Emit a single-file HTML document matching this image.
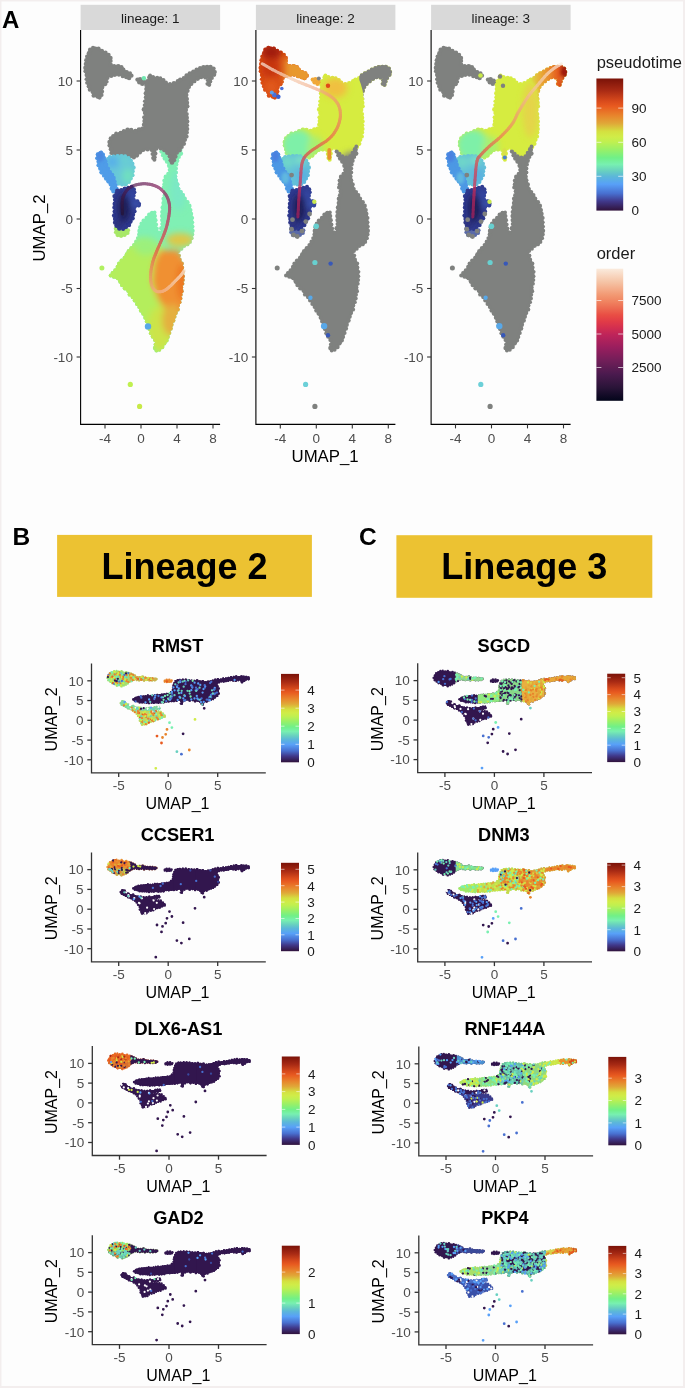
<!DOCTYPE html><html><head><meta charset="utf-8"><style>html,body{margin:0;padding:0;background:#fdfdfd}svg{display:block;will-change:transform;filter:blur(0.35px)}</style></head><body><svg width="685" height="1388" viewBox="0 0 685 1388"><defs><filter id="bl" x="-20%" y="-20%" width="140%" height="140%"><feGaussianBlur stdDeviation="3"/></filter><filter id="bl2" x="-20%" y="-20%" width="140%" height="140%"><feGaussianBlur stdDeviation="1.5"/></filter><path id="pTL" d="M95.3,46.6 C96.6,46.9 98.7,47.8 100.4,48.7 C102.1,49.6 104.0,50.7 105.5,51.8 C107.0,52.9 108.6,54.1 109.6,55.3 C110.6,56.5 111.5,57.8 111.7,58.9 C111.9,60.0 110.9,61.1 110.7,62.0 C110.5,62.9 110.2,63.9 110.5,64.3 C110.8,64.7 111.8,64.4 112.7,64.5 C113.6,64.6 114.6,64.8 115.8,65.0 C117.0,65.2 118.7,65.2 119.9,65.5 C121.1,65.8 122.1,66.4 122.9,67.1 C123.7,67.8 123.5,68.8 124.5,69.6 C125.5,70.4 127.8,71.0 129.0,71.8 C130.2,72.6 131.4,73.4 131.8,74.2 C132.2,75.0 131.8,76.0 131.3,76.8 C130.8,77.6 129.9,78.6 129.0,78.8 C128.1,79.0 127.0,78.2 126.0,77.9 C125.0,77.6 124.1,77.3 122.9,76.9 C121.7,76.5 120.2,75.7 118.8,75.5 C117.4,75.3 115.9,75.7 114.7,75.9 C113.5,76.1 112.7,76.6 111.7,76.9 C110.7,77.2 109.3,76.8 108.6,77.5 C107.9,78.2 107.8,79.8 107.6,80.9 C107.3,82.0 107.4,83.1 107.1,83.9 C106.8,84.7 106.1,84.8 105.5,85.5 C104.9,86.2 103.7,86.9 103.3,88.0 C102.9,89.1 103.2,90.9 103.0,92.1 C102.8,93.3 102.4,94.2 102.0,95.2 C101.6,96.2 101.0,97.8 100.4,98.4 C99.8,99.0 99.1,98.8 98.2,98.6 C97.3,98.3 96.2,97.5 95.3,96.9 C94.4,96.3 93.1,95.8 92.6,95.2 C92.0,94.6 92.4,93.8 92.0,93.1 C91.6,92.4 90.8,91.9 90.2,91.1 C89.6,90.2 88.8,89.4 88.2,88.0 C87.6,86.6 87.1,84.9 86.6,82.9 C86.1,80.9 85.7,77.8 85.4,75.8 C85.1,73.8 84.6,72.6 84.6,70.7 C84.6,68.8 85.2,66.5 85.4,64.5 C85.6,62.5 85.7,60.3 86.0,58.4 C86.3,56.5 86.8,54.8 87.5,53.3 C88.2,51.8 89.1,50.2 90.0,49.2 C90.9,48.2 91.9,47.6 92.8,47.2 C93.7,46.8 94.0,46.4 95.3,46.6Z"/><g id="gTL"><use href="#pTL"/><circle cx="98.5" cy="48.6" r="2.1"/><circle cx="101.9" cy="50.9" r="2.1"/><circle cx="105.5" cy="52.8" r="2.2"/><circle cx="108.6" cy="54.9" r="2.1"/><circle cx="110.4" cy="58.0" r="2.3"/><circle cx="110.7" cy="61.0" r="2.0"/><circle cx="110.6" cy="64.8" r="2.3"/><circle cx="114.3" cy="65.8" r="1.8"/><circle cx="118.2" cy="66.5" r="2.4"/><circle cx="121.4" cy="67.2" r="2.2"/><circle cx="123.6" cy="69.4" r="1.8"/><circle cx="126.9" cy="71.7" r="1.8"/><circle cx="130.1" cy="73.1" r="1.9"/><circle cx="131.5" cy="75.7" r="2.1"/><circle cx="129.1" cy="78.0" r="2.3"/><circle cx="126.3" cy="77.1" r="2.2"/><circle cx="122.8" cy="76.0" r="2.2"/><circle cx="118.9" cy="74.8" r="2.0"/><circle cx="114.8" cy="74.6" r="2.4"/><circle cx="111.2" cy="75.8" r="2.2"/><circle cx="107.6" cy="78.1" r="1.9"/><circle cx="106.9" cy="81.8" r="1.8"/><circle cx="105.2" cy="84.3" r="2.0"/><circle cx="102.3" cy="87.5" r="2.0"/><circle cx="101.8" cy="91.6" r="2.3"/><circle cx="101.7" cy="95.1" r="1.9"/><circle cx="99.5" cy="97.6" r="2.1"/><circle cx="97.5" cy="96.8" r="2.0"/><circle cx="93.7" cy="95.6" r="2.2"/><circle cx="92.8" cy="92.3" r="2.0"/><circle cx="89.7" cy="89.8" r="2.0"/><circle cx="88.9" cy="86.2" r="2.3"/><circle cx="87.0" cy="82.8" r="1.9"/><circle cx="86.3" cy="79.3" r="1.8"/><circle cx="86.4" cy="75.0" r="1.9"/><circle cx="85.5" cy="71.2" r="2.1"/><circle cx="85.4" cy="67.7" r="2.2"/><circle cx="85.9" cy="63.9" r="2.2"/><circle cx="86.2" cy="60.2" r="2.1"/><circle cx="87.0" cy="56.4" r="2.0"/><circle cx="88.9" cy="53.4" r="2.3"/><circle cx="90.2" cy="49.9" r="2.3"/><circle cx="93.0" cy="47.7" r="2.0"/></g><clipPath id="cTL"><use href="#pTL"/><circle cx="98.5" cy="48.6" r="2.1"/><circle cx="101.9" cy="50.9" r="2.1"/><circle cx="105.5" cy="52.8" r="2.2"/><circle cx="108.6" cy="54.9" r="2.1"/><circle cx="110.4" cy="58.0" r="2.3"/><circle cx="110.7" cy="61.0" r="2.0"/><circle cx="110.6" cy="64.8" r="2.3"/><circle cx="114.3" cy="65.8" r="1.8"/><circle cx="118.2" cy="66.5" r="2.4"/><circle cx="121.4" cy="67.2" r="2.2"/><circle cx="123.6" cy="69.4" r="1.8"/><circle cx="126.9" cy="71.7" r="1.8"/><circle cx="130.1" cy="73.1" r="1.9"/><circle cx="131.5" cy="75.7" r="2.1"/><circle cx="129.1" cy="78.0" r="2.3"/><circle cx="126.3" cy="77.1" r="2.2"/><circle cx="122.8" cy="76.0" r="2.2"/><circle cx="118.9" cy="74.8" r="2.0"/><circle cx="114.8" cy="74.6" r="2.4"/><circle cx="111.2" cy="75.8" r="2.2"/><circle cx="107.6" cy="78.1" r="1.9"/><circle cx="106.9" cy="81.8" r="1.8"/><circle cx="105.2" cy="84.3" r="2.0"/><circle cx="102.3" cy="87.5" r="2.0"/><circle cx="101.8" cy="91.6" r="2.3"/><circle cx="101.7" cy="95.1" r="1.9"/><circle cx="99.5" cy="97.6" r="2.1"/><circle cx="97.5" cy="96.8" r="2.0"/><circle cx="93.7" cy="95.6" r="2.2"/><circle cx="92.8" cy="92.3" r="2.0"/><circle cx="89.7" cy="89.8" r="2.0"/><circle cx="88.9" cy="86.2" r="2.3"/><circle cx="87.0" cy="82.8" r="1.9"/><circle cx="86.3" cy="79.3" r="1.8"/><circle cx="86.4" cy="75.0" r="1.9"/><circle cx="85.5" cy="71.2" r="2.1"/><circle cx="85.4" cy="67.7" r="2.2"/><circle cx="85.9" cy="63.9" r="2.2"/><circle cx="86.2" cy="60.2" r="2.1"/><circle cx="87.0" cy="56.4" r="2.0"/><circle cx="88.9" cy="53.4" r="2.3"/><circle cx="90.2" cy="49.9" r="2.3"/><circle cx="93.0" cy="47.7" r="2.0"/></clipPath><path id="pSMALL" d="M136.7,79.3 C136.9,78.6 138.4,78.4 139.3,78.3 C140.2,78.2 141.3,78.4 142.3,78.8 C143.3,79.2 145.1,80.1 145.4,80.9 C145.8,81.8 145.1,83.4 144.4,83.9 C143.7,84.4 142.3,84.3 141.3,84.1 C140.3,83.9 139.0,83.4 138.2,82.6 C137.4,81.8 136.5,80.0 136.7,79.3Z"/><g id="gSMALL"><use href="#pSMALL"/><circle cx="140.1" cy="79.1" r="2.2"/><circle cx="143.3" cy="80.3" r="1.9"/><circle cx="145.0" cy="82.4" r="2.0"/><circle cx="142.3" cy="83.7" r="2.3"/><circle cx="139.3" cy="82.2" r="2.2"/><circle cx="137.5" cy="79.6" r="2.2"/></g><clipPath id="cSMALL"><use href="#pSMALL"/><circle cx="140.1" cy="79.1" r="2.2"/><circle cx="143.3" cy="80.3" r="1.9"/><circle cx="145.0" cy="82.4" r="2.0"/><circle cx="142.3" cy="83.7" r="2.3"/><circle cx="139.3" cy="82.2" r="2.2"/><circle cx="137.5" cy="79.6" r="2.2"/></clipPath><path id="pMAIN" d="M145.6,84.8 C145.9,82.9 146.4,82.1 146.8,81.1 C147.2,80.1 148.0,79.5 148.3,78.6 C148.6,77.7 148.0,76.1 148.5,75.5 C149.0,74.9 150.3,74.7 151.2,74.9 C152.0,75.1 152.4,76.2 153.6,76.5 C154.8,76.8 157.2,76.5 158.6,76.7 C159.9,77.0 160.7,77.4 161.7,78.0 C162.7,78.6 163.7,79.5 164.8,80.4 C165.9,81.3 167.2,82.8 168.5,83.3 C169.8,83.8 171.1,83.6 172.3,83.3 C173.6,83.0 175.0,82.4 176.0,81.7 C177.0,81.0 177.5,79.8 178.5,79.2 C179.5,78.6 181.0,78.6 182.2,78.0 C183.4,77.4 184.4,76.5 185.9,75.5 C187.4,74.5 189.2,72.8 190.9,71.8 C192.6,70.8 194.2,70.1 195.8,69.3 C197.5,68.5 198.9,67.4 200.8,66.8 C202.7,66.2 205.1,65.7 207.0,65.7 C208.9,65.7 210.7,65.8 212.0,66.6 C213.3,67.4 214.5,69.1 215.1,70.3 C215.7,71.5 216.0,72.5 215.7,73.6 C215.4,74.7 213.9,75.7 213.2,76.7 C212.5,77.7 211.9,78.8 211.5,79.8 C211.1,80.8 211.3,81.9 210.9,82.9 C210.5,83.9 209.6,85.4 208.9,85.6 C208.2,85.8 207.1,85.2 206.8,84.2 C206.6,83.2 207.5,80.9 207.4,79.8 C207.3,78.7 207.4,78.0 206.5,77.8 C205.6,77.5 203.6,77.9 202.0,78.3 C200.4,78.7 198.5,79.2 197.1,80.0 C195.7,80.8 194.4,81.9 193.4,82.9 C192.4,83.9 191.6,85.0 190.9,86.0 C190.2,87.0 189.5,88.1 189.0,89.1 C188.5,90.1 188.1,90.7 187.8,92.2 C187.5,93.8 187.2,96.3 187.2,98.4 C187.2,100.5 187.9,102.5 187.8,104.6 C187.7,106.7 186.8,108.3 186.8,110.8 C186.8,113.3 187.7,116.5 187.8,119.5 C187.9,122.5 187.8,126.2 187.6,128.9 C187.4,131.6 187.4,133.5 186.9,135.8 C186.4,138.1 185.7,140.6 184.8,142.7 C184.0,144.8 183.0,146.7 181.8,148.3 C180.6,149.9 178.8,150.6 177.7,152.4 C176.5,154.2 175.7,157.7 174.9,159.4 C174.1,161.2 173.5,162.4 172.8,162.9 C172.1,163.4 171.3,163.2 170.7,162.2 C170.1,161.1 170.2,158.2 169.3,156.6 C168.4,155.0 166.8,153.8 165.2,152.4 C163.6,151.0 161.1,148.5 159.6,148.3 C158.1,148.1 156.8,149.2 156.2,151.1 C155.5,152.9 156.1,157.8 155.7,159.4 C155.3,161.0 154.2,160.9 153.6,160.4 C153.0,159.9 152.6,158.3 152.2,156.6 C151.8,154.9 152.4,151.3 151.3,150.2 C150.2,149.1 147.7,149.4 145.8,150.0 C144.0,150.6 142.0,152.5 140.2,153.8 C138.3,155.1 136.8,157.4 134.7,158.0 C132.6,158.6 130.0,157.3 127.7,157.3 C125.4,157.3 122.9,158.1 120.8,158.0 C118.7,157.9 116.9,157.3 115.3,156.6 C113.7,155.9 112.0,155.2 111.1,153.8 C110.2,152.4 110.0,149.9 109.7,148.3 C109.4,146.7 109.0,145.5 109.0,144.1 C109.0,142.7 109.2,141.4 109.7,140.0 C110.2,138.6 110.7,137.0 111.8,135.8 C112.9,134.6 114.6,133.9 116.6,133.0 C118.6,132.1 121.5,131.0 123.6,130.3 C125.7,129.6 127.2,129.0 129.1,129.0 C130.9,129.0 132.8,130.4 134.7,130.3 C136.5,130.2 138.7,128.7 140.2,128.2 C141.7,127.7 143.0,127.8 143.5,127.2 C144.0,126.6 143.3,125.8 143.2,124.7 C143.1,123.6 142.8,122.1 143.0,120.5 C143.2,118.9 144.1,116.6 144.2,115.0 C144.2,113.4 143.3,112.9 143.3,110.8 C143.3,108.7 144.0,105.3 144.3,102.2 C144.6,99.1 144.8,95.1 145.0,92.2 C145.2,89.3 145.3,86.7 145.6,84.8Z"/><g id="gMAIN"><use href="#pMAIN"/><circle cx="147.3" cy="81.3" r="2.2"/><circle cx="149.4" cy="77.6" r="2.3"/><circle cx="150.1" cy="75.3" r="1.9"/><circle cx="153.1" cy="76.8" r="1.9"/><circle cx="157.2" cy="77.6" r="1.9"/><circle cx="160.4" cy="78.2" r="1.9"/><circle cx="163.4" cy="80.1" r="2.1"/><circle cx="165.8" cy="82.8" r="2.2"/><circle cx="170.0" cy="83.9" r="2.0"/><circle cx="174.0" cy="83.2" r="2.3"/><circle cx="177.9" cy="81.4" r="2.3"/><circle cx="180.2" cy="79.8" r="2.2"/><circle cx="183.9" cy="78.4" r="2.3"/><circle cx="186.7" cy="75.6" r="2.3"/><circle cx="189.8" cy="73.5" r="2.3"/><circle cx="193.3" cy="71.5" r="2.1"/><circle cx="196.6" cy="69.6" r="2.1"/><circle cx="200.0" cy="67.8" r="1.9"/><circle cx="203.5" cy="67.3" r="2.3"/><circle cx="207.1" cy="67.0" r="2.2"/><circle cx="210.5" cy="66.9" r="2.2"/><circle cx="213.5" cy="68.6" r="2.2"/><circle cx="215.0" cy="71.9" r="1.9"/><circle cx="214.2" cy="74.8" r="2.1"/><circle cx="211.8" cy="78.0" r="2.1"/><circle cx="210.3" cy="81.6" r="2.0"/><circle cx="209.2" cy="84.8" r="2.1"/><circle cx="207.3" cy="83.8" r="1.9"/><circle cx="207.9" cy="80.2" r="2.0"/><circle cx="205.4" cy="77.4" r="2.2"/><circle cx="201.2" cy="77.2" r="2.0"/><circle cx="197.6" cy="78.6" r="2.4"/><circle cx="194.5" cy="81.4" r="1.9"/><circle cx="191.2" cy="83.8" r="2.3"/><circle cx="189.1" cy="87.1" r="1.9"/><circle cx="187.4" cy="90.8" r="2.3"/><circle cx="186.2" cy="95.0" r="2.3"/><circle cx="186.7" cy="99.0" r="2.3"/><circle cx="187.0" cy="102.8" r="2.2"/><circle cx="187.1" cy="106.3" r="2.4"/><circle cx="185.9" cy="110.0" r="2.2"/><circle cx="186.6" cy="114.1" r="2.2"/><circle cx="186.8" cy="117.8" r="2.2"/><circle cx="187.2" cy="121.4" r="2.2"/><circle cx="187.1" cy="125.3" r="2.0"/><circle cx="187.1" cy="128.9" r="2.2"/><circle cx="187.0" cy="132.5" r="1.9"/><circle cx="186.4" cy="136.4" r="2.2"/><circle cx="185.0" cy="139.8" r="2.1"/><circle cx="184.0" cy="143.8" r="2.1"/><circle cx="181.9" cy="147.0" r="1.9"/><circle cx="179.5" cy="150.0" r="2.4"/><circle cx="177.0" cy="152.8" r="2.0"/><circle cx="175.4" cy="156.5" r="2.2"/><circle cx="174.1" cy="160.2" r="2.1"/><circle cx="172.0" cy="162.5" r="2.3"/><circle cx="170.5" cy="160.2" r="2.0"/><circle cx="170.0" cy="156.3" r="2.4"/><circle cx="167.2" cy="153.0" r="2.1"/><circle cx="164.2" cy="150.2" r="2.0"/><circle cx="160.8" cy="148.4" r="2.1"/><circle cx="156.4" cy="148.4" r="2.2"/><circle cx="155.3" cy="153.4" r="2.2"/><circle cx="154.7" cy="157.3" r="2.0"/><circle cx="154.4" cy="159.8" r="2.0"/><circle cx="153.1" cy="157.9" r="2.0"/><circle cx="152.5" cy="153.9" r="2.0"/><circle cx="151.6" cy="150.0" r="2.0"/><circle cx="147.6" cy="149.2" r="2.3"/><circle cx="143.7" cy="150.1" r="1.8"/><circle cx="140.1" cy="152.5" r="1.9"/><circle cx="137.0" cy="155.6" r="2.1"/><circle cx="133.9" cy="157.5" r="2.0"/><circle cx="130.0" cy="156.8" r="1.9"/><circle cx="125.4" cy="156.3" r="1.9"/><circle cx="121.4" cy="156.9" r="1.9"/><circle cx="117.5" cy="156.8" r="2.0"/><circle cx="114.0" cy="155.6" r="1.9"/><circle cx="111.4" cy="153.0" r="2.1"/><circle cx="111.1" cy="149.2" r="2.4"/><circle cx="109.5" cy="145.6" r="2.1"/><circle cx="109.6" cy="142.1" r="2.3"/><circle cx="110.9" cy="138.5" r="2.3"/><circle cx="113.1" cy="135.8" r="1.9"/><circle cx="116.1" cy="133.5" r="1.9"/><circle cx="120.5" cy="132.6" r="1.9"/><circle cx="123.8" cy="131.0" r="2.0"/><circle cx="127.6" cy="129.8" r="2.3"/><circle cx="131.2" cy="130.0" r="2.2"/><circle cx="135.4" cy="131.2" r="2.4"/><circle cx="139.1" cy="129.6" r="2.4"/><circle cx="142.3" cy="128.5" r="2.1"/><circle cx="144.1" cy="124.8" r="2.3"/><circle cx="144.2" cy="121.0" r="1.9"/><circle cx="144.2" cy="117.3" r="2.1"/><circle cx="144.9" cy="113.1" r="2.1"/><circle cx="144.0" cy="109.4" r="2.4"/><circle cx="144.6" cy="105.1" r="1.9"/><circle cx="144.7" cy="101.3" r="1.8"/><circle cx="145.7" cy="97.2" r="1.9"/><circle cx="145.9" cy="93.2" r="2.3"/><circle cx="146.5" cy="89.0" r="2.3"/><circle cx="146.3" cy="84.9" r="2.2"/></g><clipPath id="cMAIN"><use href="#pMAIN"/><circle cx="147.3" cy="81.3" r="2.2"/><circle cx="149.4" cy="77.6" r="2.3"/><circle cx="150.1" cy="75.3" r="1.9"/><circle cx="153.1" cy="76.8" r="1.9"/><circle cx="157.2" cy="77.6" r="1.9"/><circle cx="160.4" cy="78.2" r="1.9"/><circle cx="163.4" cy="80.1" r="2.1"/><circle cx="165.8" cy="82.8" r="2.2"/><circle cx="170.0" cy="83.9" r="2.0"/><circle cx="174.0" cy="83.2" r="2.3"/><circle cx="177.9" cy="81.4" r="2.3"/><circle cx="180.2" cy="79.8" r="2.2"/><circle cx="183.9" cy="78.4" r="2.3"/><circle cx="186.7" cy="75.6" r="2.3"/><circle cx="189.8" cy="73.5" r="2.3"/><circle cx="193.3" cy="71.5" r="2.1"/><circle cx="196.6" cy="69.6" r="2.1"/><circle cx="200.0" cy="67.8" r="1.9"/><circle cx="203.5" cy="67.3" r="2.3"/><circle cx="207.1" cy="67.0" r="2.2"/><circle cx="210.5" cy="66.9" r="2.2"/><circle cx="213.5" cy="68.6" r="2.2"/><circle cx="215.0" cy="71.9" r="1.9"/><circle cx="214.2" cy="74.8" r="2.1"/><circle cx="211.8" cy="78.0" r="2.1"/><circle cx="210.3" cy="81.6" r="2.0"/><circle cx="209.2" cy="84.8" r="2.1"/><circle cx="207.3" cy="83.8" r="1.9"/><circle cx="207.9" cy="80.2" r="2.0"/><circle cx="205.4" cy="77.4" r="2.2"/><circle cx="201.2" cy="77.2" r="2.0"/><circle cx="197.6" cy="78.6" r="2.4"/><circle cx="194.5" cy="81.4" r="1.9"/><circle cx="191.2" cy="83.8" r="2.3"/><circle cx="189.1" cy="87.1" r="1.9"/><circle cx="187.4" cy="90.8" r="2.3"/><circle cx="186.2" cy="95.0" r="2.3"/><circle cx="186.7" cy="99.0" r="2.3"/><circle cx="187.0" cy="102.8" r="2.2"/><circle cx="187.1" cy="106.3" r="2.4"/><circle cx="185.9" cy="110.0" r="2.2"/><circle cx="186.6" cy="114.1" r="2.2"/><circle cx="186.8" cy="117.8" r="2.2"/><circle cx="187.2" cy="121.4" r="2.2"/><circle cx="187.1" cy="125.3" r="2.0"/><circle cx="187.1" cy="128.9" r="2.2"/><circle cx="187.0" cy="132.5" r="1.9"/><circle cx="186.4" cy="136.4" r="2.2"/><circle cx="185.0" cy="139.8" r="2.1"/><circle cx="184.0" cy="143.8" r="2.1"/><circle cx="181.9" cy="147.0" r="1.9"/><circle cx="179.5" cy="150.0" r="2.4"/><circle cx="177.0" cy="152.8" r="2.0"/><circle cx="175.4" cy="156.5" r="2.2"/><circle cx="174.1" cy="160.2" r="2.1"/><circle cx="172.0" cy="162.5" r="2.3"/><circle cx="170.5" cy="160.2" r="2.0"/><circle cx="170.0" cy="156.3" r="2.4"/><circle cx="167.2" cy="153.0" r="2.1"/><circle cx="164.2" cy="150.2" r="2.0"/><circle cx="160.8" cy="148.4" r="2.1"/><circle cx="156.4" cy="148.4" r="2.2"/><circle cx="155.3" cy="153.4" r="2.2"/><circle cx="154.7" cy="157.3" r="2.0"/><circle cx="154.4" cy="159.8" r="2.0"/><circle cx="153.1" cy="157.9" r="2.0"/><circle cx="152.5" cy="153.9" r="2.0"/><circle cx="151.6" cy="150.0" r="2.0"/><circle cx="147.6" cy="149.2" r="2.3"/><circle cx="143.7" cy="150.1" r="1.8"/><circle cx="140.1" cy="152.5" r="1.9"/><circle cx="137.0" cy="155.6" r="2.1"/><circle cx="133.9" cy="157.5" r="2.0"/><circle cx="130.0" cy="156.8" r="1.9"/><circle cx="125.4" cy="156.3" r="1.9"/><circle cx="121.4" cy="156.9" r="1.9"/><circle cx="117.5" cy="156.8" r="2.0"/><circle cx="114.0" cy="155.6" r="1.9"/><circle cx="111.4" cy="153.0" r="2.1"/><circle cx="111.1" cy="149.2" r="2.4"/><circle cx="109.5" cy="145.6" r="2.1"/><circle cx="109.6" cy="142.1" r="2.3"/><circle cx="110.9" cy="138.5" r="2.3"/><circle cx="113.1" cy="135.8" r="1.9"/><circle cx="116.1" cy="133.5" r="1.9"/><circle cx="120.5" cy="132.6" r="1.9"/><circle cx="123.8" cy="131.0" r="2.0"/><circle cx="127.6" cy="129.8" r="2.3"/><circle cx="131.2" cy="130.0" r="2.2"/><circle cx="135.4" cy="131.2" r="2.4"/><circle cx="139.1" cy="129.6" r="2.4"/><circle cx="142.3" cy="128.5" r="2.1"/><circle cx="144.1" cy="124.8" r="2.3"/><circle cx="144.2" cy="121.0" r="1.9"/><circle cx="144.2" cy="117.3" r="2.1"/><circle cx="144.9" cy="113.1" r="2.1"/><circle cx="144.0" cy="109.4" r="2.4"/><circle cx="144.6" cy="105.1" r="1.9"/><circle cx="144.7" cy="101.3" r="1.8"/><circle cx="145.7" cy="97.2" r="1.9"/><circle cx="145.9" cy="93.2" r="2.3"/><circle cx="146.5" cy="89.0" r="2.3"/><circle cx="146.3" cy="84.9" r="2.2"/></clipPath><path id="pKITE" d="M161.0,151.0 C161.3,150.5 164.5,154.0 166.0,155.0 C167.5,156.0 168.7,156.8 170.0,157.0 C171.3,157.2 172.7,157.0 174.0,156.0 C175.3,155.0 176.8,152.7 178.0,151.0 C179.2,149.3 180.4,145.7 181.0,146.0 C181.6,146.3 181.9,150.7 181.5,153.0 C181.1,155.3 179.3,158.0 178.5,160.0 C177.7,162.0 176.8,163.3 176.5,165.0 C176.2,166.7 176.3,168.1 176.4,170.3 C176.5,172.5 176.3,175.1 176.8,178.1 C177.3,181.1 178.1,185.4 179.4,188.4 C180.7,191.4 182.9,193.3 184.6,196.2 C186.3,199.1 188.5,202.8 189.8,205.7 C191.1,208.6 191.8,210.8 192.4,213.5 C193.0,216.2 193.2,219.3 193.3,222.2 C193.5,225.1 193.5,228.2 193.3,230.8 C193.2,233.4 193.0,235.6 192.4,237.8 C191.8,240.0 191.1,242.3 189.8,243.8 C188.5,245.3 186.2,245.4 184.6,246.6 C183.0,247.8 181.3,249.5 180.3,250.7 C179.3,251.9 178.2,251.9 178.5,254.0 C178.8,256.1 181.5,260.0 182.4,263.3 C183.3,266.6 183.9,270.2 183.9,274.0 C183.9,277.8 182.9,282.2 182.4,286.3 C181.9,290.4 181.6,294.5 180.8,298.6 C180.0,302.7 179.1,306.7 177.8,310.8 C176.5,314.9 174.5,319.5 173.2,323.1 C171.9,326.7 171.1,329.3 170.2,332.2 C169.3,335.1 169.1,338.1 167.9,340.4 C166.7,342.7 164.6,344.5 163.2,346.2 C161.8,347.9 160.7,349.7 159.5,350.5 C158.3,351.3 156.8,351.2 156.0,351.0 C155.2,350.8 154.7,350.5 154.5,349.0 C154.3,347.5 155.7,344.6 155.0,342.0 C154.3,339.4 151.7,336.2 150.4,333.4 C149.1,330.6 148.4,328.2 147.1,325.0 C145.8,321.8 143.8,316.8 142.5,314.0 C141.2,311.2 140.3,310.1 139.0,308.0 C137.7,305.9 136.6,303.9 134.9,301.6 C133.2,299.3 130.5,296.0 129.0,294.0 C127.5,292.0 127.0,291.0 125.7,289.4 C124.4,287.8 122.3,286.0 121.0,284.5 C119.7,283.0 119.3,281.4 118.0,280.2 C116.7,279.0 114.3,278.3 113.0,277.5 C111.7,276.7 110.5,276.5 110.3,275.6 C110.1,274.7 111.2,272.9 112.0,272.0 C112.8,271.1 113.8,271.3 114.9,270.0 C116.0,268.7 117.2,265.9 118.5,264.0 C119.8,262.1 121.3,260.5 122.6,258.7 C123.8,256.9 124.7,254.8 126.0,253.0 C127.3,251.2 128.8,249.7 130.3,248.0 C131.8,246.3 133.8,244.7 135.0,243.0 C136.2,241.3 136.9,239.8 137.5,238.0 C138.1,236.2 138.1,234.0 138.5,232.0 C138.9,230.0 139.3,227.8 140.0,226.0 C140.7,224.2 141.3,222.8 142.5,221.2 C143.7,219.6 145.8,218.0 147.0,216.6 C148.2,215.2 148.9,213.4 150.0,212.5 C151.1,211.6 152.5,211.1 153.5,211.3 C154.5,211.5 155.3,211.9 155.8,213.5 C156.3,215.1 156.0,218.4 156.3,221.0 C156.6,223.6 156.8,227.3 157.5,229.0 C158.2,230.7 159.9,232.2 160.5,231.0 C161.1,229.8 161.1,225.2 161.2,222.0 C161.3,218.8 161.1,215.6 161.3,212.0 C161.5,208.4 161.9,203.9 162.5,200.6 C163.1,197.2 164.7,194.2 164.8,191.9 C164.9,189.6 163.2,188.4 163.0,186.7 C162.8,185.0 163.4,183.2 163.8,181.5 C164.2,179.8 164.8,177.7 165.6,176.3 C166.3,174.9 167.9,174.6 168.3,172.9 C168.8,171.2 169.0,168.5 168.3,166.0 C167.6,163.5 165.2,160.5 164.0,158.0 C162.8,155.5 160.7,151.5 161.0,151.0Z"/><g id="gKITE"><use href="#pKITE"/><circle cx="164.0" cy="153.9" r="2.2"/><circle cx="166.8" cy="156.6" r="2.4"/><circle cx="170.8" cy="157.6" r="2.0"/><circle cx="175.1" cy="156.5" r="2.2"/><circle cx="177.4" cy="153.0" r="2.2"/><circle cx="179.7" cy="149.4" r="2.3"/><circle cx="181.0" cy="146.4" r="1.9"/><circle cx="180.5" cy="149.7" r="2.0"/><circle cx="180.8" cy="153.6" r="2.3"/><circle cx="179.0" cy="156.9" r="1.9"/><circle cx="177.2" cy="160.8" r="2.2"/><circle cx="176.2" cy="164.4" r="2.2"/><circle cx="175.9" cy="168.5" r="2.0"/><circle cx="176.0" cy="172.4" r="1.9"/><circle cx="175.3" cy="176.4" r="2.0"/><circle cx="175.9" cy="180.3" r="2.1"/><circle cx="177.2" cy="184.6" r="2.3"/><circle cx="178.5" cy="188.8" r="1.9"/><circle cx="180.6" cy="192.1" r="2.2"/><circle cx="183.1" cy="194.9" r="1.9"/><circle cx="184.7" cy="198.6" r="2.1"/><circle cx="187.5" cy="202.2" r="2.1"/><circle cx="189.3" cy="205.9" r="2.3"/><circle cx="190.6" cy="209.9" r="1.9"/><circle cx="191.3" cy="213.7" r="1.9"/><circle cx="192.4" cy="217.9" r="1.8"/><circle cx="192.3" cy="222.3" r="1.9"/><circle cx="192.6" cy="226.6" r="1.9"/><circle cx="192.5" cy="230.8" r="2.2"/><circle cx="192.2" cy="234.4" r="2.1"/><circle cx="191.5" cy="238.2" r="2.1"/><circle cx="190.0" cy="241.9" r="1.9"/><circle cx="187.5" cy="244.4" r="1.9"/><circle cx="184.0" cy="245.6" r="2.4"/><circle cx="181.5" cy="248.8" r="1.9"/><circle cx="178.5" cy="251.0" r="2.1"/><circle cx="178.7" cy="255.6" r="2.2"/><circle cx="179.6" cy="259.7" r="2.1"/><circle cx="181.8" cy="263.5" r="2.1"/><circle cx="182.1" cy="267.6" r="2.0"/><circle cx="183.2" cy="271.8" r="1.9"/><circle cx="182.9" cy="276.3" r="2.1"/><circle cx="182.8" cy="280.0" r="2.0"/><circle cx="182.4" cy="283.8" r="2.0"/><circle cx="181.0" cy="287.4" r="2.2"/><circle cx="181.3" cy="291.2" r="2.4"/><circle cx="180.7" cy="294.8" r="2.0"/><circle cx="180.5" cy="298.5" r="1.9"/><circle cx="179.6" cy="302.2" r="1.9"/><circle cx="178.0" cy="305.6" r="2.0"/><circle cx="177.6" cy="309.4" r="2.2"/><circle cx="175.8" cy="312.9" r="2.0"/><circle cx="174.5" cy="316.8" r="2.0"/><circle cx="173.2" cy="320.5" r="2.2"/><circle cx="171.3" cy="324.7" r="2.3"/><circle cx="170.5" cy="328.5" r="2.3"/><circle cx="169.3" cy="332.9" r="2.0"/><circle cx="167.7" cy="337.0" r="2.1"/><circle cx="166.6" cy="340.6" r="2.0"/><circle cx="164.2" cy="343.3" r="2.2"/><circle cx="162.0" cy="346.9" r="2.4"/><circle cx="159.3" cy="349.7" r="2.0"/><circle cx="156.4" cy="350.5" r="1.9"/><circle cx="155.1" cy="348.0" r="2.2"/><circle cx="155.6" cy="344.4" r="2.0"/><circle cx="155.1" cy="340.1" r="2.1"/><circle cx="153.0" cy="336.5" r="2.3"/><circle cx="150.9" cy="333.2" r="2.0"/><circle cx="149.4" cy="329.1" r="1.9"/><circle cx="148.0" cy="325.8" r="1.9"/><circle cx="146.7" cy="321.4" r="1.9"/><circle cx="145.2" cy="317.8" r="1.9"/><circle cx="143.4" cy="313.6" r="2.2"/><circle cx="141.3" cy="310.4" r="2.4"/><circle cx="139.4" cy="306.9" r="2.1"/><circle cx="137.0" cy="304.1" r="2.0"/><circle cx="134.8" cy="300.5" r="2.1"/><circle cx="132.9" cy="296.9" r="2.3"/><circle cx="129.8" cy="294.4" r="2.2"/><circle cx="128.3" cy="290.8" r="2.1"/><circle cx="125.1" cy="288.2" r="2.3"/><circle cx="122.4" cy="284.9" r="2.4"/><circle cx="120.5" cy="281.6" r="2.3"/><circle cx="117.8" cy="278.5" r="1.8"/><circle cx="113.9" cy="276.8" r="2.0"/><circle cx="110.7" cy="275.6" r="2.0"/><circle cx="112.5" cy="272.8" r="1.8"/><circle cx="115.5" cy="270.5" r="2.3"/><circle cx="117.7" cy="266.9" r="2.1"/><circle cx="119.4" cy="263.8" r="2.4"/><circle cx="121.8" cy="260.6" r="2.2"/><circle cx="124.5" cy="257.5" r="1.8"/><circle cx="126.7" cy="254.2" r="1.9"/><circle cx="129.0" cy="251.3" r="2.4"/><circle cx="131.6" cy="248.3" r="2.3"/><circle cx="134.2" cy="245.0" r="2.1"/><circle cx="136.5" cy="241.9" r="2.4"/><circle cx="137.8" cy="238.1" r="1.9"/><circle cx="139.4" cy="234.6" r="2.3"/><circle cx="139.7" cy="231.0" r="2.4"/><circle cx="140.4" cy="227.3" r="2.3"/><circle cx="141.7" cy="223.8" r="2.3"/><circle cx="143.6" cy="220.5" r="2.1"/><circle cx="146.8" cy="218.1" r="2.3"/><circle cx="149.2" cy="214.7" r="2.2"/><circle cx="152.0" cy="212.8" r="2.1"/><circle cx="154.7" cy="212.4" r="1.8"/><circle cx="154.9" cy="216.1" r="2.1"/><circle cx="155.5" cy="220.2" r="2.1"/><circle cx="156.2" cy="224.5" r="1.9"/><circle cx="156.8" cy="228.6" r="2.0"/><circle cx="159.3" cy="232.5" r="1.9"/><circle cx="161.4" cy="228.3" r="2.3"/><circle cx="162.0" cy="224.1" r="1.8"/><circle cx="162.2" cy="220.1" r="2.2"/><circle cx="162.2" cy="216.1" r="2.3"/><circle cx="162.0" cy="212.0" r="1.9"/><circle cx="162.7" cy="207.5" r="2.2"/><circle cx="163.2" cy="202.9" r="1.9"/><circle cx="163.6" cy="198.8" r="2.2"/><circle cx="164.8" cy="195.2" r="2.2"/><circle cx="165.5" cy="191.2" r="2.3"/><circle cx="163.8" cy="187.4" r="2.1"/><circle cx="164.3" cy="184.3" r="2.0"/><circle cx="164.5" cy="180.6" r="2.2"/><circle cx="165.8" cy="176.9" r="2.3"/><circle cx="168.4" cy="174.1" r="2.3"/><circle cx="169.6" cy="169.8" r="1.9"/><circle cx="169.1" cy="165.8" r="2.2"/><circle cx="167.0" cy="161.6" r="2.2"/><circle cx="165.0" cy="158.4" r="2.4"/><circle cx="163.2" cy="155.3" r="2.3"/><circle cx="161.4" cy="151.6" r="2.1"/></g><clipPath id="cKITE"><use href="#pKITE"/><circle cx="164.0" cy="153.9" r="2.2"/><circle cx="166.8" cy="156.6" r="2.4"/><circle cx="170.8" cy="157.6" r="2.0"/><circle cx="175.1" cy="156.5" r="2.2"/><circle cx="177.4" cy="153.0" r="2.2"/><circle cx="179.7" cy="149.4" r="2.3"/><circle cx="181.0" cy="146.4" r="1.9"/><circle cx="180.5" cy="149.7" r="2.0"/><circle cx="180.8" cy="153.6" r="2.3"/><circle cx="179.0" cy="156.9" r="1.9"/><circle cx="177.2" cy="160.8" r="2.2"/><circle cx="176.2" cy="164.4" r="2.2"/><circle cx="175.9" cy="168.5" r="2.0"/><circle cx="176.0" cy="172.4" r="1.9"/><circle cx="175.3" cy="176.4" r="2.0"/><circle cx="175.9" cy="180.3" r="2.1"/><circle cx="177.2" cy="184.6" r="2.3"/><circle cx="178.5" cy="188.8" r="1.9"/><circle cx="180.6" cy="192.1" r="2.2"/><circle cx="183.1" cy="194.9" r="1.9"/><circle cx="184.7" cy="198.6" r="2.1"/><circle cx="187.5" cy="202.2" r="2.1"/><circle cx="189.3" cy="205.9" r="2.3"/><circle cx="190.6" cy="209.9" r="1.9"/><circle cx="191.3" cy="213.7" r="1.9"/><circle cx="192.4" cy="217.9" r="1.8"/><circle cx="192.3" cy="222.3" r="1.9"/><circle cx="192.6" cy="226.6" r="1.9"/><circle cx="192.5" cy="230.8" r="2.2"/><circle cx="192.2" cy="234.4" r="2.1"/><circle cx="191.5" cy="238.2" r="2.1"/><circle cx="190.0" cy="241.9" r="1.9"/><circle cx="187.5" cy="244.4" r="1.9"/><circle cx="184.0" cy="245.6" r="2.4"/><circle cx="181.5" cy="248.8" r="1.9"/><circle cx="178.5" cy="251.0" r="2.1"/><circle cx="178.7" cy="255.6" r="2.2"/><circle cx="179.6" cy="259.7" r="2.1"/><circle cx="181.8" cy="263.5" r="2.1"/><circle cx="182.1" cy="267.6" r="2.0"/><circle cx="183.2" cy="271.8" r="1.9"/><circle cx="182.9" cy="276.3" r="2.1"/><circle cx="182.8" cy="280.0" r="2.0"/><circle cx="182.4" cy="283.8" r="2.0"/><circle cx="181.0" cy="287.4" r="2.2"/><circle cx="181.3" cy="291.2" r="2.4"/><circle cx="180.7" cy="294.8" r="2.0"/><circle cx="180.5" cy="298.5" r="1.9"/><circle cx="179.6" cy="302.2" r="1.9"/><circle cx="178.0" cy="305.6" r="2.0"/><circle cx="177.6" cy="309.4" r="2.2"/><circle cx="175.8" cy="312.9" r="2.0"/><circle cx="174.5" cy="316.8" r="2.0"/><circle cx="173.2" cy="320.5" r="2.2"/><circle cx="171.3" cy="324.7" r="2.3"/><circle cx="170.5" cy="328.5" r="2.3"/><circle cx="169.3" cy="332.9" r="2.0"/><circle cx="167.7" cy="337.0" r="2.1"/><circle cx="166.6" cy="340.6" r="2.0"/><circle cx="164.2" cy="343.3" r="2.2"/><circle cx="162.0" cy="346.9" r="2.4"/><circle cx="159.3" cy="349.7" r="2.0"/><circle cx="156.4" cy="350.5" r="1.9"/><circle cx="155.1" cy="348.0" r="2.2"/><circle cx="155.6" cy="344.4" r="2.0"/><circle cx="155.1" cy="340.1" r="2.1"/><circle cx="153.0" cy="336.5" r="2.3"/><circle cx="150.9" cy="333.2" r="2.0"/><circle cx="149.4" cy="329.1" r="1.9"/><circle cx="148.0" cy="325.8" r="1.9"/><circle cx="146.7" cy="321.4" r="1.9"/><circle cx="145.2" cy="317.8" r="1.9"/><circle cx="143.4" cy="313.6" r="2.2"/><circle cx="141.3" cy="310.4" r="2.4"/><circle cx="139.4" cy="306.9" r="2.1"/><circle cx="137.0" cy="304.1" r="2.0"/><circle cx="134.8" cy="300.5" r="2.1"/><circle cx="132.9" cy="296.9" r="2.3"/><circle cx="129.8" cy="294.4" r="2.2"/><circle cx="128.3" cy="290.8" r="2.1"/><circle cx="125.1" cy="288.2" r="2.3"/><circle cx="122.4" cy="284.9" r="2.4"/><circle cx="120.5" cy="281.6" r="2.3"/><circle cx="117.8" cy="278.5" r="1.8"/><circle cx="113.9" cy="276.8" r="2.0"/><circle cx="110.7" cy="275.6" r="2.0"/><circle cx="112.5" cy="272.8" r="1.8"/><circle cx="115.5" cy="270.5" r="2.3"/><circle cx="117.7" cy="266.9" r="2.1"/><circle cx="119.4" cy="263.8" r="2.4"/><circle cx="121.8" cy="260.6" r="2.2"/><circle cx="124.5" cy="257.5" r="1.8"/><circle cx="126.7" cy="254.2" r="1.9"/><circle cx="129.0" cy="251.3" r="2.4"/><circle cx="131.6" cy="248.3" r="2.3"/><circle cx="134.2" cy="245.0" r="2.1"/><circle cx="136.5" cy="241.9" r="2.4"/><circle cx="137.8" cy="238.1" r="1.9"/><circle cx="139.4" cy="234.6" r="2.3"/><circle cx="139.7" cy="231.0" r="2.4"/><circle cx="140.4" cy="227.3" r="2.3"/><circle cx="141.7" cy="223.8" r="2.3"/><circle cx="143.6" cy="220.5" r="2.1"/><circle cx="146.8" cy="218.1" r="2.3"/><circle cx="149.2" cy="214.7" r="2.2"/><circle cx="152.0" cy="212.8" r="2.1"/><circle cx="154.7" cy="212.4" r="1.8"/><circle cx="154.9" cy="216.1" r="2.1"/><circle cx="155.5" cy="220.2" r="2.1"/><circle cx="156.2" cy="224.5" r="1.9"/><circle cx="156.8" cy="228.6" r="2.0"/><circle cx="159.3" cy="232.5" r="1.9"/><circle cx="161.4" cy="228.3" r="2.3"/><circle cx="162.0" cy="224.1" r="1.8"/><circle cx="162.2" cy="220.1" r="2.2"/><circle cx="162.2" cy="216.1" r="2.3"/><circle cx="162.0" cy="212.0" r="1.9"/><circle cx="162.7" cy="207.5" r="2.2"/><circle cx="163.2" cy="202.9" r="1.9"/><circle cx="163.6" cy="198.8" r="2.2"/><circle cx="164.8" cy="195.2" r="2.2"/><circle cx="165.5" cy="191.2" r="2.3"/><circle cx="163.8" cy="187.4" r="2.1"/><circle cx="164.3" cy="184.3" r="2.0"/><circle cx="164.5" cy="180.6" r="2.2"/><circle cx="165.8" cy="176.9" r="2.3"/><circle cx="168.4" cy="174.1" r="2.3"/><circle cx="169.6" cy="169.8" r="1.9"/><circle cx="169.1" cy="165.8" r="2.2"/><circle cx="167.0" cy="161.6" r="2.2"/><circle cx="165.0" cy="158.4" r="2.4"/><circle cx="163.2" cy="155.3" r="2.3"/><circle cx="161.4" cy="151.6" r="2.1"/></clipPath><path id="pBLUE" d="M98.5,152.0 C99.3,151.0 100.6,150.7 101.5,151.0 C102.4,151.3 103.2,152.7 104.0,154.0 C104.8,155.3 105.4,157.0 106.0,159.0 C106.6,161.0 106.8,164.0 107.5,166.0 C108.2,168.0 109.5,169.4 110.5,171.0 C111.5,172.6 112.6,173.8 113.4,175.3 C114.2,176.8 115.0,178.5 115.5,180.0 C116.0,181.5 116.2,183.0 116.5,184.5 C116.8,186.0 117.3,187.6 117.0,189.0 C116.7,190.4 115.3,192.7 114.5,193.0 C113.7,193.3 112.7,192.2 112.0,191.0 C111.3,189.8 111.1,187.7 110.3,186.0 C109.5,184.3 108.0,182.5 107.0,181.0 C106.0,179.5 105.2,178.3 104.2,176.8 C103.2,175.3 102.0,173.8 101.0,172.0 C100.0,170.2 98.8,167.8 98.1,166.0 C97.4,164.2 97.3,162.5 97.0,161.0 C96.7,159.5 96.2,158.5 96.5,157.0 C96.8,155.5 97.7,153.0 98.5,152.0Z"/><g id="gBLUE"><use href="#pBLUE"/><circle cx="101.2" cy="152.3" r="1.8"/><circle cx="103.1" cy="154.5" r="1.9"/><circle cx="104.2" cy="157.7" r="1.8"/><circle cx="105.3" cy="161.2" r="2.2"/><circle cx="106.0" cy="164.9" r="2.4"/><circle cx="108.1" cy="168.5" r="2.0"/><circle cx="110.0" cy="172.0" r="2.0"/><circle cx="112.4" cy="174.7" r="1.9"/><circle cx="113.5" cy="178.1" r="2.3"/><circle cx="114.8" cy="181.6" r="1.9"/><circle cx="115.4" cy="185.2" r="2.1"/><circle cx="116.5" cy="188.5" r="2.1"/><circle cx="115.0" cy="191.5" r="1.8"/><circle cx="113.3" cy="191.4" r="2.0"/><circle cx="112.0" cy="188.5" r="2.4"/><circle cx="110.6" cy="184.5" r="2.0"/><circle cx="108.6" cy="181.3" r="2.4"/><circle cx="106.3" cy="178.4" r="2.4"/><circle cx="103.8" cy="175.7" r="1.9"/><circle cx="101.7" cy="172.3" r="2.4"/><circle cx="100.3" cy="168.6" r="2.2"/><circle cx="98.5" cy="165.3" r="2.1"/><circle cx="98.3" cy="161.7" r="1.9"/><circle cx="96.9" cy="158.2" r="1.8"/><circle cx="98.0" cy="154.6" r="2.3"/></g><clipPath id="cBLUE"><use href="#pBLUE"/><circle cx="101.2" cy="152.3" r="1.8"/><circle cx="103.1" cy="154.5" r="1.9"/><circle cx="104.2" cy="157.7" r="1.8"/><circle cx="105.3" cy="161.2" r="2.2"/><circle cx="106.0" cy="164.9" r="2.4"/><circle cx="108.1" cy="168.5" r="2.0"/><circle cx="110.0" cy="172.0" r="2.0"/><circle cx="112.4" cy="174.7" r="1.9"/><circle cx="113.5" cy="178.1" r="2.3"/><circle cx="114.8" cy="181.6" r="1.9"/><circle cx="115.4" cy="185.2" r="2.1"/><circle cx="116.5" cy="188.5" r="2.1"/><circle cx="115.0" cy="191.5" r="1.8"/><circle cx="113.3" cy="191.4" r="2.0"/><circle cx="112.0" cy="188.5" r="2.4"/><circle cx="110.6" cy="184.5" r="2.0"/><circle cx="108.6" cy="181.3" r="2.4"/><circle cx="106.3" cy="178.4" r="2.4"/><circle cx="103.8" cy="175.7" r="1.9"/><circle cx="101.7" cy="172.3" r="2.4"/><circle cx="100.3" cy="168.6" r="2.2"/><circle cx="98.5" cy="165.3" r="2.1"/><circle cx="98.3" cy="161.7" r="1.9"/><circle cx="96.9" cy="158.2" r="1.8"/><circle cx="98.0" cy="154.6" r="2.3"/></clipPath><path id="pLIGHT" d="M106.0,158.0 C106.8,156.7 109.7,156.4 112.0,156.0 C114.3,155.6 117.5,155.4 120.0,155.5 C122.5,155.6 125.2,155.9 127.0,156.5 C128.8,157.1 130.0,157.9 131.0,159.0 C132.0,160.1 132.5,161.5 133.0,163.0 C133.5,164.5 134.0,166.2 134.0,168.0 C134.0,169.8 133.5,172.0 133.0,174.0 C132.5,176.0 132.0,178.3 131.0,180.0 C130.0,181.7 128.7,183.2 127.0,184.0 C125.3,184.8 122.8,185.2 121.0,185.0 C119.2,184.8 117.5,183.8 116.0,182.5 C114.5,181.2 113.2,179.1 112.0,177.0 C110.8,174.9 109.8,172.2 109.0,170.0 C108.2,167.8 107.5,166.0 107.0,164.0 C106.5,162.0 105.2,159.3 106.0,158.0Z"/><g id="gLIGHT"><use href="#pLIGHT"/><circle cx="110.0" cy="157.0" r="2.1"/><circle cx="113.6" cy="156.5" r="2.1"/><circle cx="117.6" cy="156.2" r="2.2"/><circle cx="121.5" cy="156.1" r="2.2"/><circle cx="125.1" cy="156.3" r="2.0"/><circle cx="128.6" cy="157.9" r="1.9"/><circle cx="130.9" cy="160.6" r="2.0"/><circle cx="132.1" cy="163.8" r="2.4"/><circle cx="133.4" cy="167.5" r="2.3"/><circle cx="132.5" cy="171.3" r="2.2"/><circle cx="132.4" cy="175.2" r="2.1"/><circle cx="130.7" cy="178.6" r="2.0"/><circle cx="128.9" cy="182.0" r="2.0"/><circle cx="125.7" cy="183.9" r="2.3"/><circle cx="122.1" cy="184.4" r="2.1"/><circle cx="118.8" cy="183.3" r="2.4"/><circle cx="115.6" cy="181.2" r="1.8"/><circle cx="113.8" cy="177.6" r="2.3"/><circle cx="112.0" cy="174.5" r="2.1"/><circle cx="110.0" cy="171.2" r="1.9"/><circle cx="108.6" cy="167.3" r="2.1"/><circle cx="107.4" cy="163.9" r="2.2"/><circle cx="106.8" cy="159.9" r="1.8"/></g><clipPath id="cLIGHT"><use href="#pLIGHT"/><circle cx="110.0" cy="157.0" r="2.1"/><circle cx="113.6" cy="156.5" r="2.1"/><circle cx="117.6" cy="156.2" r="2.2"/><circle cx="121.5" cy="156.1" r="2.2"/><circle cx="125.1" cy="156.3" r="2.0"/><circle cx="128.6" cy="157.9" r="1.9"/><circle cx="130.9" cy="160.6" r="2.0"/><circle cx="132.1" cy="163.8" r="2.4"/><circle cx="133.4" cy="167.5" r="2.3"/><circle cx="132.5" cy="171.3" r="2.2"/><circle cx="132.4" cy="175.2" r="2.1"/><circle cx="130.7" cy="178.6" r="2.0"/><circle cx="128.9" cy="182.0" r="2.0"/><circle cx="125.7" cy="183.9" r="2.3"/><circle cx="122.1" cy="184.4" r="2.1"/><circle cx="118.8" cy="183.3" r="2.4"/><circle cx="115.6" cy="181.2" r="1.8"/><circle cx="113.8" cy="177.6" r="2.3"/><circle cx="112.0" cy="174.5" r="2.1"/><circle cx="110.0" cy="171.2" r="1.9"/><circle cx="108.6" cy="167.3" r="2.1"/><circle cx="107.4" cy="163.9" r="2.2"/><circle cx="106.8" cy="159.9" r="1.8"/></clipPath><path id="pNAVY" d="M114.5,193.0 C115.0,191.8 115.7,190.8 117.0,190.0 C118.3,189.2 120.9,189.0 122.6,188.5 C124.3,188.0 125.5,187.3 127.0,187.0 C128.5,186.7 130.5,186.2 131.8,186.5 C133.1,186.8 134.5,187.8 135.0,189.0 C135.5,190.2 135.2,192.3 135.0,194.0 C134.8,195.7 133.2,197.8 133.5,199.0 C133.8,200.2 135.9,200.4 137.0,201.0 C138.1,201.6 139.5,202.0 140.0,202.8 C140.5,203.6 140.7,205.2 140.0,206.0 C139.3,206.8 136.8,206.5 136.0,207.5 C135.2,208.5 135.5,210.2 135.0,212.0 C134.5,213.8 133.7,216.3 133.0,218.0 C132.3,219.7 131.7,220.7 131.0,222.0 C130.3,223.3 129.9,224.8 128.7,226.0 C127.5,227.2 125.5,228.5 124.0,229.0 C122.5,229.5 121.2,229.4 120.0,229.0 C118.8,228.6 117.5,227.8 116.5,226.5 C115.5,225.2 114.5,222.9 114.0,221.0 C113.5,219.1 113.4,217.2 113.4,215.0 C113.4,212.8 113.9,210.2 114.0,208.0 C114.1,205.8 114.2,203.8 114.2,202.0 C114.2,200.2 114.0,198.5 114.0,197.0 C114.0,195.5 114.0,194.2 114.5,193.0Z"/><g id="gNAVY"><use href="#pNAVY"/><circle cx="117.4" cy="190.7" r="2.3"/><circle cx="121.2" cy="190.1" r="2.0"/><circle cx="124.8" cy="188.8" r="2.2"/><circle cx="128.2" cy="187.7" r="1.9"/><circle cx="131.7" cy="186.8" r="2.0"/><circle cx="133.9" cy="189.2" r="2.0"/><circle cx="134.4" cy="192.3" r="2.0"/><circle cx="133.2" cy="195.7" r="2.4"/><circle cx="133.4" cy="200.1" r="2.4"/><circle cx="137.2" cy="201.5" r="2.3"/><circle cx="139.2" cy="203.8" r="1.9"/><circle cx="138.7" cy="205.5" r="2.1"/><circle cx="134.7" cy="207.1" r="1.9"/><circle cx="134.3" cy="211.3" r="2.3"/><circle cx="133.2" cy="214.7" r="2.0"/><circle cx="132.4" cy="218.3" r="2.4"/><circle cx="130.3" cy="221.6" r="2.4"/><circle cx="128.9" cy="225.0" r="2.3"/><circle cx="125.8" cy="226.8" r="2.4"/><circle cx="123.1" cy="228.9" r="2.0"/><circle cx="119.4" cy="228.4" r="2.3"/><circle cx="116.7" cy="225.7" r="2.4"/><circle cx="115.2" cy="222.5" r="2.3"/><circle cx="114.8" cy="219.1" r="1.9"/><circle cx="114.3" cy="215.6" r="2.4"/><circle cx="114.5" cy="211.6" r="2.0"/><circle cx="114.6" cy="207.4" r="2.3"/><circle cx="114.7" cy="203.7" r="2.2"/><circle cx="115.0" cy="199.8" r="2.1"/><circle cx="114.5" cy="196.1" r="2.2"/></g><clipPath id="cNAVY"><use href="#pNAVY"/><circle cx="117.4" cy="190.7" r="2.3"/><circle cx="121.2" cy="190.1" r="2.0"/><circle cx="124.8" cy="188.8" r="2.2"/><circle cx="128.2" cy="187.7" r="1.9"/><circle cx="131.7" cy="186.8" r="2.0"/><circle cx="133.9" cy="189.2" r="2.0"/><circle cx="134.4" cy="192.3" r="2.0"/><circle cx="133.2" cy="195.7" r="2.4"/><circle cx="133.4" cy="200.1" r="2.4"/><circle cx="137.2" cy="201.5" r="2.3"/><circle cx="139.2" cy="203.8" r="1.9"/><circle cx="138.7" cy="205.5" r="2.1"/><circle cx="134.7" cy="207.1" r="1.9"/><circle cx="134.3" cy="211.3" r="2.3"/><circle cx="133.2" cy="214.7" r="2.0"/><circle cx="132.4" cy="218.3" r="2.4"/><circle cx="130.3" cy="221.6" r="2.4"/><circle cx="128.9" cy="225.0" r="2.3"/><circle cx="125.8" cy="226.8" r="2.4"/><circle cx="123.1" cy="228.9" r="2.0"/><circle cx="119.4" cy="228.4" r="2.3"/><circle cx="116.7" cy="225.7" r="2.4"/><circle cx="115.2" cy="222.5" r="2.3"/><circle cx="114.8" cy="219.1" r="1.9"/><circle cx="114.3" cy="215.6" r="2.4"/><circle cx="114.5" cy="211.6" r="2.0"/><circle cx="114.6" cy="207.4" r="2.3"/><circle cx="114.7" cy="203.7" r="2.2"/><circle cx="115.0" cy="199.8" r="2.1"/><circle cx="114.5" cy="196.1" r="2.2"/></clipPath><path id="pYBOT" d="M115.0,227.0 C115.7,226.1 118.2,228.8 120.0,229.0 C121.8,229.2 124.5,227.7 126.0,228.0 C127.5,228.3 129.0,229.8 129.0,231.0 C129.0,232.2 127.5,234.6 126.0,235.5 C124.5,236.4 121.7,236.7 120.0,236.5 C118.3,236.3 116.8,236.1 116.0,234.5 C115.2,232.9 114.3,227.9 115.0,227.0Z"/><g id="gYBOT"><use href="#pYBOT"/><circle cx="118.0" cy="228.7" r="2.2"/><circle cx="122.0" cy="229.4" r="1.9"/><circle cx="125.6" cy="228.7" r="2.1"/><circle cx="128.0" cy="230.3" r="2.1"/><circle cx="127.6" cy="233.1" r="2.0"/><circle cx="124.6" cy="235.0" r="2.0"/><circle cx="121.1" cy="235.6" r="2.3"/><circle cx="117.8" cy="234.8" r="2.4"/><circle cx="115.8" cy="232.2" r="1.9"/><circle cx="115.8" cy="228.7" r="2.1"/></g><clipPath id="cYBOT"><use href="#pYBOT"/><circle cx="118.0" cy="228.7" r="2.2"/><circle cx="122.0" cy="229.4" r="1.9"/><circle cx="125.6" cy="228.7" r="2.1"/><circle cx="128.0" cy="230.3" r="2.1"/><circle cx="127.6" cy="233.1" r="2.0"/><circle cx="124.6" cy="235.0" r="2.0"/><circle cx="121.1" cy="235.6" r="2.3"/><circle cx="117.8" cy="234.8" r="2.4"/><circle cx="115.8" cy="232.2" r="1.9"/><circle cx="115.8" cy="228.7" r="2.1"/></clipPath><linearGradient id="tg" x1="0" y1="1" x2="0" y2="0"><stop offset="0.00" stop-color="#30123b"/><stop offset="0.07" stop-color="#40388a"/><stop offset="0.13" stop-color="#4870d0"/><stop offset="0.20" stop-color="#58a0f8"/><stop offset="0.26" stop-color="#5cb8d8"/><stop offset="0.30" stop-color="#68d0c0"/><stop offset="0.35" stop-color="#78f0b0"/><stop offset="0.40" stop-color="#70f088"/><stop offset="0.46" stop-color="#98f068"/><stop offset="0.52" stop-color="#c0f050"/><stop offset="0.56" stop-color="#d0ec48"/><stop offset="0.60" stop-color="#d4e040"/><stop offset="0.66" stop-color="#e0a838"/><stop offset="0.72" stop-color="#e8842c"/><stop offset="0.79" stop-color="#e85a20"/><stop offset="0.83" stop-color="#d84a1c"/><stop offset="0.91" stop-color="#a82a14"/><stop offset="1.00" stop-color="#7a1208"/></linearGradient><linearGradient id="rg" x1="0" y1="1" x2="0" y2="0"><stop offset="0.00" stop-color="#03051a"/><stop offset="0.05" stop-color="#160c29"/><stop offset="0.10" stop-color="#2a1438"/><stop offset="0.15" stop-color="#3a1743"/><stop offset="0.20" stop-color="#4a1a4e"/><stop offset="0.25" stop-color="#5d1c53"/><stop offset="0.30" stop-color="#701e58"/><stop offset="0.35" stop-color="#841e5b"/><stop offset="0.40" stop-color="#981e5e"/><stop offset="0.45" stop-color="#ab215c"/><stop offset="0.50" stop-color="#be245a"/><stop offset="0.55" stop-color="#d22e50"/><stop offset="0.60" stop-color="#e13b47"/><stop offset="0.65" stop-color="#e94e44"/><stop offset="0.70" stop-color="#ec6a51"/><stop offset="0.75" stop-color="#f08360"/><stop offset="0.80" stop-color="#f29872"/><stop offset="0.85" stop-color="#f4ae8c"/><stop offset="0.90" stop-color="#f5c4a6"/><stop offset="0.95" stop-color="#f8d7c1"/><stop offset="1.00" stop-color="#faebdd"/></linearGradient><linearGradient id="armg" gradientUnits="userSpaceOnUse" x1="182" y1="0" x2="216" y2="0"><stop offset="0" stop-color="#dcd040"/><stop offset="0.2" stop-color="#e8b038"/><stop offset="0.5" stop-color="#e8882c"/><stop offset="0.75" stop-color="#e45a1e"/><stop offset="0.9" stop-color="#c03410"/><stop offset="1" stop-color="#a01c08"/></linearGradient><path id="psTL" d="M16.7,-98.1 C17.2,-99.2 17.8,-99.9 19.0,-100.5 C20.2,-101.1 22.1,-101.7 23.7,-101.9 C25.3,-102.1 26.6,-102.1 28.4,-101.9 C30.1,-101.7 32.3,-101.1 34.2,-100.7 C36.1,-100.3 38.5,-99.8 40.0,-99.3 C41.5,-98.8 42.7,-98.0 43.5,-97.5 C44.3,-97.0 43.1,-96.7 44.7,-96.4 C46.3,-96.2 50.4,-96.2 52.9,-96.0 C55.4,-95.8 58.0,-95.4 59.9,-95.2 C61.8,-95.0 63.7,-94.9 64.6,-94.6 C65.5,-94.3 65.3,-93.8 65.1,-93.4 C64.9,-93.0 65.0,-92.5 63.4,-92.3 C61.8,-92.1 57.9,-92.5 55.2,-92.5 C52.5,-92.5 49.0,-92.4 47.0,-92.5 C45.0,-92.6 45.0,-93.2 43.5,-92.9 C42.0,-92.6 39.5,-91.5 37.7,-90.5 C36.0,-89.5 34.8,-87.8 33.0,-87.2 C31.2,-86.6 28.8,-86.6 27.2,-86.8 C25.6,-87.0 25.1,-87.6 23.7,-88.2 C22.3,-88.8 20.3,-89.5 19.0,-90.5 C17.7,-91.5 16.5,-92.7 16.1,-94.0 C15.7,-95.3 16.2,-97.0 16.7,-98.1Z"/><g id="sTL"><use href="#psTL"/><circle cx="18.3" cy="-99.7" r="1.0"/><circle cx="20.4" cy="-100.6" r="1.0"/><circle cx="22.8" cy="-101.5" r="1.4"/><circle cx="25.1" cy="-102.2" r="1.0"/><circle cx="27.4" cy="-101.5" r="0.9"/><circle cx="30.1" cy="-101.7" r="1.3"/><circle cx="32.2" cy="-100.4" r="1.0"/><circle cx="34.8" cy="-100.6" r="1.4"/><circle cx="37.2" cy="-99.9" r="1.2"/><circle cx="39.4" cy="-99.1" r="1.2"/><circle cx="41.4" cy="-97.9" r="1.4"/><circle cx="43.4" cy="-97.0" r="1.3"/><circle cx="45.9" cy="-95.7" r="1.2"/><circle cx="48.4" cy="-96.0" r="1.0"/><circle cx="51.2" cy="-96.0" r="1.4"/><circle cx="53.6" cy="-95.4" r="0.9"/><circle cx="55.8" cy="-95.0" r="1.0"/><circle cx="58.6" cy="-94.9" r="1.1"/><circle cx="61.0" cy="-95.0" r="1.0"/><circle cx="63.5" cy="-94.4" r="1.1"/><circle cx="64.8" cy="-93.8" r="1.3"/><circle cx="63.3" cy="-92.9" r="1.4"/><circle cx="60.6" cy="-92.7" r="1.4"/><circle cx="57.9" cy="-92.7" r="1.4"/><circle cx="55.2" cy="-93.1" r="1.3"/><circle cx="52.6" cy="-92.4" r="1.2"/><circle cx="49.9" cy="-92.8" r="0.9"/><circle cx="47.6" cy="-92.7" r="1.2"/><circle cx="45.3" cy="-92.6" r="0.9"/><circle cx="42.9" cy="-93.2" r="1.1"/><circle cx="40.4" cy="-92.7" r="1.4"/><circle cx="38.0" cy="-91.4" r="1.3"/><circle cx="36.2" cy="-89.5" r="1.3"/><circle cx="34.5" cy="-87.9" r="0.9"/><circle cx="32.4" cy="-87.2" r="1.0"/><circle cx="30.0" cy="-86.5" r="1.2"/><circle cx="27.7" cy="-87.5" r="0.9"/><circle cx="25.4" cy="-87.4" r="1.4"/><circle cx="23.4" cy="-88.7" r="1.1"/><circle cx="20.9" cy="-89.6" r="1.3"/><circle cx="18.8" cy="-91.0" r="1.1"/><circle cx="17.0" cy="-92.6" r="1.3"/><circle cx="15.8" cy="-94.8" r="1.1"/><circle cx="16.8" cy="-97.2" r="0.9"/></g><clipPath id="csTL"><use href="#psTL"/><circle cx="18.3" cy="-99.7" r="1.0"/><circle cx="20.4" cy="-100.6" r="1.0"/><circle cx="22.8" cy="-101.5" r="1.4"/><circle cx="25.1" cy="-102.2" r="1.0"/><circle cx="27.4" cy="-101.5" r="0.9"/><circle cx="30.1" cy="-101.7" r="1.3"/><circle cx="32.2" cy="-100.4" r="1.0"/><circle cx="34.8" cy="-100.6" r="1.4"/><circle cx="37.2" cy="-99.9" r="1.2"/><circle cx="39.4" cy="-99.1" r="1.2"/><circle cx="41.4" cy="-97.9" r="1.4"/><circle cx="43.4" cy="-97.0" r="1.3"/><circle cx="45.9" cy="-95.7" r="1.2"/><circle cx="48.4" cy="-96.0" r="1.0"/><circle cx="51.2" cy="-96.0" r="1.4"/><circle cx="53.6" cy="-95.4" r="0.9"/><circle cx="55.8" cy="-95.0" r="1.0"/><circle cx="58.6" cy="-94.9" r="1.1"/><circle cx="61.0" cy="-95.0" r="1.0"/><circle cx="63.5" cy="-94.4" r="1.1"/><circle cx="64.8" cy="-93.8" r="1.3"/><circle cx="63.3" cy="-92.9" r="1.4"/><circle cx="60.6" cy="-92.7" r="1.4"/><circle cx="57.9" cy="-92.7" r="1.4"/><circle cx="55.2" cy="-93.1" r="1.3"/><circle cx="52.6" cy="-92.4" r="1.2"/><circle cx="49.9" cy="-92.8" r="0.9"/><circle cx="47.6" cy="-92.7" r="1.2"/><circle cx="45.3" cy="-92.6" r="0.9"/><circle cx="42.9" cy="-93.2" r="1.1"/><circle cx="40.4" cy="-92.7" r="1.4"/><circle cx="38.0" cy="-91.4" r="1.3"/><circle cx="36.2" cy="-89.5" r="1.3"/><circle cx="34.5" cy="-87.9" r="0.9"/><circle cx="32.4" cy="-87.2" r="1.0"/><circle cx="30.0" cy="-86.5" r="1.2"/><circle cx="27.7" cy="-87.5" r="0.9"/><circle cx="25.4" cy="-87.4" r="1.4"/><circle cx="23.4" cy="-88.7" r="1.1"/><circle cx="20.9" cy="-89.6" r="1.3"/><circle cx="18.8" cy="-91.0" r="1.1"/><circle cx="17.0" cy="-92.6" r="1.3"/><circle cx="15.8" cy="-94.8" r="1.1"/><circle cx="16.8" cy="-97.2" r="0.9"/></clipPath><path id="psSM" d="M72.7,-92.8 C73.3,-93.2 75.2,-93.3 76.5,-93.2 C77.8,-93.1 79.7,-92.7 80.3,-92.3 C80.9,-91.9 80.6,-90.9 80.0,-90.6 C79.4,-90.3 77.7,-90.4 76.5,-90.4 C75.3,-90.4 73.5,-90.4 72.9,-90.8 C72.3,-91.2 72.1,-92.4 72.7,-92.8Z"/><g id="sSM"><use href="#psSM"/><circle cx="75.2" cy="-93.2" r="1.2"/><circle cx="77.8" cy="-93.1" r="1.3"/><circle cx="80.1" cy="-92.4" r="1.2"/><circle cx="79.6" cy="-91.2" r="1.1"/><circle cx="77.7" cy="-91.1" r="1.3"/><circle cx="75.3" cy="-90.8" r="1.2"/><circle cx="73.2" cy="-91.1" r="1.1"/><circle cx="73.2" cy="-92.2" r="1.1"/></g><clipPath id="csSM"><use href="#psSM"/><circle cx="75.2" cy="-93.2" r="1.2"/><circle cx="77.8" cy="-93.1" r="1.3"/><circle cx="80.1" cy="-92.4" r="1.2"/><circle cx="79.6" cy="-91.2" r="1.1"/><circle cx="77.7" cy="-91.1" r="1.3"/><circle cx="75.3" cy="-90.8" r="1.2"/><circle cx="73.2" cy="-91.1" r="1.1"/><circle cx="73.2" cy="-92.2" r="1.1"/></clipPath><path id="psMAIN" d="M42.4,-74.8 C42.6,-75.3 42.3,-75.5 43.5,-75.9 C44.7,-76.3 47.4,-76.8 49.4,-77.1 C51.4,-77.4 53.2,-77.6 55.2,-77.7 C57.2,-77.8 59.1,-77.6 61.1,-77.7 C63.1,-77.8 65.0,-78.1 66.9,-78.3 C68.8,-78.5 70.8,-78.6 72.7,-78.9 C74.7,-79.2 77.2,-79.2 78.6,-80.0 C80.0,-80.8 80.5,-81.8 81.1,-83.5 C81.7,-85.2 81.7,-88.6 82.4,-90.1 C83.1,-91.6 84.0,-92.2 85.1,-92.7 C86.2,-93.2 86.8,-93.4 89.0,-93.4 C91.2,-93.4 95.1,-92.9 98.2,-92.7 C101.3,-92.5 104.3,-92.3 107.4,-92.1 C110.5,-91.9 114.2,-91.3 116.6,-91.4 C119.0,-91.5 119.9,-92.3 121.9,-92.7 C123.9,-93.1 126.2,-93.6 128.4,-94.0 C130.6,-94.4 132.8,-94.8 135.0,-95.1 C137.2,-95.4 139.2,-95.7 141.6,-96.0 C144.0,-96.3 147.2,-96.7 149.4,-96.7 C151.6,-96.7 153.3,-96.4 154.7,-96.0 C156.1,-95.6 158.0,-94.8 158.0,-94.3 C158.0,-93.8 155.8,-93.5 154.7,-93.0 C153.6,-92.5 152.2,-91.8 151.4,-91.4 C150.6,-91.0 150.4,-90.6 150.1,-90.7 C149.8,-90.8 150.8,-92.0 149.4,-92.2 C148.0,-92.4 144.2,-92.2 141.6,-92.1 C139.0,-92.0 136.1,-91.7 133.7,-91.4 C131.3,-91.1 128.4,-90.8 127.1,-90.1 C125.8,-89.4 125.8,-88.6 125.8,-87.5 C125.8,-86.4 127.0,-85.0 127.1,-83.5 C127.2,-82.0 127.2,-79.8 126.5,-78.3 C125.8,-76.8 124.6,-75.3 123.2,-74.3 C121.8,-73.3 119.7,-73.1 117.9,-72.4 C116.2,-71.8 113.9,-71.2 112.7,-70.4 C111.5,-69.6 111.4,-67.8 110.7,-67.8 C110.0,-67.8 109.7,-69.8 108.7,-70.4 C107.7,-71.1 106.5,-71.4 104.8,-71.7 C103.0,-72.0 100.3,-72.3 98.2,-72.4 C96.1,-72.5 93.1,-72.8 91.9,-72.2 C90.7,-71.6 91.6,-69.4 91.2,-68.8 C90.8,-68.2 89.9,-68.2 89.5,-68.8 C89.1,-69.4 90.2,-71.7 89.0,-72.2 C87.8,-72.7 84.2,-71.9 82.4,-71.7 C80.7,-71.5 80.2,-71.2 78.5,-71.0 C76.8,-70.8 73.9,-70.7 72.0,-70.5 C70.1,-70.3 68.7,-70.2 66.9,-70.1 C65.1,-70.0 63.1,-70.2 61.1,-70.1 C59.1,-70.0 57.2,-69.5 55.2,-69.5 C53.2,-69.5 51.4,-69.8 49.4,-70.1 C47.4,-70.4 44.7,-70.8 43.5,-71.3 C42.3,-71.8 42.2,-72.4 42.0,-73.0 C41.8,-73.6 42.1,-74.3 42.4,-74.8Z"/><g id="sMAIN"><use href="#psMAIN"/><circle cx="44.6" cy="-75.4" r="0.9"/><circle cx="46.9" cy="-76.1" r="1.1"/><circle cx="49.5" cy="-76.4" r="1.1"/><circle cx="51.8" cy="-76.7" r="0.9"/><circle cx="54.1" cy="-76.8" r="1.1"/><circle cx="56.4" cy="-77.7" r="1.1"/><circle cx="58.7" cy="-77.3" r="0.9"/><circle cx="61.1" cy="-77.5" r="0.9"/><circle cx="63.4" cy="-78.0" r="1.0"/><circle cx="65.7" cy="-78.1" r="1.0"/><circle cx="68.1" cy="-77.8" r="1.1"/><circle cx="70.4" cy="-78.0" r="1.4"/><circle cx="72.8" cy="-78.2" r="1.4"/><circle cx="75.3" cy="-78.8" r="1.3"/><circle cx="77.8" cy="-79.0" r="1.2"/><circle cx="79.6" cy="-80.8" r="1.2"/><circle cx="81.2" cy="-82.9" r="1.0"/><circle cx="81.4" cy="-85.4" r="1.0"/><circle cx="82.3" cy="-87.5" r="1.3"/><circle cx="82.8" cy="-89.9" r="1.1"/><circle cx="83.8" cy="-92.1" r="0.9"/><circle cx="86.2" cy="-92.7" r="1.2"/><circle cx="88.4" cy="-93.1" r="1.0"/><circle cx="91.4" cy="-93.4" r="1.0"/><circle cx="94.3" cy="-93.1" r="1.2"/><circle cx="97.2" cy="-92.7" r="1.2"/><circle cx="100.0" cy="-92.3" r="1.2"/><circle cx="102.8" cy="-91.9" r="1.3"/><circle cx="105.6" cy="-92.3" r="1.4"/><circle cx="108.3" cy="-91.4" r="1.3"/><circle cx="111.2" cy="-91.5" r="1.4"/><circle cx="114.1" cy="-90.9" r="1.0"/><circle cx="116.6" cy="-90.9" r="1.4"/><circle cx="119.1" cy="-91.2" r="1.4"/><circle cx="121.4" cy="-92.2" r="1.3"/><circle cx="123.7" cy="-93.2" r="1.2"/><circle cx="126.4" cy="-93.7" r="1.3"/><circle cx="129.2" cy="-93.4" r="1.1"/><circle cx="131.7" cy="-94.7" r="0.9"/><circle cx="134.4" cy="-94.7" r="0.9"/><circle cx="137.0" cy="-94.9" r="1.2"/><circle cx="139.6" cy="-95.5" r="1.3"/><circle cx="142.3" cy="-96.1" r="1.1"/><circle cx="144.7" cy="-96.5" r="1.2"/><circle cx="147.3" cy="-96.0" r="0.9"/><circle cx="150.0" cy="-96.2" r="1.4"/><circle cx="152.3" cy="-96.4" r="1.0"/><circle cx="154.7" cy="-95.9" r="1.3"/><circle cx="156.9" cy="-95.3" r="1.3"/><circle cx="157.1" cy="-93.8" r="1.3"/><circle cx="154.5" cy="-93.6" r="1.4"/><circle cx="152.6" cy="-92.0" r="1.2"/><circle cx="150.5" cy="-90.9" r="1.4"/><circle cx="149.4" cy="-92.3" r="1.0"/><circle cx="146.8" cy="-92.5" r="0.9"/><circle cx="144.2" cy="-92.2" r="1.3"/><circle cx="141.6" cy="-92.2" r="1.0"/><circle cx="139.1" cy="-92.7" r="1.0"/><circle cx="136.7" cy="-92.3" r="1.3"/><circle cx="134.4" cy="-91.9" r="1.2"/><circle cx="132.2" cy="-91.6" r="1.4"/><circle cx="129.9" cy="-91.4" r="1.0"/><circle cx="127.4" cy="-90.7" r="1.2"/><circle cx="125.2" cy="-88.9" r="0.9"/><circle cx="125.8" cy="-86.4" r="1.4"/><circle cx="127.0" cy="-84.4" r="1.3"/><circle cx="126.4" cy="-82.0" r="1.2"/><circle cx="127.0" cy="-79.3" r="1.3"/><circle cx="125.7" cy="-77.0" r="1.2"/><circle cx="123.6" cy="-75.4" r="1.0"/><circle cx="121.7" cy="-73.6" r="0.9"/><circle cx="119.5" cy="-73.0" r="0.9"/><circle cx="117.2" cy="-72.7" r="1.3"/><circle cx="115.1" cy="-71.3" r="1.2"/><circle cx="112.4" cy="-70.9" r="1.3"/><circle cx="111.3" cy="-68.5" r="1.2"/><circle cx="110.2" cy="-69.1" r="1.2"/><circle cx="108.8" cy="-71.3" r="1.4"/><circle cx="106.4" cy="-72.1" r="0.9"/><circle cx="103.6" cy="-71.7" r="1.2"/><circle cx="101.0" cy="-72.6" r="1.0"/><circle cx="98.2" cy="-72.4" r="1.3"/><circle cx="95.4" cy="-73.1" r="0.9"/><circle cx="92.8" cy="-72.4" r="1.3"/><circle cx="91.0" cy="-70.9" r="0.9"/><circle cx="90.5" cy="-69.1" r="1.0"/><circle cx="89.3" cy="-69.3" r="1.1"/><circle cx="89.7" cy="-71.8" r="1.2"/><circle cx="87.4" cy="-72.9" r="0.9"/><circle cx="85.1" cy="-72.4" r="1.4"/><circle cx="82.4" cy="-72.0" r="1.4"/><circle cx="80.0" cy="-72.0" r="1.3"/><circle cx="77.3" cy="-71.3" r="0.9"/><circle cx="74.6" cy="-71.5" r="1.0"/><circle cx="72.0" cy="-70.6" r="1.2"/><circle cx="69.4" cy="-70.6" r="1.3"/><circle cx="66.9" cy="-70.4" r="1.4"/><circle cx="64.6" cy="-70.7" r="1.2"/><circle cx="62.3" cy="-70.2" r="1.2"/><circle cx="59.9" cy="-70.3" r="1.3"/><circle cx="57.5" cy="-69.8" r="1.3"/><circle cx="55.2" cy="-70.0" r="1.0"/><circle cx="52.9" cy="-70.4" r="1.1"/><circle cx="50.6" cy="-70.2" r="1.1"/><circle cx="48.2" cy="-70.5" r="1.3"/><circle cx="45.7" cy="-71.5" r="1.1"/><circle cx="43.3" cy="-71.8" r="1.1"/><circle cx="41.9" cy="-73.4" r="1.4"/></g><clipPath id="csMAIN"><use href="#psMAIN"/><circle cx="44.6" cy="-75.4" r="0.9"/><circle cx="46.9" cy="-76.1" r="1.1"/><circle cx="49.5" cy="-76.4" r="1.1"/><circle cx="51.8" cy="-76.7" r="0.9"/><circle cx="54.1" cy="-76.8" r="1.1"/><circle cx="56.4" cy="-77.7" r="1.1"/><circle cx="58.7" cy="-77.3" r="0.9"/><circle cx="61.1" cy="-77.5" r="0.9"/><circle cx="63.4" cy="-78.0" r="1.0"/><circle cx="65.7" cy="-78.1" r="1.0"/><circle cx="68.1" cy="-77.8" r="1.1"/><circle cx="70.4" cy="-78.0" r="1.4"/><circle cx="72.8" cy="-78.2" r="1.4"/><circle cx="75.3" cy="-78.8" r="1.3"/><circle cx="77.8" cy="-79.0" r="1.2"/><circle cx="79.6" cy="-80.8" r="1.2"/><circle cx="81.2" cy="-82.9" r="1.0"/><circle cx="81.4" cy="-85.4" r="1.0"/><circle cx="82.3" cy="-87.5" r="1.3"/><circle cx="82.8" cy="-89.9" r="1.1"/><circle cx="83.8" cy="-92.1" r="0.9"/><circle cx="86.2" cy="-92.7" r="1.2"/><circle cx="88.4" cy="-93.1" r="1.0"/><circle cx="91.4" cy="-93.4" r="1.0"/><circle cx="94.3" cy="-93.1" r="1.2"/><circle cx="97.2" cy="-92.7" r="1.2"/><circle cx="100.0" cy="-92.3" r="1.2"/><circle cx="102.8" cy="-91.9" r="1.3"/><circle cx="105.6" cy="-92.3" r="1.4"/><circle cx="108.3" cy="-91.4" r="1.3"/><circle cx="111.2" cy="-91.5" r="1.4"/><circle cx="114.1" cy="-90.9" r="1.0"/><circle cx="116.6" cy="-90.9" r="1.4"/><circle cx="119.1" cy="-91.2" r="1.4"/><circle cx="121.4" cy="-92.2" r="1.3"/><circle cx="123.7" cy="-93.2" r="1.2"/><circle cx="126.4" cy="-93.7" r="1.3"/><circle cx="129.2" cy="-93.4" r="1.1"/><circle cx="131.7" cy="-94.7" r="0.9"/><circle cx="134.4" cy="-94.7" r="0.9"/><circle cx="137.0" cy="-94.9" r="1.2"/><circle cx="139.6" cy="-95.5" r="1.3"/><circle cx="142.3" cy="-96.1" r="1.1"/><circle cx="144.7" cy="-96.5" r="1.2"/><circle cx="147.3" cy="-96.0" r="0.9"/><circle cx="150.0" cy="-96.2" r="1.4"/><circle cx="152.3" cy="-96.4" r="1.0"/><circle cx="154.7" cy="-95.9" r="1.3"/><circle cx="156.9" cy="-95.3" r="1.3"/><circle cx="157.1" cy="-93.8" r="1.3"/><circle cx="154.5" cy="-93.6" r="1.4"/><circle cx="152.6" cy="-92.0" r="1.2"/><circle cx="150.5" cy="-90.9" r="1.4"/><circle cx="149.4" cy="-92.3" r="1.0"/><circle cx="146.8" cy="-92.5" r="0.9"/><circle cx="144.2" cy="-92.2" r="1.3"/><circle cx="141.6" cy="-92.2" r="1.0"/><circle cx="139.1" cy="-92.7" r="1.0"/><circle cx="136.7" cy="-92.3" r="1.3"/><circle cx="134.4" cy="-91.9" r="1.2"/><circle cx="132.2" cy="-91.6" r="1.4"/><circle cx="129.9" cy="-91.4" r="1.0"/><circle cx="127.4" cy="-90.7" r="1.2"/><circle cx="125.2" cy="-88.9" r="0.9"/><circle cx="125.8" cy="-86.4" r="1.4"/><circle cx="127.0" cy="-84.4" r="1.3"/><circle cx="126.4" cy="-82.0" r="1.2"/><circle cx="127.0" cy="-79.3" r="1.3"/><circle cx="125.7" cy="-77.0" r="1.2"/><circle cx="123.6" cy="-75.4" r="1.0"/><circle cx="121.7" cy="-73.6" r="0.9"/><circle cx="119.5" cy="-73.0" r="0.9"/><circle cx="117.2" cy="-72.7" r="1.3"/><circle cx="115.1" cy="-71.3" r="1.2"/><circle cx="112.4" cy="-70.9" r="1.3"/><circle cx="111.3" cy="-68.5" r="1.2"/><circle cx="110.2" cy="-69.1" r="1.2"/><circle cx="108.8" cy="-71.3" r="1.4"/><circle cx="106.4" cy="-72.1" r="0.9"/><circle cx="103.6" cy="-71.7" r="1.2"/><circle cx="101.0" cy="-72.6" r="1.0"/><circle cx="98.2" cy="-72.4" r="1.3"/><circle cx="95.4" cy="-73.1" r="0.9"/><circle cx="92.8" cy="-72.4" r="1.3"/><circle cx="91.0" cy="-70.9" r="0.9"/><circle cx="90.5" cy="-69.1" r="1.0"/><circle cx="89.3" cy="-69.3" r="1.1"/><circle cx="89.7" cy="-71.8" r="1.2"/><circle cx="87.4" cy="-72.9" r="0.9"/><circle cx="85.1" cy="-72.4" r="1.4"/><circle cx="82.4" cy="-72.0" r="1.4"/><circle cx="80.0" cy="-72.0" r="1.3"/><circle cx="77.3" cy="-71.3" r="0.9"/><circle cx="74.6" cy="-71.5" r="1.0"/><circle cx="72.0" cy="-70.6" r="1.2"/><circle cx="69.4" cy="-70.6" r="1.3"/><circle cx="66.9" cy="-70.4" r="1.4"/><circle cx="64.6" cy="-70.7" r="1.2"/><circle cx="62.3" cy="-70.2" r="1.2"/><circle cx="59.9" cy="-70.3" r="1.3"/><circle cx="57.5" cy="-69.8" r="1.3"/><circle cx="55.2" cy="-70.0" r="1.0"/><circle cx="52.9" cy="-70.4" r="1.1"/><circle cx="50.6" cy="-70.2" r="1.1"/><circle cx="48.2" cy="-70.5" r="1.3"/><circle cx="45.7" cy="-71.5" r="1.1"/><circle cx="43.3" cy="-71.8" r="1.1"/><circle cx="41.9" cy="-73.4" r="1.4"/></clipPath><path id="psSTR" d="M28.9,-70.7 C29.3,-71.3 30.8,-72.0 31.9,-71.8 C33.0,-71.6 34.0,-70.3 35.4,-69.5 C36.8,-68.7 38.2,-67.8 40.0,-67.2 C41.8,-66.6 43.8,-66.4 45.9,-66.0 C48.0,-65.6 50.6,-64.9 52.9,-64.8 C55.2,-64.7 57.6,-65.1 59.9,-65.4 C62.2,-65.7 65.5,-66.8 66.9,-66.6 C68.3,-66.4 68.9,-64.9 68.1,-64.3 C67.3,-63.7 64.0,-63.5 62.2,-63.1 C60.4,-62.7 57.1,-62.1 57.5,-61.9 C57.9,-61.7 62.6,-62.1 64.6,-61.9 C66.5,-61.7 67.7,-61.5 69.2,-60.7 C70.8,-59.9 73.5,-58.2 73.9,-57.2 C74.3,-56.2 73.1,-55.7 71.6,-54.9 C70.0,-54.1 66.9,-53.4 64.6,-52.6 C62.2,-51.8 59.5,-51.0 57.5,-50.2 C55.5,-49.4 54.2,-48.1 52.9,-47.9 C51.5,-47.7 50.2,-48.1 49.4,-49.1 C48.6,-50.1 48.8,-52.2 48.2,-53.7 C47.6,-55.2 47.1,-57.0 45.9,-58.4 C44.7,-59.8 42.8,-60.9 41.2,-61.9 C39.6,-62.9 38.0,-63.5 36.5,-64.3 C35.0,-65.1 33.1,-65.9 31.9,-66.6 C30.7,-67.3 30.0,-67.6 29.5,-68.3 C29.0,-69.0 28.5,-70.1 28.9,-70.7Z"/><g id="sSTR"><use href="#psSTR"/><circle cx="31.0" cy="-71.4" r="1.4"/><circle cx="33.1" cy="-70.9" r="1.3"/><circle cx="34.6" cy="-69.1" r="1.2"/><circle cx="36.8" cy="-68.1" r="1.3"/><circle cx="39.2" cy="-66.8" r="0.9"/><circle cx="41.6" cy="-66.8" r="1.4"/><circle cx="43.9" cy="-65.8" r="1.0"/><circle cx="46.5" cy="-65.3" r="1.0"/><circle cx="49.3" cy="-65.1" r="1.1"/><circle cx="52.2" cy="-64.8" r="0.9"/><circle cx="55.0" cy="-64.5" r="1.2"/><circle cx="57.8" cy="-65.0" r="1.2"/><circle cx="60.7" cy="-64.7" r="0.9"/><circle cx="63.0" cy="-65.9" r="0.9"/><circle cx="65.3" cy="-66.0" r="1.1"/><circle cx="67.5" cy="-66.1" r="1.0"/><circle cx="67.7" cy="-64.7" r="1.3"/><circle cx="65.5" cy="-63.9" r="1.3"/><circle cx="62.8" cy="-63.2" r="1.1"/><circle cx="60.2" cy="-63.4" r="1.0"/><circle cx="58.0" cy="-62.1" r="0.9"/><circle cx="59.6" cy="-61.4" r="1.3"/><circle cx="62.3" cy="-62.1" r="1.1"/><circle cx="64.6" cy="-61.7" r="1.0"/><circle cx="67.0" cy="-61.5" r="1.1"/><circle cx="69.2" cy="-60.8" r="1.4"/><circle cx="71.4" cy="-59.4" r="1.2"/><circle cx="73.1" cy="-57.5" r="1.2"/><circle cx="73.3" cy="-56.2" r="1.2"/><circle cx="70.8" cy="-55.3" r="1.0"/><circle cx="68.4" cy="-53.8" r="1.0"/><circle cx="65.9" cy="-53.6" r="1.1"/><circle cx="63.8" cy="-52.5" r="0.9"/><circle cx="61.7" cy="-51.6" r="1.2"/><circle cx="59.4" cy="-50.9" r="1.1"/><circle cx="56.9" cy="-50.0" r="1.0"/><circle cx="55.0" cy="-48.8" r="1.4"/><circle cx="52.8" cy="-48.3" r="1.1"/><circle cx="50.6" cy="-48.2" r="1.4"/><circle cx="49.4" cy="-49.9" r="0.9"/><circle cx="48.5" cy="-52.2" r="1.4"/><circle cx="48.0" cy="-54.7" r="1.1"/><circle cx="46.7" cy="-57.0" r="1.4"/><circle cx="45.1" cy="-59.2" r="1.2"/><circle cx="43.5" cy="-61.1" r="1.2"/><circle cx="41.3" cy="-62.0" r="1.0"/><circle cx="39.1" cy="-63.6" r="1.0"/><circle cx="36.7" cy="-64.7" r="1.4"/><circle cx="34.4" cy="-66.1" r="1.3"/><circle cx="32.1" cy="-66.9" r="0.9"/><circle cx="30.4" cy="-68.2" r="1.4"/><circle cx="28.9" cy="-69.8" r="0.9"/></g><clipPath id="csSTR"><use href="#psSTR"/><circle cx="31.0" cy="-71.4" r="1.4"/><circle cx="33.1" cy="-70.9" r="1.3"/><circle cx="34.6" cy="-69.1" r="1.2"/><circle cx="36.8" cy="-68.1" r="1.3"/><circle cx="39.2" cy="-66.8" r="0.9"/><circle cx="41.6" cy="-66.8" r="1.4"/><circle cx="43.9" cy="-65.8" r="1.0"/><circle cx="46.5" cy="-65.3" r="1.0"/><circle cx="49.3" cy="-65.1" r="1.1"/><circle cx="52.2" cy="-64.8" r="0.9"/><circle cx="55.0" cy="-64.5" r="1.2"/><circle cx="57.8" cy="-65.0" r="1.2"/><circle cx="60.7" cy="-64.7" r="0.9"/><circle cx="63.0" cy="-65.9" r="0.9"/><circle cx="65.3" cy="-66.0" r="1.1"/><circle cx="67.5" cy="-66.1" r="1.0"/><circle cx="67.7" cy="-64.7" r="1.3"/><circle cx="65.5" cy="-63.9" r="1.3"/><circle cx="62.8" cy="-63.2" r="1.1"/><circle cx="60.2" cy="-63.4" r="1.0"/><circle cx="58.0" cy="-62.1" r="0.9"/><circle cx="59.6" cy="-61.4" r="1.3"/><circle cx="62.3" cy="-62.1" r="1.1"/><circle cx="64.6" cy="-61.7" r="1.0"/><circle cx="67.0" cy="-61.5" r="1.1"/><circle cx="69.2" cy="-60.8" r="1.4"/><circle cx="71.4" cy="-59.4" r="1.2"/><circle cx="73.1" cy="-57.5" r="1.2"/><circle cx="73.3" cy="-56.2" r="1.2"/><circle cx="70.8" cy="-55.3" r="1.0"/><circle cx="68.4" cy="-53.8" r="1.0"/><circle cx="65.9" cy="-53.6" r="1.1"/><circle cx="63.8" cy="-52.5" r="0.9"/><circle cx="61.7" cy="-51.6" r="1.2"/><circle cx="59.4" cy="-50.9" r="1.1"/><circle cx="56.9" cy="-50.0" r="1.0"/><circle cx="55.0" cy="-48.8" r="1.4"/><circle cx="52.8" cy="-48.3" r="1.1"/><circle cx="50.6" cy="-48.2" r="1.4"/><circle cx="49.4" cy="-49.9" r="0.9"/><circle cx="48.5" cy="-52.2" r="1.4"/><circle cx="48.0" cy="-54.7" r="1.1"/><circle cx="46.7" cy="-57.0" r="1.4"/><circle cx="45.1" cy="-59.2" r="1.2"/><circle cx="43.5" cy="-61.1" r="1.2"/><circle cx="41.3" cy="-62.0" r="1.0"/><circle cx="39.1" cy="-63.6" r="1.0"/><circle cx="36.7" cy="-64.7" r="1.4"/><circle cx="34.4" cy="-66.1" r="1.3"/><circle cx="32.1" cy="-66.9" r="0.9"/><circle cx="30.4" cy="-68.2" r="1.4"/><circle cx="28.9" cy="-69.8" r="0.9"/></clipPath></defs><rect width="685" height="1388" fill="#f3eeee"/><rect x="1.5" y="1.5" width="681.5" height="1384.5" fill="#fdfdfd"/><text x="2" y="27.6" font-family="Liberation Sans, sans-serif" font-size="24" font-weight="bold" fill="#000">A</text><rect x="80.6" y="4.8" width="139.5" height="25.2" fill="#d9d9d9"/><text x="150.3" y="23" font-family="Liberation Sans, sans-serif" font-size="13.5" fill="#1a1a1a" text-anchor="middle">lineage: 1</text><path d="M80.6,30V424.4H220.1" fill="none" stroke="#000" stroke-width="1.1"/><path d="M76.6,81.0H80.6" stroke="#333" stroke-width="1.1"/><text x="72.9" y="85.8" font-family="Liberation Sans, sans-serif" font-size="13.5" fill="#4d4d4d" text-anchor="end">10</text><path d="M76.6,150.0H80.6" stroke="#333" stroke-width="1.1"/><text x="72.9" y="154.8" font-family="Liberation Sans, sans-serif" font-size="13.5" fill="#4d4d4d" text-anchor="end">5</text><path d="M76.6,219.0H80.6" stroke="#333" stroke-width="1.1"/><text x="72.9" y="223.8" font-family="Liberation Sans, sans-serif" font-size="13.5" fill="#4d4d4d" text-anchor="end">0</text><path d="M76.6,288.5H80.6" stroke="#333" stroke-width="1.1"/><text x="72.9" y="293.3" font-family="Liberation Sans, sans-serif" font-size="13.5" fill="#4d4d4d" text-anchor="end">-5</text><path d="M76.6,357.0H80.6" stroke="#333" stroke-width="1.1"/><text x="72.9" y="361.8" font-family="Liberation Sans, sans-serif" font-size="13.5" fill="#4d4d4d" text-anchor="end">-10</text><path d="M105.0,424.4V428.4" stroke="#333" stroke-width="1.1"/><text x="105.0" y="442.5" font-family="Liberation Sans, sans-serif" font-size="13.5" fill="#4d4d4d" text-anchor="middle">-4</text><path d="M141.0,424.4V428.4" stroke="#333" stroke-width="1.1"/><text x="141.0" y="442.5" font-family="Liberation Sans, sans-serif" font-size="13.5" fill="#4d4d4d" text-anchor="middle">0</text><path d="M177.0,424.4V428.4" stroke="#333" stroke-width="1.1"/><text x="177.0" y="442.5" font-family="Liberation Sans, sans-serif" font-size="13.5" fill="#4d4d4d" text-anchor="middle">4</text><path d="M213.0,424.4V428.4" stroke="#333" stroke-width="1.1"/><text x="213.0" y="442.5" font-family="Liberation Sans, sans-serif" font-size="13.5" fill="#4d4d4d" text-anchor="middle">8</text><rect x="255.9" y="4.8" width="139.5" height="25.2" fill="#d9d9d9"/><text x="325.6" y="23" font-family="Liberation Sans, sans-serif" font-size="13.5" fill="#1a1a1a" text-anchor="middle">lineage: 2</text><path d="M255.9,30V424.4H395.4" fill="none" stroke="#000" stroke-width="1.1"/><path d="M251.9,81.0H255.9" stroke="#333" stroke-width="1.1"/><text x="248.2" y="85.8" font-family="Liberation Sans, sans-serif" font-size="13.5" fill="#4d4d4d" text-anchor="end">10</text><path d="M251.9,150.0H255.9" stroke="#333" stroke-width="1.1"/><text x="248.2" y="154.8" font-family="Liberation Sans, sans-serif" font-size="13.5" fill="#4d4d4d" text-anchor="end">5</text><path d="M251.9,219.0H255.9" stroke="#333" stroke-width="1.1"/><text x="248.2" y="223.8" font-family="Liberation Sans, sans-serif" font-size="13.5" fill="#4d4d4d" text-anchor="end">0</text><path d="M251.9,288.5H255.9" stroke="#333" stroke-width="1.1"/><text x="248.2" y="293.3" font-family="Liberation Sans, sans-serif" font-size="13.5" fill="#4d4d4d" text-anchor="end">-5</text><path d="M251.9,357.0H255.9" stroke="#333" stroke-width="1.1"/><text x="248.2" y="361.8" font-family="Liberation Sans, sans-serif" font-size="13.5" fill="#4d4d4d" text-anchor="end">-10</text><path d="M280.3,424.4V428.4" stroke="#333" stroke-width="1.1"/><text x="280.3" y="442.5" font-family="Liberation Sans, sans-serif" font-size="13.5" fill="#4d4d4d" text-anchor="middle">-4</text><path d="M316.3,424.4V428.4" stroke="#333" stroke-width="1.1"/><text x="316.3" y="442.5" font-family="Liberation Sans, sans-serif" font-size="13.5" fill="#4d4d4d" text-anchor="middle">0</text><path d="M352.3,424.4V428.4" stroke="#333" stroke-width="1.1"/><text x="352.3" y="442.5" font-family="Liberation Sans, sans-serif" font-size="13.5" fill="#4d4d4d" text-anchor="middle">4</text><path d="M388.3,424.4V428.4" stroke="#333" stroke-width="1.1"/><text x="388.3" y="442.5" font-family="Liberation Sans, sans-serif" font-size="13.5" fill="#4d4d4d" text-anchor="middle">8</text><rect x="431.1" y="4.8" width="139.5" height="25.2" fill="#d9d9d9"/><text x="500.8" y="23" font-family="Liberation Sans, sans-serif" font-size="13.5" fill="#1a1a1a" text-anchor="middle">lineage: 3</text><path d="M431.1,30V424.4H570.6" fill="none" stroke="#000" stroke-width="1.1"/><path d="M427.1,81.0H431.1" stroke="#333" stroke-width="1.1"/><text x="423.4" y="85.8" font-family="Liberation Sans, sans-serif" font-size="13.5" fill="#4d4d4d" text-anchor="end">10</text><path d="M427.1,150.0H431.1" stroke="#333" stroke-width="1.1"/><text x="423.4" y="154.8" font-family="Liberation Sans, sans-serif" font-size="13.5" fill="#4d4d4d" text-anchor="end">5</text><path d="M427.1,219.0H431.1" stroke="#333" stroke-width="1.1"/><text x="423.4" y="223.8" font-family="Liberation Sans, sans-serif" font-size="13.5" fill="#4d4d4d" text-anchor="end">0</text><path d="M427.1,288.5H431.1" stroke="#333" stroke-width="1.1"/><text x="423.4" y="293.3" font-family="Liberation Sans, sans-serif" font-size="13.5" fill="#4d4d4d" text-anchor="end">-5</text><path d="M427.1,357.0H431.1" stroke="#333" stroke-width="1.1"/><text x="423.4" y="361.8" font-family="Liberation Sans, sans-serif" font-size="13.5" fill="#4d4d4d" text-anchor="end">-10</text><path d="M455.5,424.4V428.4" stroke="#333" stroke-width="1.1"/><text x="455.5" y="442.5" font-family="Liberation Sans, sans-serif" font-size="13.5" fill="#4d4d4d" text-anchor="middle">-4</text><path d="M491.5,424.4V428.4" stroke="#333" stroke-width="1.1"/><text x="491.5" y="442.5" font-family="Liberation Sans, sans-serif" font-size="13.5" fill="#4d4d4d" text-anchor="middle">0</text><path d="M527.5,424.4V428.4" stroke="#333" stroke-width="1.1"/><text x="527.5" y="442.5" font-family="Liberation Sans, sans-serif" font-size="13.5" fill="#4d4d4d" text-anchor="middle">4</text><path d="M563.5,424.4V428.4" stroke="#333" stroke-width="1.1"/><text x="563.5" y="442.5" font-family="Liberation Sans, sans-serif" font-size="13.5" fill="#4d4d4d" text-anchor="middle">8</text><text x="325.1" y="461.7" font-family="Liberation Sans, sans-serif" font-size="16.8" fill="#000" text-anchor="middle">UMAP_1</text><text transform="translate(45.3,228) rotate(-90)" font-family="Liberation Sans, sans-serif" font-size="16.8" fill="#000" text-anchor="middle">UMAP_2</text><g transform="translate(0.0,0)"><g><use href="#gKITE" fill="#80f0b4"/><g clip-path="url(#cKITE)"><g filter="url(#bl)"><polygon points="95.0,280.0 122.0,250.0 140.0,237.0 160.0,244.0 172.0,258.0 192.0,300.0 182.0,340.0 158.0,362.0 136.0,318.0 108.0,290.0" fill="#b4ee5c"/><ellipse cx="146.0" cy="246.0" rx="12.0" ry="9.0" fill="#9cf07c"/><ellipse cx="160.0" cy="328.0" rx="12.0" ry="22.0" fill="#cce448"/><polygon points="160.0,250.0 178.0,250.0 189.0,265.0 189.0,300.0 184.0,320.0 170.0,314.0 158.0,300.0 152.0,282.0 154.0,262.0" fill="#f09030"/><ellipse cx="182.0" cy="282.0" rx="5.0" ry="18.0" fill="#ec7422"/><ellipse cx="172.0" cy="320.0" rx="10.0" ry="16.0" fill="#e4b040"/><ellipse cx="180.0" cy="240.0" rx="14.0" ry="7.0" fill="#dcc848"/><ellipse cx="178.0" cy="190.0" rx="8.0" ry="20.0" fill="#7ae8c4"/></g></g><use href="#gTL" fill="#7f817f"/><use href="#gSMALL" fill="#7f817f"/><use href="#gMAIN" fill="#7f817f"/><circle cx="143.9" cy="78.3" r="2.2" fill="#70e8b0"/><circle cx="148.0" cy="326.4" r="3.2" fill="#58a8e8"/><use href="#gLIGHT" fill="#68c8d8"/><g clip-path="url(#cLIGHT)"><g filter="url(#bl)"><ellipse cx="112.0" cy="162.0" rx="7.0" ry="6.0" fill="#58b0e8"/><ellipse cx="128.0" cy="176.0" rx="6.0" ry="8.0" fill="#70e0c0"/><ellipse cx="125.0" cy="160.0" rx="5.0" ry="4.0" fill="#68d0d0"/></g></g><use href="#gBLUE" fill="#4f9ce8"/><g clip-path="url(#cBLUE)"><g filter="url(#bl2)"><ellipse cx="100.0" cy="156.0" rx="4.0" ry="6.0" fill="#4a88e0"/></g></g><use href="#gYBOT" fill="#a8e868"/><use href="#gNAVY" fill="#2f3a8e"/><g clip-path="url(#cNAVY)"><g filter="url(#bl)"><ellipse cx="124.0" cy="208.0" rx="6.0" ry="14.0" fill="#1e1c55"/><ellipse cx="136.0" cy="204.0" rx="4.0" ry="3.0" fill="#4060c0"/><ellipse cx="118.0" cy="224.0" rx="4.0" ry="3.0" fill="#2a2a70"/><ellipse cx="132.0" cy="195.0" rx="3.0" ry="5.0" fill="#3850b0"/></g></g><circle cx="101.9" cy="267.9" r="2.5" fill="#b0f060"/><circle cx="130.3" cy="384.4" r="2.6" fill="#c0f050"/><circle cx="139.6" cy="406.4" r="2.6" fill="#c8ea48"/></g><g fill="none" stroke-width="3.0" stroke-linecap="round" opacity="0.70"><path d="M122.4 214.0L122.3 211.3" stroke="#251234"/><path d="M122.3 211.3L122.2 207.4" stroke="#2a1438"/><path d="M122.2 207.4L122.1 203.3" stroke="#30153c"/><path d="M122.1 203.3L122.4 199.8" stroke="#351640"/><path d="M122.4 199.8L123.0 197.1" stroke="#3a1743"/><path d="M123.0 197.1L123.9 194.9" stroke="#3d1845"/><path d="M123.9 194.9L124.9 192.9" stroke="#411847"/><path d="M124.9 192.9L126.1 191.1" stroke="#44194a"/><path d="M126.1 191.1L127.4 189.5" stroke="#47194c"/><path d="M127.4 189.5L128.9 188.2" stroke="#491a4e"/><path d="M128.9 188.2L130.5 187.2" stroke="#4d1a4f"/><path d="M130.5 187.2L132.3 186.2" stroke="#501b50"/><path d="M132.3 186.2L134.3 185.4" stroke="#531b50"/><path d="M134.3 185.4L136.5 184.7" stroke="#571b51"/><path d="M136.5 184.7L138.8 184.2" stroke="#5b1c52"/><path d="M138.8 184.2L141.0 183.9" stroke="#5f1c53"/><path d="M141.0 183.9L143.2 183.7" stroke="#631d54"/><path d="M143.2 183.7L145.3 183.8" stroke="#661d55"/><path d="M145.3 183.8L147.5 183.9" stroke="#6a1d56"/><path d="M147.5 183.9L149.7 184.3" stroke="#6e1e57"/><path d="M149.7 184.3L151.9 184.8" stroke="#711e58"/><path d="M151.9 184.8L154.2 185.5" stroke="#761e59"/><path d="M154.2 185.5L156.4 186.4" stroke="#7a1e59"/><path d="M156.4 186.4L158.4 187.4" stroke="#7e1e5a"/><path d="M158.4 187.4L160.2 188.6" stroke="#821e5b"/><path d="M160.2 188.6L161.8 190.0" stroke="#851e5b"/><path d="M161.8 190.0L163.3 191.5" stroke="#891e5c"/><path d="M163.3 191.5L164.6 193.0" stroke="#8d1e5c"/><path d="M164.6 193.0L165.8 194.6" stroke="#901e5d"/><path d="M165.8 194.6L166.8 196.3" stroke="#941e5d"/><path d="M166.8 196.3L167.6 198.0" stroke="#971e5e"/><path d="M167.6 198.0L168.3 199.8" stroke="#9a1e5e"/><path d="M168.3 199.8L168.8 201.6" stroke="#9e1f5d"/><path d="M168.8 201.6L169.2 203.4" stroke="#a11f5d"/><path d="M169.2 203.4L169.5 205.3" stroke="#a4205d"/><path d="M169.5 205.3L169.6 207.3" stroke="#a7205c"/><path d="M169.6 207.3L169.6 209.3" stroke="#ab215c"/><path d="M169.6 209.3L169.5 211.4" stroke="#ae215c"/><path d="M169.5 211.4L169.2 213.6" stroke="#b2225b"/><path d="M169.2 213.6L168.9 216.0" stroke="#b6235b"/><path d="M168.9 216.0L168.4 218.7" stroke="#ba235a"/><path d="M168.4 218.7L167.8 221.6" stroke="#bf245a"/><path d="M167.8 221.6L167.2 224.4" stroke="#c42757"/><path d="M167.2 224.4L166.5 227.1" stroke="#c92955"/><path d="M166.5 227.1L165.8 229.4" stroke="#cd2c52"/><path d="M165.8 229.4L165.0 231.6" stroke="#d22e50"/><path d="M165.0 231.6L164.2 233.7" stroke="#d6304e"/><path d="M164.2 233.7L163.4 235.8" stroke="#da324c"/><path d="M163.4 235.8L162.5 238.0" stroke="#de344a"/><path d="M162.5 238.0L161.5 240.2" stroke="#e03749"/><path d="M161.5 240.2L160.6 242.3" stroke="#e13b47"/><path d="M160.6 242.3L159.6 244.5" stroke="#e33e46"/><path d="M159.6 244.5L158.7 246.7" stroke="#e54245"/><path d="M158.7 246.7L157.7 248.8" stroke="#e74543"/><path d="M157.7 248.8L156.8 251.0" stroke="#e84943"/><path d="M156.8 251.0L155.9 253.2" stroke="#e94f45"/><path d="M155.9 253.2L155.1 255.3" stroke="#ea5548"/><path d="M155.1 255.3L154.2 257.5" stroke="#ea5b4a"/><path d="M154.2 257.5L153.5 259.6" stroke="#eb614d"/><path d="M153.5 259.6L152.8 261.9" stroke="#ec674f"/><path d="M152.8 261.9L152.2 264.3" stroke="#ed6d52"/><path d="M152.2 264.3L151.7 266.8" stroke="#ee7355"/><path d="M151.7 266.8L151.2 269.3" stroke="#ee7958"/><path d="M151.2 269.3L150.9 271.8" stroke="#ef7d5c"/><path d="M150.9 271.8L150.7 274.4" stroke="#ef8260"/><path d="M150.7 274.4L150.7 277.0" stroke="#f08764"/><path d="M150.7 277.0L150.7 279.5" stroke="#f18c68"/><path d="M150.7 279.5L150.9 281.7" stroke="#f1906c"/><path d="M150.9 281.7L151.2 283.6" stroke="#f2946f"/><path d="M151.2 283.6L151.6 285.2" stroke="#f29772"/><path d="M151.6 285.2L152.1 286.6" stroke="#f29a75"/><path d="M152.1 286.6L152.8 287.9" stroke="#f29d78"/><path d="M152.8 287.9L153.7 289.1" stroke="#f3a07c"/><path d="M153.7 289.1L154.7 290.2" stroke="#f3a37f"/><path d="M154.7 290.2L155.9 291.0" stroke="#f3a683"/><path d="M155.9 291.0L157.2 291.6" stroke="#f3a986"/><path d="M157.2 291.6L158.6 291.8" stroke="#f3ac89"/><path d="M158.6 291.8L160.2 291.8" stroke="#f4af8d"/><path d="M160.2 291.8L161.8 291.5" stroke="#f4b290"/><path d="M161.8 291.5L163.4 291.0" stroke="#f4b594"/><path d="M163.4 291.0L165.0 290.2" stroke="#f4b898"/><path d="M165.0 290.2L166.5 289.2" stroke="#f4bc9c"/><path d="M166.5 289.2L168.1 288.0" stroke="#f5bfa1"/><path d="M168.1 288.0L169.6 286.7" stroke="#f5c3a5"/><path d="M169.6 286.7L171.2 285.3" stroke="#f5c7aa"/><path d="M171.2 285.3L172.8 283.6" stroke="#f6cbaf"/><path d="M172.8 283.6L174.3 282.0" stroke="#f6cfb5"/><path d="M174.3 282.0L175.8 280.5" stroke="#f7d2ba"/><path d="M175.8 280.5L177.1 279.2" stroke="#f7d6bf"/><path d="M177.1 279.2L178.4 277.9" stroke="#f8d9c3"/><path d="M178.4 277.9L179.6 276.7" stroke="#f8dcc8"/><path d="M179.6 276.7L180.7 275.5" stroke="#f8dfcc"/><path d="M180.7 275.5L181.8 274.1" stroke="#f9e2d0"/><path d="M181.8 274.1L182.9 272.7" stroke="#f9e5d4"/><path d="M182.9 272.7L183.8 271.4" stroke="#fae8d8"/><path d="M183.8 271.4L184.5 270.5" stroke="#faeadc"/></g></g><g transform="translate(175.3,0)"><g><use href="#gTL" fill="#d84a14"/><g clip-path="url(#cTL)"><g filter="url(#bl)"><ellipse cx="96.0" cy="52.0" rx="10.0" ry="8.0" fill="#a01c0a"/><ellipse cx="95.0" cy="68.0" rx="9.0" ry="10.0" fill="#c63510"/><ellipse cx="96.0" cy="88.0" rx="7.0" ry="9.0" fill="#e05a1a"/><polygon points="109.0,58.0 138.0,62.0 138.0,84.0 109.0,84.0" fill="#e8982e"/></g></g><circle cx="99.0" cy="95.0" r="2.4" fill="#4a70d8"/><circle cx="103.0" cy="96.8" r="2.3" fill="#3a60d0"/><circle cx="96.5" cy="92.5" r="2.0" fill="#58a0f0"/><circle cx="106.5" cy="88.5" r="1.8" fill="#4a70d8"/><use href="#gSMALL" fill="#f0a838"/><circle cx="143.5" cy="78.5" r="2.0" fill="#7f817f"/><use href="#gMAIN" fill="#d6ec40"/><g clip-path="url(#cMAIN)"><g filter="url(#bl)"><ellipse cx="160.0" cy="88.0" rx="12.0" ry="10.0" fill="#f0c040"/><ellipse cx="122.0" cy="145.0" rx="16.0" ry="16.0" fill="#7ef0a8"/><ellipse cx="140.0" cy="148.0" rx="8.0" ry="12.0" fill="#a8f070"/><ellipse cx="178.0" cy="158.0" rx="11.0" ry="6.0" fill="#7f817f"/></g></g><g clip-path="url(#cMAIN)"><polygon points="183.5,60 230,60 230,100 189,100 187.2,90 185.5,84 184,80" fill="#7f817f"/></g><circle cx="152.7" cy="85.8" r="2.2" fill="#e04818"/><use href="#gKITE" fill="#7f817f"/><path d="M154,150V158" stroke="#e89030" stroke-width="3.8" stroke-linecap="round"/><circle cx="140.9" cy="226.3" r="2.8" fill="#68d0d0"/><circle cx="139.6" cy="262.5" r="2.6" fill="#68d0d0"/><circle cx="155.3" cy="263.6" r="2.2" fill="#3858b8"/><circle cx="135.1" cy="297.7" r="2.2" fill="#58a8e8"/><circle cx="148.8" cy="326.1" r="3.2" fill="#58a8e8"/><circle cx="152.7" cy="335.3" r="2.2" fill="#3858b8"/><use href="#gLIGHT" fill="#64c0d8"/><g clip-path="url(#cLIGHT)"><g filter="url(#bl)"><ellipse cx="112.0" cy="162.0" rx="7.0" ry="6.0" fill="#70d8c8"/><ellipse cx="128.0" cy="176.0" rx="6.0" ry="8.0" fill="#5ab0e0"/><ellipse cx="125.0" cy="160.0" rx="5.0" ry="4.0" fill="#80e8c0"/></g></g><use href="#gBLUE" fill="#4c98e4"/><g clip-path="url(#cBLUE)"><g filter="url(#bl2)"><ellipse cx="100.0" cy="156.0" rx="4.0" ry="6.0" fill="#4a80e0"/><ellipse cx="110.0" cy="178.0" rx="4.0" ry="6.0" fill="#60b8e0"/></g></g><use href="#gYBOT" fill="#5a6aa8"/><use href="#gNAVY" fill="#2f3a8e"/><g clip-path="url(#cNAVY)"><g filter="url(#bl)"><ellipse cx="124.0" cy="208.0" rx="6.0" ry="14.0" fill="#1e1c55"/><ellipse cx="136.0" cy="204.0" rx="4.0" ry="3.0" fill="#4060c0"/><ellipse cx="118.0" cy="224.0" rx="4.0" ry="3.0" fill="#2a2a70"/><ellipse cx="132.0" cy="195.0" rx="3.0" ry="5.0" fill="#3850b0"/></g></g><circle cx="116.3" cy="175.1" r="2.4" fill="#7f817f"/><circle cx="134.3" cy="214.0" r="2.4" fill="#7f817f"/><circle cx="117.2" cy="219.7" r="2.4" fill="#7f817f"/><circle cx="130.5" cy="221.6" r="2.4" fill="#7f817f"/><circle cx="118.2" cy="234.9" r="2.4" fill="#7f817f"/><circle cx="126.7" cy="231.1" r="2.4" fill="#7f817f"/><circle cx="116.3" cy="229.2" r="2.4" fill="#7f817f"/><circle cx="122.0" cy="236.5" r="2.4" fill="#7f817f"/><circle cx="139.0" cy="201.7" r="2.2" fill="#c8e850"/><circle cx="101.9" cy="267.9" r="2.5" fill="#7f817f"/><circle cx="130.3" cy="384.4" r="2.6" fill="#6cd0d8"/><circle cx="139.6" cy="406.4" r="2.6" fill="#7f817f"/></g><g fill="none" stroke-width="3.0" stroke-linecap="round" opacity="0.70"><path d="M122.6 217.0L122.7 214.0" stroke="#ac215c"/><path d="M122.7 214.0L123.0 209.6" stroke="#b0225b"/><path d="M123.0 209.6L123.2 204.7" stroke="#b5235b"/><path d="M123.2 204.7L123.5 200.0" stroke="#b9235b"/><path d="M123.5 200.0L123.8 195.5" stroke="#be245a"/><path d="M123.8 195.5L124.2 191.0" stroke="#c22658"/><path d="M124.2 191.0L124.6 186.4" stroke="#c72856"/><path d="M124.6 186.4L125.0 182.0" stroke="#cb2b53"/><path d="M125.0 182.0L125.3 177.5" stroke="#d02d51"/><path d="M125.3 177.5L125.6 172.9" stroke="#d52f4f"/><path d="M125.6 172.9L125.9 168.7" stroke="#d9324c"/><path d="M125.9 168.7L126.4 165.1" stroke="#dd344a"/><path d="M126.4 165.1L126.9 162.4" stroke="#df3649"/><path d="M126.9 162.4L127.6 160.5" stroke="#e03848"/><path d="M127.6 160.5L128.3 158.8" stroke="#e13a48"/><path d="M128.3 158.8L129.3 157.2" stroke="#e23b47"/><path d="M129.3 157.2L130.5 155.6" stroke="#e23d46"/><path d="M130.5 155.6L131.9 154.2" stroke="#e33f46"/><path d="M131.9 154.2L133.5 152.8" stroke="#e44045"/><path d="M133.5 152.8L135.2 151.4" stroke="#e54244"/><path d="M135.2 151.4L137.2 149.9" stroke="#e64444"/><path d="M137.2 149.9L139.4 148.5" stroke="#e74643"/><path d="M139.4 148.5L141.7 147.0" stroke="#e84942"/><path d="M141.7 147.0L143.9 145.5" stroke="#e94d44"/><path d="M143.9 145.5L146.1 144.1" stroke="#e95146"/><path d="M146.1 144.1L148.4 142.7" stroke="#ea5548"/><path d="M148.4 142.7L150.7 141.3" stroke="#ea5949"/><path d="M150.7 141.3L152.7 139.7" stroke="#eb5c4b"/><path d="M152.7 139.7L154.6 138.0" stroke="#eb604c"/><path d="M154.6 138.0L156.3 136.2" stroke="#ec644e"/><path d="M156.3 136.2L157.9 134.4" stroke="#ec6750"/><path d="M157.9 134.4L159.3 132.4" stroke="#ed6b51"/><path d="M159.3 132.4L160.6 130.3" stroke="#ed6e53"/><path d="M160.6 130.3L161.8 128.1" stroke="#ed7254"/><path d="M161.8 128.1L162.8 125.8" stroke="#ee7656"/><path d="M162.8 125.8L163.6 123.6" stroke="#ee7858"/><path d="M163.6 123.6L164.2 121.4" stroke="#ef7b5a"/><path d="M164.2 121.4L164.7 119.2" stroke="#ef7d5c"/><path d="M164.7 119.2L165.0 117.1" stroke="#ef805e"/><path d="M165.0 117.1L165.1 114.9" stroke="#ef8260"/><path d="M165.1 114.9L165.0 112.7" stroke="#f08562"/><path d="M165.0 112.7L164.8 110.4" stroke="#f08764"/><path d="M164.8 110.4L164.3 108.2" stroke="#f08966"/><path d="M164.3 108.2L163.6 106.1" stroke="#f18c68"/><path d="M163.6 106.1L162.7 104.1" stroke="#f18e6a"/><path d="M162.7 104.1L161.5 102.3" stroke="#f1916c"/><path d="M161.5 102.3L160.1 100.5" stroke="#f1936e"/><path d="M160.1 100.5L158.5 98.8" stroke="#f29570"/><path d="M158.5 98.8L156.6 97.2" stroke="#f29872"/><path d="M156.6 97.2L154.6 95.8" stroke="#f29b75"/><path d="M154.6 95.8L152.3 94.4" stroke="#f29e79"/><path d="M152.3 94.4L149.8 93.0" stroke="#f3a17c"/><path d="M149.8 93.0L147.2 91.7" stroke="#f3a480"/><path d="M147.2 91.7L144.3 90.4" stroke="#f3a784"/><path d="M144.3 90.4L141.3 89.1" stroke="#f3ab88"/><path d="M141.3 89.1L138.1 87.8" stroke="#f4af8d"/><path d="M138.1 87.8L134.7 86.4" stroke="#f4b392"/><path d="M134.7 86.4L131.0 85.0" stroke="#f4b797"/><path d="M131.0 85.0L127.2 83.5" stroke="#f4bc9c"/><path d="M127.2 83.5L123.5 82.0" stroke="#f5c0a1"/><path d="M123.5 82.0L119.8 80.4" stroke="#f5c5a7"/><path d="M119.8 80.4L116.0 78.7" stroke="#f6c9ac"/><path d="M116.0 78.7L112.3 77.0" stroke="#f6cdb2"/><path d="M112.3 77.0L108.9 75.4" stroke="#f7d1b8"/><path d="M108.9 75.4L105.7 73.9" stroke="#f7d4bd"/><path d="M105.7 73.9L102.8 72.5" stroke="#f8d8c2"/><path d="M102.8 72.5L100.0 71.0" stroke="#f8dbc6"/><path d="M100.0 71.0L97.2 69.6" stroke="#f8deca"/><path d="M97.2 69.6L94.3 68.0" stroke="#f9e1cf"/><path d="M94.3 68.0L91.4 66.3" stroke="#f9e4d4"/><path d="M91.4 66.3L88.8 64.8" stroke="#fae7d8"/><path d="M88.8 64.8L87.0 63.8" stroke="#faeadc"/></g></g><g transform="translate(350.5,0)"><g><use href="#gTL" fill="#7f817f"/><use href="#gSMALL" fill="#7f817f"/><circle cx="130.0" cy="75.5" r="2.3" fill="#c8e848"/><use href="#gMAIN" fill="#d6ec40"/><g clip-path="url(#cMAIN)"><g filter="url(#bl)"><ellipse cx="122.0" cy="145.0" rx="16.0" ry="16.0" fill="#7ef0a8"/><ellipse cx="140.0" cy="148.0" rx="8.0" ry="12.0" fill="#a8f070"/><ellipse cx="180.0" cy="110.0" rx="8.0" ry="28.0" fill="#e4d448"/></g></g><g clip-path="url(#cMAIN)"><g filter="url(#bl2)"><polygon points="181,60 230,60 230,100 189,100 187.2,90 185,84 181,80" fill="url(#armg)"/><ellipse cx="213.5" cy="72.0" rx="3.5" ry="5.0" fill="#a01c08"/><ellipse cx="211.0" cy="80.0" rx="2.5" ry="4.0" fill="#e06020"/></g></g><circle cx="152.5" cy="85.8" r="2.2" fill="#7f817f"/><circle cx="149.5" cy="76.5" r="2.2" fill="#7f817f"/><use href="#gKITE" fill="#7f817f"/><path d="M154,150V158" stroke="#d8e048" stroke-width="3.8" stroke-linecap="round"/><circle cx="154.3" cy="157.5" r="2.0" fill="#4a80d0"/><circle cx="140.9" cy="226.3" r="2.8" fill="#68d0d0"/><circle cx="139.6" cy="262.5" r="2.6" fill="#68d0d0"/><circle cx="155.3" cy="263.6" r="2.2" fill="#3858b8"/><circle cx="135.1" cy="297.7" r="2.2" fill="#58a8e8"/><circle cx="148.8" cy="326.1" r="3.2" fill="#58a8e8"/><circle cx="152.7" cy="335.3" r="2.2" fill="#3858b8"/><use href="#gLIGHT" fill="#64c0d8"/><g clip-path="url(#cLIGHT)"><g filter="url(#bl)"><ellipse cx="112.0" cy="162.0" rx="7.0" ry="6.0" fill="#70d8c8"/><ellipse cx="128.0" cy="176.0" rx="6.0" ry="8.0" fill="#5ab0e0"/><ellipse cx="125.0" cy="160.0" rx="5.0" ry="4.0" fill="#80e8c0"/></g></g><use href="#gBLUE" fill="#4c98e4"/><g clip-path="url(#cBLUE)"><g filter="url(#bl2)"><ellipse cx="100.0" cy="156.0" rx="4.0" ry="6.0" fill="#4a80e0"/><ellipse cx="110.0" cy="178.0" rx="4.0" ry="6.0" fill="#60b8e0"/></g></g><use href="#gYBOT" fill="#5a6aa8"/><use href="#gNAVY" fill="#2f3a8e"/><g clip-path="url(#cNAVY)"><g filter="url(#bl)"><ellipse cx="124.0" cy="208.0" rx="6.0" ry="14.0" fill="#1e1c55"/><ellipse cx="136.0" cy="204.0" rx="4.0" ry="3.0" fill="#4060c0"/><ellipse cx="118.0" cy="224.0" rx="4.0" ry="3.0" fill="#2a2a70"/><ellipse cx="132.0" cy="195.0" rx="3.0" ry="5.0" fill="#3850b0"/></g></g><circle cx="116.3" cy="175.1" r="2.4" fill="#7f817f"/><circle cx="134.3" cy="214.0" r="2.4" fill="#7f817f"/><circle cx="117.2" cy="219.7" r="2.4" fill="#7f817f"/><circle cx="130.5" cy="221.6" r="2.4" fill="#7f817f"/><circle cx="118.2" cy="234.9" r="2.4" fill="#7f817f"/><circle cx="126.7" cy="231.1" r="2.4" fill="#7f817f"/><circle cx="116.3" cy="229.2" r="2.4" fill="#7f817f"/><circle cx="122.0" cy="236.5" r="2.4" fill="#7f817f"/><circle cx="139.0" cy="201.7" r="2.2" fill="#c8e850"/><circle cx="101.9" cy="267.9" r="2.5" fill="#7f817f"/><circle cx="130.3" cy="384.4" r="2.6" fill="#6cd0d8"/><circle cx="139.6" cy="406.4" r="2.6" fill="#7f817f"/></g><g fill="none" stroke-width="3.0" stroke-linecap="round" opacity="0.70"><path d="M122.3 217.0L122.5 214.0" stroke="#ad215c"/><path d="M122.5 214.0L122.7 209.8" stroke="#b1225b"/><path d="M122.7 209.8L122.9 204.9" stroke="#b6235b"/><path d="M122.9 204.9L123.2 200.0" stroke="#bb245a"/><path d="M123.2 200.0L123.5 195.2" stroke="#c12559"/><path d="M123.5 195.2L123.8 190.1" stroke="#c72856"/><path d="M123.8 190.1L124.1 185.0" stroke="#cd2b53"/><path d="M124.1 185.0L124.5 180.0" stroke="#d32e50"/><path d="M124.5 180.0L124.9 174.9" stroke="#d9314d"/><path d="M124.9 174.9L125.3 169.7" stroke="#de354a"/><path d="M125.3 169.7L125.8 164.8" stroke="#e13a48"/><path d="M125.8 164.8L126.5 161.0" stroke="#e33e46"/><path d="M126.5 161.0L127.3 158.6" stroke="#e54145"/><path d="M127.3 158.6L128.2 157.1" stroke="#e64344"/><path d="M128.2 157.1L129.3 156.0" stroke="#e64543"/><path d="M129.3 156.0L130.6 154.6" stroke="#e74743"/><path d="M130.6 154.6L132.3 152.7" stroke="#e84943"/><path d="M132.3 152.7L134.3 150.6" stroke="#e94e45"/><path d="M134.3 150.6L136.4 148.6" stroke="#e95347"/><path d="M136.4 148.6L138.6 146.5" stroke="#ea5849"/><path d="M138.6 146.5L140.9 144.5" stroke="#eb5d4b"/><path d="M140.9 144.5L143.4 142.5" stroke="#eb624d"/><path d="M143.4 142.5L145.9 140.5" stroke="#ec6850"/><path d="M145.9 140.5L148.2 138.5" stroke="#ed6d52"/><path d="M148.2 138.5L150.4 136.5" stroke="#ed7254"/><path d="M150.4 136.5L152.4 134.5" stroke="#ee7757"/><path d="M152.4 134.5L154.4 132.5" stroke="#ef7a5a"/><path d="M154.4 132.5L156.3 130.5" stroke="#ef7e5c"/><path d="M156.3 130.5L158.1 128.5" stroke="#ef815f"/><path d="M158.1 128.5L159.7 126.5" stroke="#f08562"/><path d="M159.7 126.5L161.3 124.5" stroke="#f08865"/><path d="M161.3 124.5L162.7 122.4" stroke="#f08b67"/><path d="M162.7 122.4L164.0 120.1" stroke="#f18e6a"/><path d="M164.0 120.1L165.2 117.6" stroke="#f1926d"/><path d="M165.2 117.6L166.3 115.1" stroke="#f29570"/><path d="M166.3 115.1L167.5 112.8" stroke="#f29872"/><path d="M167.5 112.8L168.7 110.7" stroke="#f29c76"/><path d="M168.7 110.7L169.8 108.8" stroke="#f29f7a"/><path d="M169.8 108.8L171.0 106.9" stroke="#f3a27d"/><path d="M171.0 106.9L172.3 104.8" stroke="#f3a581"/><path d="M172.3 104.8L173.7 102.5" stroke="#f3a885"/><path d="M173.7 102.5L175.3 100.0" stroke="#f3ac89"/><path d="M175.3 100.0L176.9 97.6" stroke="#f4af8e"/><path d="M176.9 97.6L178.7 95.1" stroke="#f4b392"/><path d="M178.7 95.1L180.6 92.7" stroke="#f4b797"/><path d="M180.6 92.7L182.5 90.4" stroke="#f4bb9c"/><path d="M182.5 90.4L184.6 88.0" stroke="#f5bfa0"/><path d="M184.6 88.0L186.8 85.5" stroke="#f5c3a5"/><path d="M186.8 85.5L189.1 82.7" stroke="#f5c7ab"/><path d="M189.1 82.7L191.6 79.7" stroke="#f6ccb1"/><path d="M191.6 79.7L194.1 76.8" stroke="#f7d0b7"/><path d="M194.1 76.8L196.4 74.3" stroke="#f7d4bd"/><path d="M196.4 74.3L198.5 72.3" stroke="#f8d8c2"/><path d="M198.5 72.3L200.6 70.6" stroke="#f8dbc7"/><path d="M200.6 70.6L202.5 69.1" stroke="#f8decb"/><path d="M202.5 69.1L204.4 67.8" stroke="#f9e1cf"/><path d="M204.4 67.8L206.3 66.5" stroke="#f9e4d2"/><path d="M206.3 66.5L208.2 65.4" stroke="#f9e6d6"/><path d="M208.2 65.4L209.8 64.5" stroke="#fae8d9"/><path d="M209.8 64.5L210.9 63.8" stroke="#faeadc"/></g></g><text x="596.7" y="68.2" font-family="Liberation Sans, sans-serif" font-size="16.5" fill="#1a1a1a">pseudotime</text><rect x="596.4" y="78.5" width="26.8" height="132.1" fill="url(#tg)"/><path d="M596.4,108.1h5M618.2,108.1h5" stroke="#fff" stroke-width="0.8" opacity="0.8"/><text x="631.4" y="112.9" font-family="Liberation Sans, sans-serif" font-size="13.5" fill="#1a1a1a">90</text><path d="M596.4,142.3h5M618.2,142.3h5" stroke="#fff" stroke-width="0.8" opacity="0.8"/><text x="631.4" y="147.1" font-family="Liberation Sans, sans-serif" font-size="13.5" fill="#1a1a1a">60</text><path d="M596.4,176.3h5M618.2,176.3h5" stroke="#fff" stroke-width="0.8" opacity="0.8"/><text x="631.4" y="181.1" font-family="Liberation Sans, sans-serif" font-size="13.5" fill="#1a1a1a">30</text><text x="631.4" y="215.4" font-family="Liberation Sans, sans-serif" font-size="13.5" fill="#1a1a1a">0</text><text x="596.7" y="258.5" font-family="Liberation Sans, sans-serif" font-size="16.5" fill="#1a1a1a">order</text><rect x="596.4" y="268.7" width="26.8" height="132.1" fill="url(#rg)"/><path d="M596.4,300.5h5M618.2,300.5h5" stroke="#fff" stroke-width="0.8" opacity="0.8"/><text x="631.4" y="305.3" font-family="Liberation Sans, sans-serif" font-size="13.5" fill="#1a1a1a">7500</text><path d="M596.4,334.0h5M618.2,334.0h5" stroke="#fff" stroke-width="0.8" opacity="0.8"/><text x="631.4" y="338.8" font-family="Liberation Sans, sans-serif" font-size="13.5" fill="#1a1a1a">5000</text><path d="M596.4,367.5h5M618.2,367.5h5" stroke="#fff" stroke-width="0.8" opacity="0.8"/><text x="631.4" y="372.3" font-family="Liberation Sans, sans-serif" font-size="13.5" fill="#1a1a1a">2500</text><text x="12.6" y="545.4" font-family="Liberation Sans, sans-serif" font-size="24.5" font-weight="bold" fill="#000">B</text><text x="359" y="545.4" font-family="Liberation Sans, sans-serif" font-size="24.5" font-weight="bold" fill="#000">C</text><rect x="57.1" y="534.9" width="254.8" height="62" fill="#ecc232"/><rect x="396.4" y="535.2" width="255.9" height="62.6" fill="#ecc232"/><text x="184.5" y="579.1" font-family="Liberation Sans, sans-serif" font-size="36" font-weight="bold" fill="#000" text-anchor="middle">Lineage 2</text><text x="524.3" y="579.4" font-family="Liberation Sans, sans-serif" font-size="36" font-weight="bold" fill="#000" text-anchor="middle">Lineage 3</text><path d="M91.5,663.5V772.9H265.8" fill="none" stroke="#333" stroke-width="1.3"/><path d="M87.3,680.8H91.5" stroke="#333" stroke-width="1.3"/><text x="83.5" y="685.5" font-family="Liberation Sans, sans-serif" font-size="13.5" fill="#4d4d4d" text-anchor="end">10</text><path d="M87.3,700.5H91.5" stroke="#333" stroke-width="1.3"/><text x="83.5" y="705.3" font-family="Liberation Sans, sans-serif" font-size="13.5" fill="#4d4d4d" text-anchor="end">5</text><path d="M87.3,720.3H91.5" stroke="#333" stroke-width="1.3"/><text x="83.5" y="725.1" font-family="Liberation Sans, sans-serif" font-size="13.5" fill="#4d4d4d" text-anchor="end">0</text><path d="M87.3,740.1H91.5" stroke="#333" stroke-width="1.3"/><text x="83.5" y="744.9" font-family="Liberation Sans, sans-serif" font-size="13.5" fill="#4d4d4d" text-anchor="end">-5</text><path d="M87.3,759.8H91.5" stroke="#333" stroke-width="1.3"/><text x="83.5" y="764.6" font-family="Liberation Sans, sans-serif" font-size="13.5" fill="#4d4d4d" text-anchor="end">-10</text><path d="M118.7,772.9V777.1" stroke="#333" stroke-width="1.3"/><text x="118.7" y="790.1" font-family="Liberation Sans, sans-serif" font-size="13.5" fill="#4d4d4d" text-anchor="middle">-5</text><path d="M168.2,772.9V777.1" stroke="#333" stroke-width="1.3"/><text x="168.2" y="790.1" font-family="Liberation Sans, sans-serif" font-size="13.5" fill="#4d4d4d" text-anchor="middle">0</text><path d="M217.7,772.9V777.1" stroke="#333" stroke-width="1.3"/><text x="217.7" y="790.1" font-family="Liberation Sans, sans-serif" font-size="13.5" fill="#4d4d4d" text-anchor="middle">5</text><text x="177.5" y="808.9" font-family="Liberation Sans, sans-serif" font-size="16" fill="#000" text-anchor="middle">UMAP_1</text><text transform="translate(56.5,719.4) rotate(-90)" font-family="Liberation Sans, sans-serif" font-size="16" fill="#000" text-anchor="middle">UMAP_2</text><text x="177.6" y="652.0" font-family="Liberation Sans, sans-serif" font-size="18.2" font-weight="bold" fill="#000" text-anchor="middle">RMST</text><rect x="281.0" y="673.9" width="18" height="88.4" fill="url(#tg)"/><text x="307.2" y="767.1" font-family="Liberation Sans, sans-serif" font-size="13.5" fill="#1a1a1a">0</text><path d="M281.0,744.3h3.5M295.5,744.3h3.5" stroke="#fff" stroke-width="0.8" opacity="0.7"/><text x="307.2" y="749.1" font-family="Liberation Sans, sans-serif" font-size="13.5" fill="#1a1a1a">1</text><path d="M281.0,726.2h3.5M295.5,726.2h3.5" stroke="#fff" stroke-width="0.8" opacity="0.7"/><text x="307.2" y="731.0" font-family="Liberation Sans, sans-serif" font-size="13.5" fill="#1a1a1a">2</text><path d="M281.0,708.2h3.5M295.5,708.2h3.5" stroke="#fff" stroke-width="0.8" opacity="0.7"/><text x="307.2" y="713.0" font-family="Liberation Sans, sans-serif" font-size="13.5" fill="#1a1a1a">3</text><path d="M281.0,690.1h3.5M295.5,690.1h3.5" stroke="#fff" stroke-width="0.8" opacity="0.7"/><text x="307.2" y="694.9" font-family="Liberation Sans, sans-serif" font-size="13.5" fill="#1a1a1a">4</text><g transform="translate(91.5,772.9)"><use href="#sTL" fill="#a0e070"/><g clip-path="url(#csTL)"><rect x="38" y="-103" width="30" height="18" fill="#d0b050"/></g><use href="#sSM" fill="#e8842c"/><use href="#sMAIN" fill="#32164e"/><g clip-path="url(#csMAIN)"><rect x="60" y="-100" width="22" height="35" fill="#32164e"/><rect x="82" y="-100" width="22" height="35" fill="#32164e"/><rect x="104" y="-100" width="23" height="35" fill="#32164e"/><rect x="127" y="-100" width="33" height="35" fill="#32164e"/></g><use href="#sSTR" fill="#c0d860"/><g clip-path="url(#csSTR)"><rect x="20" y="-75" width="60" height="13" fill="#80d8a0"/></g><path stroke="#fdfdfd" stroke-width="2.2" stroke-linecap="round" d="M44.1 -65.0h0M38.5 -67.7h0M67.1 -65.7h0M39.4 -64.6h0M52.2 -64.7h0M64.4 -58.9h0M56.2 -64.1h0M55.0 -58.3h0M58.9 -53.8h0M45.8 -61.6h0M61.2 -60.9h0"/><path stroke="#78f0b0" stroke-width="2.3" stroke-linecap="round" d="M42.0 -95.2h0M76.1 -77.8h0M48.5 -53.7h0M50.0 -49.7h0M20.3 -100.5h0M67.5 -54.2h0M61.2 -57.3h0M58.5 -60.1h0M41.8 -97.1h0M17.9 -93.0h0M78.2 -79.7h0M70.7 -55.3h0M92.9 -77.4h0M30.6 -98.6h0M76.7 -74.2h0M29.4 -90.2h0M25.2 -95.7h0M77.5 -73.5h0M65.1 -53.9h0M57.6 -63.1h0M33.7 -95.8h0M47.4 -93.9h0M36.7 -65.7h0M54.3 -50.8h0M99.1 -76.4h0M36.4 -97.8h0M55.1 -56.2h0M54.9 -55.9h0M71.4 -70.5h0M79.0 -75.6h0M19.4 -100.2h0M22.6 -97.2h0M22.7 -91.3h0M69.9 -56.8h0M71.5 -58.6h0M69.3 -54.7h0M39.3 -65.5h0M51.5 -94.6h0M101.2 -92.1h0M98.0 -81.7h0M64.4 -58.9h0M72.1 -73.1h0M40.2 -91.6h0M20.4 -92.8h0M93.1 -92.0h0M73.5 -77.0h0M88.7 -75.2h0M26.8 -87.7h0M50.4 -53.5h0"/><path stroke="#e85a20" stroke-width="2.3" stroke-linecap="round" d="M51.2 -58.7h0M40.2 -98.3h0M50.0 -52.1h0M21.4 -89.8h0M46.6 -93.9h0M62.8 -59.8h0M31.4 -95.9h0M56.8 -51.8h0M75.4 -91.4h0M47.5 -60.0h0M57.4 -50.2h0M48.5 -55.8h0M49.9 -93.5h0M21.0 -96.2h0M59.4 -92.7h0M58.9 -53.8h0M64.3 -61.7h0"/><path stroke="#58a0f8" stroke-width="2.3" stroke-linecap="round" d="M105.3 -77.0h0M63.3 -75.3h0M70.0 -75.5h0M112.0 -83.8h0M99.8 -82.7h0M103.0 -74.4h0M59.5 -65.3h0M123.3 -85.1h0M106.8 -73.5h0M86.2 -72.9h0M63.8 -77.5h0M106.7 -89.4h0M33.1 -70.9h0M93.5 -76.8h0M78.5 -73.1h0M88.9 -90.9h0M108.8 -88.0h0M80.4 -80.9h0M88.0 -75.9h0M86.4 -82.2h0M87.3 -84.5h0M143.1 -93.0h0M113.7 -86.4h0M54.0 -70.6h0M118.5 -72.6h0M83.1 -82.6h0M85.5 -85.9h0M122.6 -83.2h0M92.8 -72.3h0M111.1 -80.3h0M105.8 -74.4h0M91.8 -74.6h0M112.2 -71.0h0M109.5 -70.8h0M117.5 -72.8h0M99.8 -73.4h0M57.6 -73.4h0M82.0 -85.6h0M105.3 -82.9h0M100.8 -85.3h0M99.7 -87.4h0M103.1 -90.2h0M89.8 -80.0h0"/><path stroke="#4870d0" stroke-width="2.3" stroke-linecap="round" d="M113.2 -87.7h0M119.8 -91.1h0M85.9 -87.5h0M113.3 -85.2h0M120.7 -78.7h0M118.6 -89.8h0M32.9 -97.9h0M74.7 -71.8h0M119.7 -75.6h0M100.7 -86.4h0M79.7 -74.4h0M123.0 -83.7h0M94.1 -91.2h0M62.8 -73.9h0M30.5 -91.9h0M94.0 -88.7h0M93.8 -72.7h0M80.5 -79.1h0M110.1 -74.6h0M109.3 -73.8h0M125.4 -80.3h0M80.7 -76.5h0M104.1 -82.6h0M123.6 -79.5h0M106.2 -83.8h0M17.0 -98.1h0M117.7 -75.6h0M119.5 -77.9h0M67.0 -76.9h0M49.8 -75.2h0M123.0 -78.7h0M27.8 -91.2h0M115.2 -73.3h0M36.8 -99.8h0M104.5 -85.2h0M78.2 -74.6h0M22.7 -88.8h0M88.7 -92.3h0M116.6 -73.2h0M44.1 -71.4h0M49.2 -76.7h0"/><path stroke="#68d0c0" stroke-width="2.3" stroke-linecap="round" d="M23.7 -99.3h0M96.6 -92.5h0M58.7 -71.0h0M71.5 -75.6h0M92.2 -86.2h0M52.7 -50.6h0M108.1 -85.2h0M27.2 -96.6h0M70.3 -70.8h0M46.2 -64.7h0M21.9 -92.9h0M110.7 -68.5h0M25.5 -93.9h0M96.0 -82.1h0M61.6 -63.2h0M65.1 -56.8h0M91.3 -91.3h0M63.3 -52.3h0M118.8 -76.3h0M90.2 -82.1h0M87.4 -79.7h0M45.3 -64.6h0M83.8 -88.6h0M35.0 -95.5h0M28.1 -88.2h0M67.8 -64.3h0M121.4 -79.4h0M28.6 -99.8h0M120.5 -82.6h0M25.5 -93.5h0M79.2 -76.7h0M60.7 -77.6h0M87.1 -82.6h0M83.0 -77.7h0M108.3 -73.1h0M29.7 -99.4h0M57.0 -52.4h0M98.2 -79.3h0M59.0 -56.8h0M87.1 -90.4h0M34.9 -98.7h0M61.9 -63.7h0M63.1 -61.2h0M49.7 -56.5h0M32.2 -90.8h0M26.9 -93.2h0M45.8 -61.6h0M104.7 -82.0h0"/><path stroke="#e8842c" stroke-width="2.3" stroke-linecap="round" d="M65.2 -55.3h0M32.4 -67.6h0M25.6 -89.7h0M38.4 -97.9h0M59.8 -61.4h0M40.2 -65.3h0M48.5 -63.3h0M27.7 -100.6h0M35.2 -97.9h0M28.9 -89.6h0M35.1 -92.9h0M39.5 -95.1h0M54.6 -55.9h0M29.4 -95.8h0M57.8 -93.8h0M70.3 -57.7h0M69.5 -57.8h0M41.8 -97.7h0M61.8 -57.8h0M24.4 -90.4h0M46.4 -61.8h0M66.5 -53.5h0M53.0 -58.0h0M66.1 -54.3h0M16.6 -97.0h0M50.8 -50.6h0M28.4 -97.9h0M52.6 -59.3h0M41.3 -92.7h0M26.1 -99.4h0M23.1 -98.4h0M31.4 -94.0h0M61.1 -94.6h0M69.1 -59.7h0M54.3 -48.7h0M60.6 -52.5h0M20.2 -95.4h0M61.9 -51.7h0M56.6 -54.2h0M54.3 -58.4h0M49.6 -93.3h0M36.8 -91.0h0M23.5 -93.7h0M59.8 -60.0h0M34.8 -91.9h0M25.4 -98.7h0M50.5 -54.7h0M18.3 -99.5h0M60.5 -59.6h0M44.7 -95.0h0M43.3 -60.7h0M55.0 -58.3h0M46.5 -59.8h0M46.8 -60.4h0M54.1 -95.2h0M41.2 -62.6h0"/><path stroke="#d0ec48" stroke-width="2.3" stroke-linecap="round" d="M26.0 -98.3h0M42.8 -63.8h0M68.6 -55.9h0M34.5 -68.7h0M24.1 -89.0h0M26.8 -99.9h0M49.6 -52.5h0M67.8 -57.8h0M58.7 -58.7h0M52.5 -49.6h0M51.7 -60.1h0M29.3 -87.4h0M19.5 -92.0h0M47.9 -65.2h0M39.8 -97.2h0M59.7 -93.5h0M55.6 -52.0h0M47.4 -57.1h0M30.1 -95.8h0M57.3 -57.7h0M53.8 -56.7h0M22.6 -95.3h0M62.6 -52.8h0M33.8 -93.4h0M53.5 -61.3h0M60.0 -54.4h0M20.1 -93.9h0M54.7 -92.9h0M22.7 -101.2h0M43.2 -93.9h0M56.8 -95.1h0M22.1 -92.1h0M50.1 -95.9h0M23.5 -100.8h0M31.8 -89.7h0"/><path stroke="#32164e" stroke-width="2.3" stroke-linecap="round" d="M49.5 -64.1h0M25.3 -91.8h0M26.3 -94.1h0M34.5 -99.5h0M52.2 -64.7h0M23.4 -92.3h0M16.4 -95.8h0"/><path stroke="#78f0b0" stroke-width="2.8" stroke-linecap="round" d="M78.0 -50.2h0M80.4 -45.3h0"/><path stroke="#e8842c" stroke-width="2.8" stroke-linecap="round" d="M75.5 -43.5h0M74.2 -38.6h0M71.0 -35.4h0M97.8 -22.9h0"/><path stroke="#e85a20" stroke-width="2.8" stroke-linecap="round" d="M65.5 -36.8h0M70.0 -29.9h0"/><path stroke="#32164e" stroke-width="2.8" stroke-linecap="round" d="M91.6 -39.1h0M112.7 -64.6h0"/><path stroke="#d0ec48" stroke-width="2.8" stroke-linecap="round" d="M103.5 -53.5h0M64.3 -4.6h0"/><path stroke="#68d0c0" stroke-width="2.8" stroke-linecap="round" d="M85.4 -21.2h0"/><path stroke="#4870d0" stroke-width="2.8" stroke-linecap="round" d="M89.9 -18.7h0"/></g><path d="M91.5,852.4V961.8H265.8" fill="none" stroke="#333" stroke-width="1.3"/><path d="M87.3,869.6H91.5" stroke="#333" stroke-width="1.3"/><text x="83.5" y="874.4" font-family="Liberation Sans, sans-serif" font-size="13.5" fill="#4d4d4d" text-anchor="end">10</text><path d="M87.3,889.4H91.5" stroke="#333" stroke-width="1.3"/><text x="83.5" y="894.2" font-family="Liberation Sans, sans-serif" font-size="13.5" fill="#4d4d4d" text-anchor="end">5</text><path d="M87.3,909.2H91.5" stroke="#333" stroke-width="1.3"/><text x="83.5" y="914.0" font-family="Liberation Sans, sans-serif" font-size="13.5" fill="#4d4d4d" text-anchor="end">0</text><path d="M87.3,929.0H91.5" stroke="#333" stroke-width="1.3"/><text x="83.5" y="933.8" font-family="Liberation Sans, sans-serif" font-size="13.5" fill="#4d4d4d" text-anchor="end">-5</text><path d="M87.3,948.7H91.5" stroke="#333" stroke-width="1.3"/><text x="83.5" y="953.5" font-family="Liberation Sans, sans-serif" font-size="13.5" fill="#4d4d4d" text-anchor="end">-10</text><path d="M118.7,961.8V966.0" stroke="#333" stroke-width="1.3"/><text x="118.7" y="979.0" font-family="Liberation Sans, sans-serif" font-size="13.5" fill="#4d4d4d" text-anchor="middle">-5</text><path d="M168.2,961.8V966.0" stroke="#333" stroke-width="1.3"/><text x="168.2" y="979.0" font-family="Liberation Sans, sans-serif" font-size="13.5" fill="#4d4d4d" text-anchor="middle">0</text><path d="M217.7,961.8V966.0" stroke="#333" stroke-width="1.3"/><text x="217.7" y="979.0" font-family="Liberation Sans, sans-serif" font-size="13.5" fill="#4d4d4d" text-anchor="middle">5</text><text x="177.5" y="997.8" font-family="Liberation Sans, sans-serif" font-size="16" fill="#000" text-anchor="middle">UMAP_1</text><text transform="translate(56.5,908.3) rotate(-90)" font-family="Liberation Sans, sans-serif" font-size="16" fill="#000" text-anchor="middle">UMAP_2</text><text x="177.6" y="840.9" font-family="Liberation Sans, sans-serif" font-size="18.2" font-weight="bold" fill="#000" text-anchor="middle">CCSER1</text><rect x="281.0" y="862.8" width="18" height="88.4" fill="url(#tg)"/><text x="307.2" y="956.0" font-family="Liberation Sans, sans-serif" font-size="13.5" fill="#1a1a1a">0</text><path d="M281.0,934.8h3.5M295.5,934.8h3.5" stroke="#fff" stroke-width="0.8" opacity="0.7"/><text x="307.2" y="939.6" font-family="Liberation Sans, sans-serif" font-size="13.5" fill="#1a1a1a">1</text><path d="M281.0,918.5h3.5M295.5,918.5h3.5" stroke="#fff" stroke-width="0.8" opacity="0.7"/><text x="307.2" y="923.3" font-family="Liberation Sans, sans-serif" font-size="13.5" fill="#1a1a1a">2</text><path d="M281.0,902.1h3.5M295.5,902.1h3.5" stroke="#fff" stroke-width="0.8" opacity="0.7"/><text x="307.2" y="906.9" font-family="Liberation Sans, sans-serif" font-size="13.5" fill="#1a1a1a">3</text><path d="M281.0,885.7h3.5M295.5,885.7h3.5" stroke="#fff" stroke-width="0.8" opacity="0.7"/><text x="307.2" y="890.5" font-family="Liberation Sans, sans-serif" font-size="13.5" fill="#1a1a1a">4</text><path d="M281.0,869.3h3.5M295.5,869.3h3.5" stroke="#fff" stroke-width="0.8" opacity="0.7"/><text x="307.2" y="874.1" font-family="Liberation Sans, sans-serif" font-size="13.5" fill="#1a1a1a">5</text><g transform="translate(91.5,961.8)"><use href="#sTL" fill="#e89030"/><g clip-path="url(#csTL)"><rect x="38" y="-103" width="30" height="18" fill="#32164e"/><rect x="10" y="-93.5" width="28" height="10" fill="#c0b050"/></g><use href="#sSM" fill="#32164e"/><use href="#sMAIN" fill="#32164e"/><g clip-path="url(#csMAIN)"><rect x="60" y="-100" width="22" height="35" fill="#32164e"/><rect x="82" y="-100" width="22" height="35" fill="#32164e"/><rect x="104" y="-100" width="23" height="35" fill="#32164e"/><rect x="127" y="-100" width="33" height="35" fill="#32164e"/></g><use href="#sSTR" fill="#32164e"/><g clip-path="url(#csSTR)"><rect x="20" y="-75" width="60" height="13" fill="#32164e"/></g><path stroke="#fdfdfd" stroke-width="2.2" stroke-linecap="round" d="M34.7 -69.5h0M37.3 -65.4h0M42.8 -63.8h0M65.3 -59.0h0M53.7 -48.6h0M62.1 -61.4h0M36.9 -66.7h0M50.4 -63.5h0M47.5 -58.9h0M55.6 -54.1h0M48.1 -58.5h0M62.6 -52.8h0"/><path stroke="#d0ec48" stroke-width="2.3" stroke-linecap="round" d="M42.0 -95.2h0M48.7 -95.2h0M27.2 -96.6h0M33.7 -89.4h0M30.7 -93.0h0M46.7 -95.8h0M17.0 -98.1h0M31.3 -91.6h0M26.9 -93.2h0"/><path stroke="#e85a20" stroke-width="2.3" stroke-linecap="round" d="M23.7 -98.1h0M30.6 -96.3h0M36.4 -94.1h0M20.6 -98.3h0M21.3 -98.7h0M26.6 -95.9h0M33.5 -97.1h0M32.9 -97.9h0M24.0 -101.7h0M28.2 -95.7h0M22.7 -99.6h0M17.6 -94.1h0M30.6 -100.4h0M34.5 -99.5h0M22.6 -95.3h0M20.2 -95.4h0M21.7 -101.0h0"/><path stroke="#32164e" stroke-width="2.3" stroke-linecap="round" d="M27.1 -89.0h0M30.2 -93.8h0M27.6 -91.1h0M36.4 -91.7h0M22.8 -94.5h0M29.0 -93.6h0M30.5 -91.9h0M36.2 -89.5h0M27.3 -88.9h0M37.8 -91.3h0M34.7 -89.1h0M33.0 -98.7h0M29.7 -99.4h0M34.8 -91.9h0M22.7 -88.8h0M20.4 -92.8h0M23.4 -92.3h0M21.6 -101.3h0"/><path stroke="#68d0c0" stroke-width="2.3" stroke-linecap="round" d="M32.8 -69.5h0M25.6 -89.7h0M21.4 -89.8h0M17.9 -93.0h0M49.5 -64.1h0M20.9 -90.7h0M19.5 -92.0h0M36.7 -65.7h0M17.8 -92.2h0M28.2 -92.6h0"/><path stroke="#e8842c" stroke-width="2.3" stroke-linecap="round" d="M23.7 -99.3h0M37.7 -93.0h0M27.7 -100.6h0M28.9 -89.6h0M37.9 -95.7h0M24.1 -89.0h0M26.3 -94.1h0M21.4 -97.6h0M21.2 -94.9h0M31.5 -87.5h0M28.3 -93.9h0M22.9 -90.9h0M34.8 -97.3h0M19.4 -98.4h0M25.4 -98.7h0M23.5 -100.8h0"/><path stroke="#4870d0" stroke-width="2.3" stroke-linecap="round" d="M71.3 -78.1h0M123.3 -85.1h0M61.4 -73.9h0M89.3 -77.6h0M104.7 -80.9h0M69.1 -75.8h0"/><path stroke="#3a4aa0" stroke-width="2.3" stroke-linecap="round" d="M98.8 -91.3h0M126.6 -80.0h0M118.9 -91.3h0"/><path stroke="#78f0b0" stroke-width="2.3" stroke-linecap="round" d="M38.1 -93.8h0"/><path stroke="#e0a838" stroke-width="2.3" stroke-linecap="round" d="M37.7 -98.1h0M28.0 -97.5h0M37.9 -96.4h0M23.4 -97.3h0M19.4 -95.3h0"/><path stroke="#58a0f8" stroke-width="2.3" stroke-linecap="round" d="M47.9 -65.2h0M42.3 -62.6h0"/><path stroke="#32164e" stroke-width="2.8" stroke-linecap="round" d="M78.0 -50.2h0M80.4 -45.3h0M75.5 -43.5h0M74.2 -38.6h0M65.5 -36.8h0M71.0 -35.4h0M70.0 -29.9h0M91.6 -39.1h0M103.5 -53.5h0M85.4 -21.2h0M89.9 -18.7h0M97.8 -22.9h0M64.3 -4.6h0M112.7 -64.6h0"/></g><path d="M92.3,1046.1V1155.5H266.6" fill="none" stroke="#333" stroke-width="1.3"/><path d="M88.1,1063.4H92.3" stroke="#333" stroke-width="1.3"/><text x="84.3" y="1068.2" font-family="Liberation Sans, sans-serif" font-size="13.5" fill="#4d4d4d" text-anchor="end">10</text><path d="M88.1,1083.1H92.3" stroke="#333" stroke-width="1.3"/><text x="84.3" y="1087.9" font-family="Liberation Sans, sans-serif" font-size="13.5" fill="#4d4d4d" text-anchor="end">5</text><path d="M88.1,1102.9H92.3" stroke="#333" stroke-width="1.3"/><text x="84.3" y="1107.7" font-family="Liberation Sans, sans-serif" font-size="13.5" fill="#4d4d4d" text-anchor="end">0</text><path d="M88.1,1122.7H92.3" stroke="#333" stroke-width="1.3"/><text x="84.3" y="1127.5" font-family="Liberation Sans, sans-serif" font-size="13.5" fill="#4d4d4d" text-anchor="end">-5</text><path d="M88.1,1142.5H92.3" stroke="#333" stroke-width="1.3"/><text x="84.3" y="1147.2" font-family="Liberation Sans, sans-serif" font-size="13.5" fill="#4d4d4d" text-anchor="end">-10</text><path d="M119.5,1155.5V1159.7" stroke="#333" stroke-width="1.3"/><text x="119.5" y="1172.7" font-family="Liberation Sans, sans-serif" font-size="13.5" fill="#4d4d4d" text-anchor="middle">-5</text><path d="M169.0,1155.5V1159.7" stroke="#333" stroke-width="1.3"/><text x="169.0" y="1172.7" font-family="Liberation Sans, sans-serif" font-size="13.5" fill="#4d4d4d" text-anchor="middle">0</text><path d="M218.5,1155.5V1159.7" stroke="#333" stroke-width="1.3"/><text x="218.5" y="1172.7" font-family="Liberation Sans, sans-serif" font-size="13.5" fill="#4d4d4d" text-anchor="middle">5</text><text x="178.3" y="1191.5" font-family="Liberation Sans, sans-serif" font-size="16" fill="#000" text-anchor="middle">UMAP_1</text><text transform="translate(57.3,1102.0) rotate(-90)" font-family="Liberation Sans, sans-serif" font-size="16" fill="#000" text-anchor="middle">UMAP_2</text><text x="178.4" y="1034.6" font-family="Liberation Sans, sans-serif" font-size="18.2" font-weight="bold" fill="#000" text-anchor="middle">DLX6-AS1</text><rect x="281.8" y="1056.5" width="18" height="88.4" fill="url(#tg)"/><text x="308.0" y="1149.7" font-family="Liberation Sans, sans-serif" font-size="13.5" fill="#1a1a1a">0</text><path d="M281.8,1127.1h3.5M296.3,1127.1h3.5" stroke="#fff" stroke-width="0.8" opacity="0.7"/><text x="308.0" y="1131.9" font-family="Liberation Sans, sans-serif" font-size="13.5" fill="#1a1a1a">1</text><path d="M281.8,1109.4h3.5M296.3,1109.4h3.5" stroke="#fff" stroke-width="0.8" opacity="0.7"/><text x="308.0" y="1114.2" font-family="Liberation Sans, sans-serif" font-size="13.5" fill="#1a1a1a">2</text><path d="M281.8,1091.6h3.5M296.3,1091.6h3.5" stroke="#fff" stroke-width="0.8" opacity="0.7"/><text x="308.0" y="1096.4" font-family="Liberation Sans, sans-serif" font-size="13.5" fill="#1a1a1a">3</text><path d="M281.8,1073.9h3.5M296.3,1073.9h3.5" stroke="#fff" stroke-width="0.8" opacity="0.7"/><text x="308.0" y="1078.7" font-family="Liberation Sans, sans-serif" font-size="13.5" fill="#1a1a1a">4</text><g transform="translate(92.3,1155.5)"><use href="#sTL" fill="#e86a24"/><g clip-path="url(#csTL)"><rect x="38" y="-103" width="30" height="18" fill="#32164e"/><rect x="10" y="-93.5" width="28" height="10" fill="#d87030"/></g><use href="#sSM" fill="#32164e"/><use href="#sMAIN" fill="#32164e"/><g clip-path="url(#csMAIN)"><rect x="60" y="-100" width="22" height="35" fill="#32164e"/><rect x="82" y="-100" width="22" height="35" fill="#32164e"/><rect x="104" y="-100" width="23" height="35" fill="#32164e"/><rect x="127" y="-100" width="33" height="35" fill="#32164e"/></g><use href="#sSTR" fill="#32164e"/><g clip-path="url(#csSTR)"><rect x="20" y="-75" width="60" height="13" fill="#32164e"/></g><path stroke="#fdfdfd" stroke-width="2.2" stroke-linecap="round" d="M31.5 -68.1h0M53.7 -48.6h0M61.2 -57.3h0M47.5 -58.9h0M29.3 -70.7h0M47.5 -60.0h0M55.6 -52.0h0M65.3 -60.0h0M64.6 -54.9h0M60.6 -52.5h0M56.6 -54.2h0M56.6 -62.6h0M35.8 -67.3h0"/><path stroke="#e0a838" stroke-width="2.3" stroke-linecap="round" d="M23.7 -98.1h0M36.4 -94.1h0M22.0 -93.9h0M32.2 -95.2h0M29.7 -99.4h0"/><path stroke="#4870d0" stroke-width="2.3" stroke-linecap="round" d="M48.5 -53.7h0M110.1 -83.6h0M71.4 -70.5h0M60.0 -54.4h0M107.8 -88.5h0"/><path stroke="#d0ec48" stroke-width="2.3" stroke-linecap="round" d="M24.4 -95.1h0M30.6 -98.6h0M61.5 -93.0h0M29.0 -93.6h0M19.5 -92.0h0M36.7 -65.7h0M27.3 -88.9h0M45.4 -63.6h0M27.0 -91.4h0M59.4 -92.7h0M23.4 -97.3h0M39.3 -65.5h0"/><path stroke="#a82a14" stroke-width="2.3" stroke-linecap="round" d="M33.2 -96.2h0M26.0 -98.3h0M28.8 -96.4h0M32.0 -98.8h0M18.3 -99.5h0"/><path stroke="#e85a20" stroke-width="2.3" stroke-linecap="round" d="M23.7 -99.3h0M24.1 -88.2h0M27.6 -91.1h0M35.2 -97.9h0M26.8 -99.9h0M19.2 -94.3h0M29.0 -91.7h0M25.3 -91.8h0M18.5 -96.3h0M26.3 -94.1h0M32.4 -92.6h0M20.9 -90.7h0M31.5 -87.5h0M17.6 -94.1h0M23.1 -98.4h0M22.6 -97.2h0M19.9 -98.9h0M26.9 -93.2h0M16.4 -95.8h0"/><path stroke="#32164e" stroke-width="2.3" stroke-linecap="round" d="M25.6 -89.7h0M20.0 -90.6h0M31.9 -93.3h0M28.9 -89.6h0M24.3 -93.1h0M32.3 -88.6h0M22.7 -88.8h0"/><path stroke="#e8842c" stroke-width="2.3" stroke-linecap="round" d="M21.4 -89.8h0M21.9 -92.9h0M37.9 -95.7h0M22.8 -94.5h0M19.8 -97.3h0M33.5 -97.1h0M28.4 -97.9h0M28.1 -88.2h0M21.4 -97.6h0M31.4 -94.0h0M33.8 -93.4h0M36.8 -91.0h0M19.4 -95.3h0M31.8 -89.7h0"/><path stroke="#58a0f8" stroke-width="2.3" stroke-linecap="round" d="M18.7 -93.4h0M48.1 -63.0h0M57.1 -62.1h0"/><path stroke="#78f0b0" stroke-width="2.3" stroke-linecap="round" d="M42.5 -96.8h0M52.2 -93.5h0M46.5 -93.0h0M39.2 -97.0h0"/><path stroke="#3a4aa0" stroke-width="2.3" stroke-linecap="round" d="M118.7 -81.8h0M96.0 -81.0h0"/><path stroke="#32164e" stroke-width="2.8" stroke-linecap="round" d="M78.0 -50.2h0M80.4 -45.3h0M75.5 -43.5h0M74.2 -38.6h0M65.5 -36.8h0M71.0 -35.4h0M70.0 -29.9h0M91.6 -39.1h0M103.5 -53.5h0M85.4 -21.2h0M89.9 -18.7h0M97.8 -22.9h0M64.3 -4.6h0M112.7 -64.6h0"/></g><path d="M92.3,1235.3V1344.7H266.6" fill="none" stroke="#333" stroke-width="1.3"/><path d="M88.1,1252.6H92.3" stroke="#333" stroke-width="1.3"/><text x="84.3" y="1257.4" font-family="Liberation Sans, sans-serif" font-size="13.5" fill="#4d4d4d" text-anchor="end">10</text><path d="M88.1,1272.3H92.3" stroke="#333" stroke-width="1.3"/><text x="84.3" y="1277.1" font-family="Liberation Sans, sans-serif" font-size="13.5" fill="#4d4d4d" text-anchor="end">5</text><path d="M88.1,1292.1H92.3" stroke="#333" stroke-width="1.3"/><text x="84.3" y="1296.9" font-family="Liberation Sans, sans-serif" font-size="13.5" fill="#4d4d4d" text-anchor="end">0</text><path d="M88.1,1311.9H92.3" stroke="#333" stroke-width="1.3"/><text x="84.3" y="1316.7" font-family="Liberation Sans, sans-serif" font-size="13.5" fill="#4d4d4d" text-anchor="end">-5</text><path d="M88.1,1331.7H92.3" stroke="#333" stroke-width="1.3"/><text x="84.3" y="1336.5" font-family="Liberation Sans, sans-serif" font-size="13.5" fill="#4d4d4d" text-anchor="end">-10</text><path d="M119.5,1344.7V1348.9" stroke="#333" stroke-width="1.3"/><text x="119.5" y="1361.9" font-family="Liberation Sans, sans-serif" font-size="13.5" fill="#4d4d4d" text-anchor="middle">-5</text><path d="M169.0,1344.7V1348.9" stroke="#333" stroke-width="1.3"/><text x="169.0" y="1361.9" font-family="Liberation Sans, sans-serif" font-size="13.5" fill="#4d4d4d" text-anchor="middle">0</text><path d="M218.5,1344.7V1348.9" stroke="#333" stroke-width="1.3"/><text x="218.5" y="1361.9" font-family="Liberation Sans, sans-serif" font-size="13.5" fill="#4d4d4d" text-anchor="middle">5</text><text x="178.3" y="1380.7" font-family="Liberation Sans, sans-serif" font-size="16" fill="#000" text-anchor="middle">UMAP_1</text><text transform="translate(57.3,1291.2) rotate(-90)" font-family="Liberation Sans, sans-serif" font-size="16" fill="#000" text-anchor="middle">UMAP_2</text><text x="178.4" y="1223.8" font-family="Liberation Sans, sans-serif" font-size="18.2" font-weight="bold" fill="#000" text-anchor="middle">GAD2</text><rect x="281.8" y="1245.7" width="18" height="88.4" fill="url(#tg)"/><text x="308.0" y="1338.9" font-family="Liberation Sans, sans-serif" font-size="13.5" fill="#1a1a1a">0</text><path d="M281.8,1303.1h3.5M296.3,1303.1h3.5" stroke="#fff" stroke-width="0.8" opacity="0.7"/><text x="308.0" y="1307.9" font-family="Liberation Sans, sans-serif" font-size="13.5" fill="#1a1a1a">1</text><path d="M281.8,1272.1h3.5M296.3,1272.1h3.5" stroke="#fff" stroke-width="0.8" opacity="0.7"/><text x="308.0" y="1276.9" font-family="Liberation Sans, sans-serif" font-size="13.5" fill="#1a1a1a">2</text><g transform="translate(92.3,1344.7)"><use href="#sTL" fill="#a0e060"/><g clip-path="url(#csTL)"><rect x="38" y="-103" width="30" height="18" fill="#32164e"/><rect x="10" y="-93.5" width="28" height="10" fill="#70a080"/></g><use href="#sSM" fill="#32164e"/><use href="#sMAIN" fill="#32164e"/><g clip-path="url(#csMAIN)"><rect x="60" y="-100" width="22" height="35" fill="#32164e"/><rect x="82" y="-100" width="22" height="35" fill="#32164e"/><rect x="104" y="-100" width="23" height="35" fill="#32164e"/><rect x="127" y="-100" width="33" height="35" fill="#32164e"/></g><use href="#sSTR" fill="#32164e"/><g clip-path="url(#csSTR)"><rect x="20" y="-75" width="60" height="13" fill="#32164e"/></g><path stroke="#fdfdfd" stroke-width="2.2" stroke-linecap="round" d="M52.3 -52.8h0M58.0 -55.0h0M57.6 -63.1h0M65.7 -65.6h0M52.6 -59.3h0M55.6 -54.1h0M54.3 -58.4h0M39.3 -65.5h0M46.8 -60.4h0"/><path stroke="#4870d0" stroke-width="2.3" stroke-linecap="round" d="M112.8 -87.0h0M119.8 -91.1h0M93.4 -78.5h0M150.3 -93.1h0M58.9 -53.8h0"/><path stroke="#32164e" stroke-width="2.3" stroke-linecap="round" d="M23.7 -98.1h0M25.6 -89.7h0M37.7 -93.0h0M27.6 -91.1h0M20.3 -100.5h0M27.7 -100.6h0M35.1 -92.9h0M26.8 -99.9h0M19.2 -94.3h0M33.5 -97.1h0M31.4 -95.9h0M36.2 -89.5h0M28.4 -97.9h0M28.2 -95.7h0M17.4 -96.6h0M22.9 -90.9h0M36.8 -99.8h0M31.3 -91.6h0M26.4 -90.3h0M34.2 -98.2h0"/><path stroke="#3a4aa0" stroke-width="2.3" stroke-linecap="round" d="M96.9 -85.2h0M58.7 -71.0h0M118.7 -81.8h0"/><path stroke="#58a0f8" stroke-width="2.3" stroke-linecap="round" d="M107.8 -89.4h0M105.2 -86.8h0M113.3 -85.2h0M96.2 -91.9h0"/><path stroke="#d0ec48" stroke-width="2.3" stroke-linecap="round" d="M27.1 -89.0h0M32.3 -100.8h0M22.8 -94.5h0M34.9 -90.0h0M26.1 -99.4h0M34.7 -89.1h0M34.9 -98.7h0M18.3 -99.5h0M23.5 -100.8h0"/><path stroke="#78f0b0" stroke-width="2.3" stroke-linecap="round" d="M31.7 -101.0h0M26.7 -96.5h0M32.2 -95.2h0M39.4 -64.6h0M62.2 -65.5h0M29.4 -95.8h0M32.6 -91.2h0M29.4 -90.2h0M18.5 -96.3h0M28.6 -101.8h0M31.5 -87.5h0M28.3 -93.9h0M17.8 -92.2h0M31.9 -98.5h0M43.0 -66.6h0M36.8 -91.0h0M30.0 -91.0h0M23.4 -92.3h0M32.2 -90.8h0M26.8 -87.7h0"/><path stroke="#68d0c0" stroke-width="2.3" stroke-linecap="round" d="M33.1 -89.8h0M21.3 -98.7h0M25.5 -90.8h0M20.0 -90.6h0M24.1 -89.0h0M25.5 -93.9h0M20.7 -91.3h0M19.8 -97.3h0M32.9 -97.9h0M24.0 -101.7h0M30.8 -89.2h0M28.9 -87.2h0M25.3 -91.8h0M47.4 -93.9h0M32.4 -92.6h0M20.9 -90.7h0M27.3 -88.9h0M32.9 -93.8h0M27.0 -91.4h0M33.8 -93.4h0M29.7 -99.4h0M43.4 -97.0h0M52.0 -95.1h0M34.8 -91.9h0M33.5 -90.2h0M26.9 -93.2h0M21.6 -101.3h0M58.0 -93.5h0"/><path stroke="#e85a20" stroke-width="2.3" stroke-linecap="round" d="M26.0 -98.3h0M33.7 -95.8h0M36.4 -97.8h0M32.0 -98.8h0"/><path stroke="#e8842c" stroke-width="2.3" stroke-linecap="round" d="M24.1 -88.2h0M25.5 -88.3h0M23.0 -100.8h0M27.2 -101.4h0M35.0 -95.5h0M28.6 -99.8h0M17.6 -94.1h0M37.9 -96.4h0M22.6 -97.2h0M22.7 -91.3h0M19.4 -98.4h0"/><path stroke="#32164e" stroke-width="2.8" stroke-linecap="round" d="M78.0 -50.2h0M80.4 -45.3h0M75.5 -43.5h0M74.2 -38.6h0M65.5 -36.8h0M71.0 -35.4h0M70.0 -29.9h0M91.6 -39.1h0M103.5 -53.5h0M85.4 -21.2h0M89.9 -18.7h0M97.8 -22.9h0M64.3 -4.6h0M112.7 -64.6h0"/></g><path d="M417.7,663.3V772.7H592.0" fill="none" stroke="#333" stroke-width="1.3"/><path d="M413.5,680.6H417.7" stroke="#333" stroke-width="1.3"/><text x="409.7" y="685.4" font-family="Liberation Sans, sans-serif" font-size="13.5" fill="#4d4d4d" text-anchor="end">10</text><path d="M413.5,700.3H417.7" stroke="#333" stroke-width="1.3"/><text x="409.7" y="705.1" font-family="Liberation Sans, sans-serif" font-size="13.5" fill="#4d4d4d" text-anchor="end">5</text><path d="M413.5,720.1H417.7" stroke="#333" stroke-width="1.3"/><text x="409.7" y="724.9" font-family="Liberation Sans, sans-serif" font-size="13.5" fill="#4d4d4d" text-anchor="end">0</text><path d="M413.5,739.9H417.7" stroke="#333" stroke-width="1.3"/><text x="409.7" y="744.7" font-family="Liberation Sans, sans-serif" font-size="13.5" fill="#4d4d4d" text-anchor="end">-5</text><path d="M413.5,759.6H417.7" stroke="#333" stroke-width="1.3"/><text x="409.7" y="764.4" font-family="Liberation Sans, sans-serif" font-size="13.5" fill="#4d4d4d" text-anchor="end">-10</text><path d="M444.9,772.7V776.9" stroke="#333" stroke-width="1.3"/><text x="444.9" y="789.9" font-family="Liberation Sans, sans-serif" font-size="13.5" fill="#4d4d4d" text-anchor="middle">-5</text><path d="M494.4,772.7V776.9" stroke="#333" stroke-width="1.3"/><text x="494.4" y="789.9" font-family="Liberation Sans, sans-serif" font-size="13.5" fill="#4d4d4d" text-anchor="middle">0</text><path d="M543.9,772.7V776.9" stroke="#333" stroke-width="1.3"/><text x="543.9" y="789.9" font-family="Liberation Sans, sans-serif" font-size="13.5" fill="#4d4d4d" text-anchor="middle">5</text><text x="503.7" y="808.7" font-family="Liberation Sans, sans-serif" font-size="16" fill="#000" text-anchor="middle">UMAP_1</text><text transform="translate(382.7,719.2) rotate(-90)" font-family="Liberation Sans, sans-serif" font-size="16" fill="#000" text-anchor="middle">UMAP_2</text><text x="503.8" y="651.8" font-family="Liberation Sans, sans-serif" font-size="18.2" font-weight="bold" fill="#000" text-anchor="middle">SGCD</text><rect x="607.2" y="673.7" width="18" height="88.4" fill="url(#tg)"/><text x="633.4" y="766.9" font-family="Liberation Sans, sans-serif" font-size="13.5" fill="#1a1a1a">0</text><path d="M607.2,745.2h3.5M621.7,745.2h3.5" stroke="#fff" stroke-width="0.8" opacity="0.7"/><text x="633.4" y="750.0" font-family="Liberation Sans, sans-serif" font-size="13.5" fill="#1a1a1a">1</text><path d="M607.2,728.4h3.5M621.7,728.4h3.5" stroke="#fff" stroke-width="0.8" opacity="0.7"/><text x="633.4" y="733.2" font-family="Liberation Sans, sans-serif" font-size="13.5" fill="#1a1a1a">2</text><path d="M607.2,711.5h3.5M621.7,711.5h3.5" stroke="#fff" stroke-width="0.8" opacity="0.7"/><text x="633.4" y="716.3" font-family="Liberation Sans, sans-serif" font-size="13.5" fill="#1a1a1a">3</text><path d="M607.2,694.6h3.5M621.7,694.6h3.5" stroke="#fff" stroke-width="0.8" opacity="0.7"/><text x="633.4" y="699.4" font-family="Liberation Sans, sans-serif" font-size="13.5" fill="#1a1a1a">4</text><path d="M607.2,677.7h3.5M621.7,677.7h3.5" stroke="#fff" stroke-width="0.8" opacity="0.7"/><text x="633.4" y="682.5" font-family="Liberation Sans, sans-serif" font-size="13.5" fill="#1a1a1a">5</text><g transform="translate(417.7,772.7)"><use href="#sTL" fill="#32164e"/><g clip-path="url(#csTL)"><rect x="38" y="-103" width="30" height="18" fill="#90d890"/></g><use href="#sSM" fill="#32164e"/><use href="#sMAIN" fill="#32164e"/><g clip-path="url(#csMAIN)"><rect x="60" y="-100" width="22" height="35" fill="#90e880"/><rect x="82" y="-100" width="22" height="35" fill="#88d888"/><rect x="104" y="-100" width="23" height="35" fill="#e8b040"/><rect x="127" y="-100" width="33" height="35" fill="#e8a838"/></g><use href="#sSTR" fill="#32164e"/><g clip-path="url(#csSTR)"><rect x="20" y="-75" width="60" height="13" fill="#32164e"/></g><path stroke="#fdfdfd" stroke-width="2.2" stroke-linecap="round" d="M34.7 -69.5h0M37.3 -65.4h0M42.8 -63.8h0M65.3 -59.0h0M53.7 -48.6h0M62.1 -61.4h0M36.9 -66.7h0M50.4 -63.5h0M47.5 -58.9h0M55.6 -54.1h0M48.1 -58.5h0M62.6 -52.8h0"/><path stroke="#68d0c0" stroke-width="2.3" stroke-linecap="round" d="M42.0 -95.2h0M83.7 -75.6h0M93.5 -76.8h0M102.5 -75.5h0M90.0 -72.9h0M50.4 -94.0h0M52.2 -93.5h0M95.7 -74.7h0M91.0 -79.8h0M100.5 -77.4h0M98.8 -85.9h0M101.9 -87.0h0M91.3 -86.7h0M102.9 -78.9h0"/><path stroke="#d0ec48" stroke-width="2.3" stroke-linecap="round" d="M68.9 -73.5h0M116.4 -83.5h0M48.7 -95.2h0M106.6 -82.6h0M114.8 -84.0h0M71.3 -78.1h0M77.0 -76.5h0M121.7 -87.3h0M113.8 -89.7h0M110.3 -90.3h0M106.2 -71.2h0M123.7 -80.8h0M70.2 -71.4h0M63.3 -70.5h0M125.3 -92.1h0M123.0 -83.7h0M44.2 -96.1h0M61.1 -70.6h0M121.7 -74.3h0M123.0 -78.7h0M126.2 -90.3h0M54.7 -92.9h0M108.0 -80.8h0M125.8 -86.7h0M81.8 -75.1h0M81.0 -78.8h0M126.3 -85.4h0"/><path stroke="#32164e" stroke-width="2.3" stroke-linecap="round" d="M87.4 -85.8h0M82.7 -89.2h0M103.7 -76.3h0M52.5 -93.9h0M84.8 -90.2h0M90.4 -84.0h0M96.6 -92.5h0M101.8 -85.9h0M82.7 -75.2h0M90.6 -79.6h0M97.3 -85.2h0M98.8 -91.3h0M102.6 -92.1h0M86.2 -72.9h0M82.9 -74.7h0M52.4 -95.0h0M89.2 -83.7h0M95.2 -91.2h0M84.2 -81.3h0M93.8 -84.4h0M96.6 -77.3h0M92.9 -77.4h0M88.8 -84.9h0M96.1 -73.0h0M93.0 -77.3h0M83.5 -81.1h0M97.6 -76.3h0M91.3 -91.3h0M90.4 -75.3h0M83.9 -89.4h0M95.6 -84.4h0M90.7 -87.2h0M87.4 -79.7h0M75.4 -91.4h0M93.6 -83.6h0M90.5 -76.2h0M83.8 -88.6h0M83.2 -87.4h0M94.0 -88.7h0M83.5 -84.2h0M102.0 -82.5h0M85.5 -85.9h0M75.2 -73.9h0M96.7 -74.3h0M92.8 -72.3h0M82.6 -86.0h0M86.6 -91.2h0M85.8 -72.1h0M101.3 -77.4h0M92.9 -90.0h0M67.0 -76.9h0M88.5 -89.7h0M91.5 -85.5h0M97.3 -78.4h0M101.9 -88.8h0M88.9 -72.5h0M68.3 -76.2h0M103.7 -73.3h0M87.1 -90.4h0M73.4 -73.8h0M85.6 -78.8h0M91.9 -77.7h0M84.5 -77.5h0M40.2 -91.6h0M94.3 -85.3h0M96.9 -86.7h0M82.8 -79.3h0M88.7 -92.3h0M100.8 -85.3h0M101.9 -74.6h0M98.6 -77.9h0M86.4 -83.9h0M83.5 -86.5h0M89.8 -80.0h0"/><path stroke="#e8842c" stroke-width="2.3" stroke-linecap="round" d="M107.6 -79.4h0M107.5 -74.9h0M105.3 -92.2h0M108.1 -71.3h0M115.6 -75.7h0M108.0 -82.3h0M115.3 -78.9h0M124.3 -83.4h0M109.1 -83.3h0M155.6 -94.2h0M123.3 -85.1h0M108.8 -77.7h0M118.8 -83.5h0M119.8 -78.4h0M118.8 -88.6h0M118.8 -76.3h0M113.6 -82.3h0M109.8 -73.5h0M108.6 -75.9h0M118.7 -81.8h0M115.4 -83.4h0M123.9 -86.0h0M113.7 -86.4h0M118.3 -82.9h0M104.1 -82.6h0M122.6 -75.2h0M131.0 -93.1h0M110.1 -72.0h0M144.3 -95.9h0M152.9 -93.1h0M117.5 -72.8h0M119.1 -83.9h0M122.2 -80.2h0M113.1 -82.6h0M138.5 -93.7h0M112.7 -77.7h0"/><path stroke="#e0a838" stroke-width="2.3" stroke-linecap="round" d="M105.3 -77.0h0M126.2 -92.4h0M108.1 -85.2h0M120.4 -81.6h0M109.7 -78.0h0M110.1 -83.6h0M120.7 -78.7h0M114.9 -85.9h0M123.0 -87.4h0M118.6 -89.8h0M109.4 -80.1h0M114.7 -88.8h0M111.2 -87.4h0M109.8 -76.5h0M107.2 -73.9h0M113.0 -73.3h0M114.8 -90.7h0M121.2 -84.7h0M110.1 -74.6h0M114.0 -74.7h0M156.1 -94.3h0M110.6 -70.6h0M118.9 -89.9h0M149.5 -94.8h0M121.5 -80.2h0M114.0 -73.4h0M104.5 -85.2h0M124.1 -87.1h0M145.1 -93.7h0M123.3 -89.4h0"/><path stroke="#e85a20" stroke-width="2.3" stroke-linecap="round" d="M145.0 -92.3h0M128.6 -93.5h0M141.8 -92.7h0M143.1 -93.0h0M130.7 -93.1h0M127.5 -92.7h0"/><path stroke="#4870d0" stroke-width="2.3" stroke-linecap="round" d="M58.7 -71.0h0M26.7 -96.5h0M31.9 -93.3h0M62.1 -61.4h0M70.7 -55.3h0M58.0 -74.2h0M44.2 -60.6h0M29.3 -70.7h0M54.2 -72.8h0M27.3 -88.9h0M32.9 -93.8h0M54.0 -70.6h0M55.6 -54.1h0M57.9 -52.4h0M25.5 -93.5h0M47.1 -73.6h0M54.3 -77.1h0M56.2 -64.1h0"/><path stroke="#78f0b0" stroke-width="2.3" stroke-linecap="round" d="M49.8 -73.2h0M86.0 -86.5h0M100.2 -91.4h0M116.9 -86.6h0M86.0 -77.5h0M38.4 -97.9h0M70.3 -73.2h0M84.7 -91.3h0M103.1 -85.0h0M91.7 -75.3h0M78.2 -79.7h0M97.8 -84.2h0M73.5 -71.8h0M94.7 -73.1h0M39.5 -95.1h0M38.1 -93.8h0M98.6 -83.0h0M79.7 -74.4h0M90.5 -71.2h0M69.5 -73.7h0M121.4 -90.9h0M57.4 -95.3h0M96.7 -77.8h0M97.2 -73.4h0M39.8 -97.2h0M83.1 -82.6h0M87.1 -82.6h0M111.1 -80.3h0M87.3 -90.5h0M46.3 -75.2h0M94.9 -90.9h0M52.4 -72.8h0M63.8 -94.2h0M92.3 -73.7h0M94.1 -74.1h0M56.7 -71.2h0M56.8 -94.6h0M87.3 -87.7h0M83.1 -86.7h0M105.3 -82.9h0M91.2 -81.8h0M73.5 -77.0h0M38.5 -92.7h0M103.1 -90.2h0M54.8 -93.9h0M97.1 -82.7h0M49.2 -76.7h0"/><path stroke="#58a0f8" stroke-width="2.3" stroke-linecap="round" d="M20.9 -90.7h0"/><path stroke="#78f0b0" stroke-width="2.8" stroke-linecap="round" d="M78.0 -50.2h0"/><path stroke="#58a0f8" stroke-width="2.8" stroke-linecap="round" d="M80.4 -45.3h0M64.3 -4.6h0"/><path stroke="#32164e" stroke-width="2.8" stroke-linecap="round" d="M75.5 -43.5h0M74.2 -38.6h0M70.0 -29.9h0M91.6 -39.1h0M103.5 -53.5h0M85.4 -21.2h0M89.9 -18.7h0M97.8 -22.9h0"/><path stroke="#4870d0" stroke-width="2.8" stroke-linecap="round" d="M65.5 -36.8h0M71.0 -35.4h0"/><path stroke="#68d0c0" stroke-width="2.8" stroke-linecap="round" d="M112.7 -64.6h0"/></g><path d="M417.7,852.5V961.9H592.0" fill="none" stroke="#333" stroke-width="1.3"/><path d="M413.5,869.8H417.7" stroke="#333" stroke-width="1.3"/><text x="409.7" y="874.5" font-family="Liberation Sans, sans-serif" font-size="13.5" fill="#4d4d4d" text-anchor="end">10</text><path d="M413.5,889.5H417.7" stroke="#333" stroke-width="1.3"/><text x="409.7" y="894.3" font-family="Liberation Sans, sans-serif" font-size="13.5" fill="#4d4d4d" text-anchor="end">5</text><path d="M413.5,909.3H417.7" stroke="#333" stroke-width="1.3"/><text x="409.7" y="914.1" font-family="Liberation Sans, sans-serif" font-size="13.5" fill="#4d4d4d" text-anchor="end">0</text><path d="M413.5,929.1H417.7" stroke="#333" stroke-width="1.3"/><text x="409.7" y="933.9" font-family="Liberation Sans, sans-serif" font-size="13.5" fill="#4d4d4d" text-anchor="end">-5</text><path d="M413.5,948.8H417.7" stroke="#333" stroke-width="1.3"/><text x="409.7" y="953.6" font-family="Liberation Sans, sans-serif" font-size="13.5" fill="#4d4d4d" text-anchor="end">-10</text><path d="M444.9,961.9V966.1" stroke="#333" stroke-width="1.3"/><text x="444.9" y="979.1" font-family="Liberation Sans, sans-serif" font-size="13.5" fill="#4d4d4d" text-anchor="middle">-5</text><path d="M494.4,961.9V966.1" stroke="#333" stroke-width="1.3"/><text x="494.4" y="979.1" font-family="Liberation Sans, sans-serif" font-size="13.5" fill="#4d4d4d" text-anchor="middle">0</text><path d="M543.9,961.9V966.1" stroke="#333" stroke-width="1.3"/><text x="543.9" y="979.1" font-family="Liberation Sans, sans-serif" font-size="13.5" fill="#4d4d4d" text-anchor="middle">5</text><text x="503.7" y="997.9" font-family="Liberation Sans, sans-serif" font-size="16" fill="#000" text-anchor="middle">UMAP_1</text><text transform="translate(382.7,908.4) rotate(-90)" font-family="Liberation Sans, sans-serif" font-size="16" fill="#000" text-anchor="middle">UMAP_2</text><text x="503.8" y="841.0" font-family="Liberation Sans, sans-serif" font-size="18.2" font-weight="bold" fill="#000" text-anchor="middle">DNM3</text><rect x="607.2" y="862.9" width="18" height="88.4" fill="url(#tg)"/><text x="633.4" y="956.1" font-family="Liberation Sans, sans-serif" font-size="13.5" fill="#1a1a1a">0</text><path d="M607.2,929.7h3.5M621.7,929.7h3.5" stroke="#fff" stroke-width="0.8" opacity="0.7"/><text x="633.4" y="934.5" font-family="Liberation Sans, sans-serif" font-size="13.5" fill="#1a1a1a">1</text><path d="M607.2,908.2h3.5M621.7,908.2h3.5" stroke="#fff" stroke-width="0.8" opacity="0.7"/><text x="633.4" y="913.0" font-family="Liberation Sans, sans-serif" font-size="13.5" fill="#1a1a1a">2</text><path d="M607.2,886.6h3.5M621.7,886.6h3.5" stroke="#fff" stroke-width="0.8" opacity="0.7"/><text x="633.4" y="891.4" font-family="Liberation Sans, sans-serif" font-size="13.5" fill="#1a1a1a">3</text><path d="M607.2,865.1h3.5M621.7,865.1h3.5" stroke="#fff" stroke-width="0.8" opacity="0.7"/><text x="633.4" y="869.9" font-family="Liberation Sans, sans-serif" font-size="13.5" fill="#1a1a1a">4</text><g transform="translate(417.7,961.9)"><use href="#sTL" fill="#32164e"/><g clip-path="url(#csTL)"><rect x="38" y="-103" width="30" height="18" fill="#80e090"/></g><use href="#sSM" fill="#58a0f8"/><use href="#sMAIN" fill="#a0e868"/><g clip-path="url(#csMAIN)"><rect x="60" y="-100" width="22" height="35" fill="#c0e050"/><rect x="82" y="-100" width="22" height="35" fill="#c8d848"/><rect x="104" y="-100" width="23" height="35" fill="#e0a038"/><rect x="127" y="-100" width="33" height="35" fill="#e89030"/></g><use href="#sSTR" fill="#32164e"/><g clip-path="url(#csSTR)"><rect x="20" y="-75" width="60" height="13" fill="#32164e"/></g><path stroke="#fdfdfd" stroke-width="2.2" stroke-linecap="round" d="M31.5 -68.1h0M53.7 -48.6h0M61.2 -57.3h0M47.5 -58.9h0M29.3 -70.7h0M47.5 -60.0h0M55.6 -52.0h0M65.3 -60.0h0M64.6 -54.9h0M60.6 -52.5h0M56.6 -54.2h0M56.6 -62.6h0M35.8 -67.3h0"/><path stroke="#d0ec48" stroke-width="2.3" stroke-linecap="round" d="M96.3 -79.1h0M42.0 -95.2h0M103.7 -78.3h0M90.5 -89.5h0M104.0 -86.9h0M67.0 -77.8h0M108.1 -71.3h0M115.6 -75.7h0M90.6 -79.6h0M50.7 -76.8h0M92.2 -86.2h0M124.3 -83.4h0M78.5 -77.6h0M94.9 -87.6h0M126.2 -92.4h0M108.1 -85.2h0M124.4 -87.7h0M111.2 -69.7h0M83.7 -75.6h0M84.2 -82.7h0M92.3 -82.3h0M45.1 -94.7h0M95.2 -91.2h0M79.3 -71.6h0M110.1 -83.6h0M93.8 -84.4h0M106.2 -71.2h0M55.2 -76.4h0M94.7 -73.1h0M114.5 -71.7h0M110.0 -88.7h0M93.0 -79.6h0M92.0 -90.3h0M47.5 -74.9h0M108.7 -71.7h0M92.9 -77.4h0M97.4 -82.6h0M54.5 -71.9h0M90.8 -73.9h0M90.0 -72.9h0M96.0 -82.1h0M77.4 -75.0h0M123.0 -87.4h0M42.3 -95.1h0M97.8 -86.8h0M125.4 -85.1h0M83.5 -81.1h0M94.6 -88.6h0M125.0 -79.0h0M74.7 -71.8h0M118.8 -88.6h0M41.8 -97.7h0M72.2 -77.1h0M114.7 -88.8h0M106.7 -78.4h0M106.1 -87.7h0M111.2 -87.4h0M107.4 -78.4h0M87.0 -73.8h0M62.8 -73.9h0M115.0 -88.5h0M98.6 -73.7h0M123.9 -86.0h0M116.4 -85.8h0M93.1 -85.0h0M85.8 -72.5h0M113.7 -86.4h0M93.7 -87.0h0M61.5 -76.8h0M54.0 -70.6h0M123.6 -91.2h0M109.3 -73.8h0M120.5 -82.6h0M49.9 -93.5h0M112.7 -79.0h0M124.4 -90.1h0M113.0 -83.9h0M117.1 -72.3h0M62.5 -76.9h0M60.7 -77.6h0M70.6 -78.3h0M122.6 -83.2h0M85.3 -77.5h0M107.6 -90.1h0M61.1 -94.6h0M85.8 -72.1h0M103.8 -90.9h0M71.9 -74.6h0M119.2 -80.8h0M110.6 -84.2h0M117.7 -75.6h0M101.3 -77.4h0M86.3 -75.2h0M116.0 -75.0h0M124.7 -89.6h0M97.3 -78.4h0M54.3 -77.1h0M59.4 -92.7h0M81.3 -83.7h0M60.6 -73.2h0M111.9 -90.3h0M118.0 -76.7h0M105.8 -77.4h0M103.7 -73.3h0M94.2 -90.8h0M85.6 -78.8h0M96.7 -74.9h0M78.2 -74.6h0M88.3 -74.3h0M103.8 -88.9h0M125.6 -90.6h0M113.1 -82.6h0M101.9 -74.6h0M102.9 -78.9h0M86.4 -83.9h0M116.6 -73.2h0M39.2 -97.0h0M82.5 -76.2h0M54.8 -72.0h0M67.7 -71.9h0M62.3 -71.6h0"/><path stroke="#e8842c" stroke-width="2.3" stroke-linecap="round" d="M116.3 -78.1h0M98.0 -92.1h0M129.5 -91.6h0M87.4 -85.8h0M116.1 -80.9h0M107.8 -89.4h0M103.7 -76.3h0M84.0 -73.1h0M84.8 -90.2h0M105.3 -92.2h0M83.7 -76.2h0M85.0 -73.7h0M87.5 -80.2h0M111.7 -72.9h0M106.3 -90.4h0M118.3 -77.6h0M120.0 -80.6h0M86.0 -86.5h0M117.7 -86.2h0M155.6 -94.2h0M119.8 -91.1h0M103.3 -89.0h0M101.0 -84.4h0M106.7 -89.4h0M88.5 -88.4h0M105.1 -84.2h0M89.2 -83.7h0M87.2 -83.5h0M95.8 -77.0h0M110.8 -88.2h0M111.2 -77.2h0M83.8 -78.9h0M99.7 -77.1h0M113.8 -89.7h0M84.2 -81.3h0M95.8 -75.5h0M107.1 -76.9h0M109.8 -78.8h0M108.8 -77.7h0M113.7 -88.4h0M89.3 -77.6h0M115.8 -74.3h0M122.2 -77.6h0M135.8 -92.7h0M111.3 -74.0h0M113.2 -90.0h0M91.2 -89.2h0M147.3 -94.5h0M126.2 -81.6h0M101.6 -79.7h0M97.6 -76.3h0M84.7 -83.5h0M86.2 -79.4h0M109.5 -86.7h0M95.6 -84.4h0M109.4 -80.1h0M113.6 -82.3h0M102.7 -80.9h0M100.1 -89.5h0M109.4 -76.2h0M87.4 -79.7h0M87.3 -84.5h0M93.8 -80.6h0M141.8 -92.7h0M139.7 -93.8h0M130.1 -92.1h0M95.6 -83.5h0M112.4 -89.6h0M98.7 -73.5h0M104.4 -82.1h0M121.3 -91.5h0M121.4 -79.4h0M148.7 -96.5h0M123.8 -75.3h0M124.4 -84.4h0M117.5 -84.8h0M132.7 -92.7h0M95.7 -74.7h0M102.0 -82.5h0M120.0 -77.2h0M83.1 -82.6h0M109.7 -87.0h0M91.0 -79.8h0M96.6 -88.9h0M91.9 -92.5h0M87.1 -82.6h0M85.9 -80.8h0M104.7 -80.9h0M91.8 -74.6h0M130.7 -93.1h0M108.1 -87.1h0M112.2 -71.0h0M113.7 -85.1h0M104.5 -80.4h0M92.0 -82.8h0M87.7 -91.6h0M123.0 -78.7h0M113.2 -75.0h0M149.5 -94.8h0M109.8 -80.4h0M120.2 -73.3h0M131.6 -92.1h0M90.8 -91.3h0M101.2 -92.1h0M102.0 -81.7h0M93.3 -73.5h0M121.5 -80.2h0M87.3 -72.3h0M96.7 -88.6h0M102.3 -88.0h0M94.1 -74.1h0M107.2 -83.5h0M105.7 -71.6h0M109.4 -85.7h0M101.1 -90.2h0M118.9 -86.3h0M82.0 -85.6h0M117.6 -87.9h0M99.7 -87.4h0M89.6 -86.4h0M103.1 -90.2h0M124.4 -81.9h0M137.5 -93.8h0M82.5 -84.6h0M83.5 -86.5h0M124.5 -89.1h0M113.1 -80.2h0M89.8 -80.0h0"/><path stroke="#78f0b0" stroke-width="2.3" stroke-linecap="round" d="M95.0 -87.0h0M63.3 -75.3h0M31.7 -101.0h0M23.7 -99.3h0M112.0 -86.0h0M90.8 -92.8h0M99.8 -82.7h0M31.9 -90.4h0M82.7 -75.2h0M26.0 -98.3h0M99.8 -84.4h0M109.1 -83.3h0M70.3 -70.8h0M117.4 -79.0h0M120.4 -81.6h0M121.8 -89.2h0M105.7 -75.1h0M90.8 -85.2h0M95.6 -78.7h0M108.8 -88.0h0M88.0 -75.9h0M59.6 -75.7h0M73.3 -72.1h0M55.1 -75.3h0M125.4 -82.4h0M92.5 -89.2h0M24.0 -101.7h0M123.0 -83.7h0M67.7 -78.2h0M108.7 -91.1h0M98.6 -90.3h0M71.7 -72.1h0M83.5 -84.2h0M93.8 -72.7h0M99.1 -76.4h0M101.5 -75.7h0M49.5 -94.6h0M56.1 -74.5h0M83.0 -80.8h0M47.8 -93.6h0M44.1 -75.2h0M19.4 -100.2h0M97.3 -81.0h0M52.8 -72.0h0M49.8 -75.2h0M30.2 -88.3h0M55.2 -74.1h0M84.7 -89.2h0M87.1 -90.4h0M22.7 -101.2h0M90.5 -88.5h0M45.1 -75.3h0M83.1 -86.7h0M118.9 -91.3h0M98.1 -74.3h0M33.5 -90.2h0M62.4 -94.0h0M46.5 -74.6h0M54.1 -95.2h0M67.9 -74.8h0M49.2 -76.7h0M26.8 -87.7h0"/><path stroke="#32164e" stroke-width="2.3" stroke-linecap="round" d="M111.5 -89.4h0M83.2 -87.4h0M87.8 -77.2h0M87.3 -90.5h0M112.5 -71.7h0M99.2 -83.8h0"/><path stroke="#68d0c0" stroke-width="2.3" stroke-linecap="round" d="M30.6 -96.3h0M33.1 -89.8h0M28.9 -89.6h0M37.9 -95.7h0M86.3 -85.9h0M83.9 -89.4h0M45.3 -64.6h0M83.8 -88.6h0M28.6 -99.8h0M17.8 -92.2h0M84.9 -82.3h0M92.6 -80.5h0M32.0 -98.8h0M98.2 -79.3h0M21.7 -101.0h0M97.8 -88.3h0M25.5 -100.9h0"/><path stroke="#e85a20" stroke-width="2.3" stroke-linecap="round" d="M107.5 -74.9h0M106.4 -75.6h0M123.6 -76.7h0M143.0 -95.8h0M133.5 -93.3h0M115.9 -81.8h0M106.6 -86.9h0M110.8 -69.0h0M114.0 -74.7h0M153.1 -94.4h0M106.2 -83.8h0M120.0 -84.6h0M124.3 -78.0h0M108.3 -73.1h0M140.6 -93.0h0M115.2 -73.3h0M104.0 -79.3h0M106.5 -91.9h0M151.2 -94.9h0"/><path stroke="#58a0f8" stroke-width="2.3" stroke-linecap="round" d="M62.6 -54.3h0M42.8 -63.8h0M52.3 -52.8h0M58.5 -60.1h0M62.2 -65.5h0M52.5 -49.6h0M75.4 -91.4h0M66.8 -64.6h0M52.6 -59.3h0M65.3 -60.0h0M47.4 -57.1h0M64.6 -54.9h0M69.1 -59.7h0M69.9 -56.8h0M57.0 -52.4h0M59.0 -56.8h0M55.8 -50.8h0M46.8 -60.4h0"/><path stroke="#4870d0" stroke-width="2.3" stroke-linecap="round" d="M50.0 -49.7h0M68.6 -55.9h0M65.3 -59.0h0M67.1 -65.7h0M63.8 -53.4h0M33.5 -67.1h0M62.1 -61.4h0M19.8 -97.3h0M52.0 -53.5h0M70.3 -57.7h0M63.9 -54.6h0M61.8 -57.8h0M18.2 -97.9h0M30.8 -69.5h0M29.0 -93.6h0M38.9 -66.7h0M44.3 -64.6h0M31.8 -69.0h0M67.8 -64.3h0M36.7 -65.7h0M45.4 -63.6h0M22.7 -99.6h0M55.1 -56.2h0M56.9 -61.1h0M37.9 -96.4h0M31.8 -70.5h0M63.9 -60.4h0M64.3 -64.1h0M55.0 -58.3h0M58.9 -53.8h0M45.8 -61.6h0"/><path stroke="#e0a838" stroke-width="2.3" stroke-linecap="round" d="M74.0 -78.3h0M70.3 -73.2h0M75.6 -79.4h0M81.3 -76.6h0M60.2 -71.8h0M66.7 -74.7h0M60.3 -70.2h0M68.9 -77.9h0M79.0 -75.6h0M73.4 -73.8h0M75.4 -72.6h0"/><path stroke="#78f0b0" stroke-width="2.8" stroke-linecap="round" d="M78.0 -50.2h0M80.4 -45.3h0M70.0 -29.9h0M91.6 -39.1h0"/><path stroke="#58a0f8" stroke-width="2.8" stroke-linecap="round" d="M75.5 -43.5h0M64.3 -4.6h0"/><path stroke="#32164e" stroke-width="2.8" stroke-linecap="round" d="M74.2 -38.6h0M65.5 -36.8h0M71.0 -35.4h0M89.9 -18.7h0"/><path stroke="#4870d0" stroke-width="2.8" stroke-linecap="round" d="M103.5 -53.5h0M85.4 -21.2h0M97.8 -22.9h0"/><path stroke="#e8842c" stroke-width="2.8" stroke-linecap="round" d="M112.7 -64.6h0"/></g><path d="M418.8,1046.5V1155.9H593.1" fill="none" stroke="#333" stroke-width="1.3"/><path d="M414.6,1063.8H418.8" stroke="#333" stroke-width="1.3"/><text x="410.8" y="1068.6" font-family="Liberation Sans, sans-serif" font-size="13.5" fill="#4d4d4d" text-anchor="end">10</text><path d="M414.6,1083.5H418.8" stroke="#333" stroke-width="1.3"/><text x="410.8" y="1088.3" font-family="Liberation Sans, sans-serif" font-size="13.5" fill="#4d4d4d" text-anchor="end">5</text><path d="M414.6,1103.3H418.8" stroke="#333" stroke-width="1.3"/><text x="410.8" y="1108.1" font-family="Liberation Sans, sans-serif" font-size="13.5" fill="#4d4d4d" text-anchor="end">0</text><path d="M414.6,1123.1H418.8" stroke="#333" stroke-width="1.3"/><text x="410.8" y="1127.9" font-family="Liberation Sans, sans-serif" font-size="13.5" fill="#4d4d4d" text-anchor="end">-5</text><path d="M414.6,1142.9H418.8" stroke="#333" stroke-width="1.3"/><text x="410.8" y="1147.7" font-family="Liberation Sans, sans-serif" font-size="13.5" fill="#4d4d4d" text-anchor="end">-10</text><path d="M446.0,1155.9V1160.1" stroke="#333" stroke-width="1.3"/><text x="446.0" y="1173.1" font-family="Liberation Sans, sans-serif" font-size="13.5" fill="#4d4d4d" text-anchor="middle">-5</text><path d="M495.5,1155.9V1160.1" stroke="#333" stroke-width="1.3"/><text x="495.5" y="1173.1" font-family="Liberation Sans, sans-serif" font-size="13.5" fill="#4d4d4d" text-anchor="middle">0</text><path d="M545.0,1155.9V1160.1" stroke="#333" stroke-width="1.3"/><text x="545.0" y="1173.1" font-family="Liberation Sans, sans-serif" font-size="13.5" fill="#4d4d4d" text-anchor="middle">5</text><text x="504.8" y="1191.9" font-family="Liberation Sans, sans-serif" font-size="16" fill="#000" text-anchor="middle">UMAP_1</text><text transform="translate(383.8,1102.4) rotate(-90)" font-family="Liberation Sans, sans-serif" font-size="16" fill="#000" text-anchor="middle">UMAP_2</text><text x="504.9" y="1035.0" font-family="Liberation Sans, sans-serif" font-size="18.2" font-weight="bold" fill="#000" text-anchor="middle">RNF144A</text><rect x="608.3" y="1056.9" width="18" height="88.4" fill="url(#tg)"/><text x="634.5" y="1150.1" font-family="Liberation Sans, sans-serif" font-size="13.5" fill="#1a1a1a">0</text><path d="M608.3,1122.9h3.5M622.8,1122.9h3.5" stroke="#fff" stroke-width="0.8" opacity="0.7"/><text x="634.5" y="1127.7" font-family="Liberation Sans, sans-serif" font-size="13.5" fill="#1a1a1a">1</text><path d="M608.3,1100.5h3.5M622.8,1100.5h3.5" stroke="#fff" stroke-width="0.8" opacity="0.7"/><text x="634.5" y="1105.3" font-family="Liberation Sans, sans-serif" font-size="13.5" fill="#1a1a1a">2</text><path d="M608.3,1078.2h3.5M622.8,1078.2h3.5" stroke="#fff" stroke-width="0.8" opacity="0.7"/><text x="634.5" y="1083.0" font-family="Liberation Sans, sans-serif" font-size="13.5" fill="#1a1a1a">3</text><g transform="translate(418.8,1155.9)"><use href="#sTL" fill="#32164e"/><g clip-path="url(#csTL)"><rect x="38" y="-103" width="30" height="18" fill="#4a90d0"/></g><use href="#sSM" fill="#32164e"/><use href="#sMAIN" fill="#b0e860"/><g clip-path="url(#csMAIN)"><rect x="60" y="-100" width="22" height="35" fill="#90e080"/><rect x="82" y="-100" width="22" height="35" fill="#68c0a8"/><rect x="104" y="-100" width="23" height="35" fill="#90d880"/><rect x="127" y="-100" width="33" height="35" fill="#cce448"/><rect x="140.0" y="-100" width="10.0" height="35" fill="#e8902c"/><rect x="150.0" y="-100" width="10.0" height="35" fill="#d8501c"/></g><use href="#sSTR" fill="#3a3a8a"/><g clip-path="url(#csSTR)"><rect x="20" y="-75" width="60" height="13" fill="#32164e"/></g><path stroke="#fdfdfd" stroke-width="2.2" stroke-linecap="round" d="M52.3 -52.8h0M58.0 -55.0h0M57.6 -63.1h0M65.7 -65.6h0M52.6 -59.3h0M55.6 -54.1h0M54.3 -58.4h0M39.3 -65.5h0M46.8 -60.4h0"/><path stroke="#32164e" stroke-width="2.3" stroke-linecap="round" d="M96.3 -79.1h0M86.3 -72.3h0M112.8 -87.0h0M55.4 -69.7h0M87.4 -85.8h0M87.7 -81.5h0M60.7 -57.2h0M103.7 -78.3h0M90.5 -89.5h0M67.0 -77.8h0M98.2 -88.9h0M106.3 -90.4h0M120.0 -80.6h0M94.9 -87.6h0M103.1 -85.0h0M39.6 -91.8h0M100.6 -75.2h0M88.5 -88.4h0M78.2 -79.7h0M111.2 -77.2h0M81.7 -81.8h0M79.3 -71.6h0M54.1 -74.7h0M109.8 -78.8h0M93.5 -76.8h0M50.5 -70.8h0M94.7 -73.1h0M86.3 -89.8h0M110.0 -88.7h0M110.0 -75.0h0M96.1 -73.0h0M51.3 -55.4h0M55.9 -59.5h0M123.0 -87.4h0M52.6 -55.0h0M52.0 -53.5h0M53.9 -52.3h0M42.5 -96.8h0M83.9 -89.4h0M53.9 -60.1h0M53.0 -58.0h0M87.0 -73.8h0M47.4 -93.9h0M79.5 -79.0h0M106.6 -86.9h0M90.5 -76.2h0M103.6 -88.1h0M85.8 -72.5h0M91.8 -84.4h0M114.8 -90.7h0M48.5 -55.8h0M121.2 -84.7h0M59.5 -94.2h0M83.5 -84.2h0M60.3 -70.2h0M110.1 -74.6h0M65.8 -73.9h0M47.8 -93.6h0M58.5 -56.1h0M84.9 -82.3h0M82.6 -86.0h0M92.6 -80.5h0M111.1 -80.3h0M99.5 -79.0h0M98.1 -75.8h0M104.5 -80.4h0M87.7 -86.6h0M87.6 -73.6h0M79.9 -72.0h0M97.8 -88.3h0M99.8 -73.4h0M91.3 -86.7h0M99.7 -87.4h0M38.5 -92.7h0M46.2 -71.9h0M50.1 -95.9h0M89.6 -81.1h0M44.1 -71.4h0M109.6 -79.0h0M67.9 -74.8h0M83.5 -86.5h0M49.2 -76.7h0M69.1 -75.8h0"/><path stroke="#78f0b0" stroke-width="2.3" stroke-linecap="round" d="M129.5 -91.6h0M107.8 -89.4h0M107.5 -74.9h0M88.5 -82.2h0M83.7 -76.2h0M101.8 -85.9h0M96.1 -83.8h0M49.8 -73.2h0M115.3 -78.9h0M124.4 -87.7h0M70.3 -70.8h0M117.8 -81.0h0M106.7 -80.6h0M73.5 -71.8h0M89.4 -76.5h0M110.3 -90.3h0M58.0 -74.2h0M120.7 -78.7h0M47.5 -74.9h0M90.8 -85.2h0M84.7 -77.3h0M96.0 -82.1h0M147.6 -96.2h0M64.4 -72.1h0M77.6 -71.3h0M76.7 -74.2h0M57.9 -71.6h0M65.4 -77.2h0M119.7 -75.6h0M111.5 -70.5h0M123.0 -83.7h0M107.0 -81.8h0M87.3 -84.5h0M51.9 -75.3h0M89.6 -92.7h0M75.6 -75.3h0M108.0 -77.3h0M113.7 -81.0h0M93.8 -72.7h0M53.2 -70.3h0M83.6 -74.5h0M75.0 -77.6h0M109.3 -73.8h0M85.5 -85.9h0M123.6 -79.5h0M70.6 -78.3h0M153.9 -93.1h0M104.7 -80.9h0M131.0 -93.1h0M97.3 -81.0h0M88.5 -89.7h0M82.9 -71.7h0M107.8 -88.5h0M109.9 -81.6h0M117.5 -72.8h0M95.2 -80.8h0M126.2 -90.3h0M84.9 -80.3h0M90.8 -91.3h0M98.2 -79.3h0M115.4 -80.4h0M111.9 -90.3h0M93.3 -73.5h0M87.1 -90.4h0M114.0 -73.4h0M85.1 -75.7h0M103.8 -88.9h0M64.7 -72.7h0M107.2 -83.5h0M111.8 -71.6h0M87.3 -87.7h0M90.5 -88.5h0M76.8 -75.5h0M93.1 -92.0h0M96.9 -86.7h0M88.7 -92.3h0M74.0 -75.8h0M93.8 -76.1h0M144.3 -92.7h0M67.7 -71.9h0M89.8 -80.0h0M89.9 -82.8h0"/><path stroke="#58a0f8" stroke-width="2.3" stroke-linecap="round" d="M37.3 -65.4h0M40.6 -92.6h0M100.0 -78.8h0M31.9 -93.3h0M41.8 -97.1h0M82.9 -74.7h0M17.9 -93.0h0M60.2 -95.0h0M38.1 -93.8h0M92.0 -90.3h0M41.6 -65.6h0M95.6 -78.7h0M90.8 -73.9h0M61.6 -63.2h0M54.2 -93.4h0M85.5 -86.8h0M50.4 -94.0h0M33.7 -95.8h0M16.6 -97.0h0M57.4 -95.3h0M19.5 -92.0h0M28.2 -95.7h0M17.8 -92.2h0M61.1 -94.6h0M103.8 -90.9h0M92.9 -90.0h0M31.8 -70.5h0M96.2 -91.9h0M86.3 -75.2h0M17.3 -95.2h0M82.8 -79.3h0M44.7 -95.0h0M88.7 -75.2h0M21.6 -101.3h0M102.2 -82.6h0M41.2 -62.6h0"/><path stroke="#d0ec48" stroke-width="2.3" stroke-linecap="round" d="M93.8 -81.8h0M104.0 -86.9h0M51.3 -70.8h0M108.0 -82.3h0M58.7 -71.0h0M57.6 -75.1h0M150.7 -91.4h0M86.0 -77.5h0M63.8 -53.4h0M52.7 -57.3h0M120.4 -81.6h0M57.9 -54.3h0M84.2 -81.3h0M114.5 -71.7h0M93.0 -79.6h0M126.6 -80.0h0M135.8 -92.7h0M125.0 -79.0h0M121.9 -83.5h0M125.3 -92.1h0M55.1 -75.3h0M90.5 -71.2h0M115.0 -88.5h0M109.8 -76.5h0M58.4 -58.0h0M114.2 -83.8h0M121.3 -91.5h0M116.5 -73.9h0M137.2 -95.3h0M119.7 -86.8h0M104.6 -92.0h0M118.5 -72.6h0M125.4 -80.3h0M59.1 -73.9h0M124.4 -90.1h0M113.0 -83.9h0M77.6 -76.2h0M156.1 -94.3h0M121.1 -81.4h0M119.2 -80.8h0M52.8 -72.0h0M127.5 -92.7h0M140.6 -93.0h0M113.2 -75.0h0M55.2 -74.1h0M52.4 -72.8h0M118.0 -76.7h0M115.2 -73.3h0M108.0 -80.8h0M102.3 -88.0h0M53.1 -76.5h0M104.5 -85.2h0M78.2 -74.6h0M56.7 -71.2h0M113.1 -82.6h0M45.1 -75.3h0M101.9 -74.6h0M81.8 -75.1h0M116.6 -73.2h0M46.5 -74.6h0M122.9 -76.4h0"/><path stroke="#68d0c0" stroke-width="2.3" stroke-linecap="round" d="M80.9 -80.5h0M52.5 -93.9h0M105.3 -77.0h0M100.7 -82.2h0M112.0 -83.8h0M71.3 -78.1h0M79.5 -74.4h0M35.2 -97.9h0M89.2 -83.7h0M18.7 -93.4h0M97.8 -84.2h0M45.1 -94.7h0M110.7 -68.5h0M39.5 -95.1h0M114.8 -91.5h0M115.8 -74.3h0M122.2 -77.6h0M93.0 -77.3h0M25.2 -95.7h0M99.2 -89.1h0M42.6 -92.7h0M118.7 -81.8h0M98.6 -73.7h0M103.7 -74.6h0M123.9 -86.0h0M121.1 -77.2h0M121.6 -87.9h0M98.6 -90.3h0M104.9 -87.8h0M80.7 -73.4h0M91.3 -87.5h0M22.6 -95.3h0M85.3 -77.5h0M60.7 -75.2h0M87.7 -88.7h0M112.5 -71.7h0M81.3 -83.7h0M101.9 -88.8h0M105.8 -77.4h0M94.1 -74.1h0M91.9 -77.7h0M91.2 -81.8h0M72.6 -77.5h0M100.8 -85.3h0M89.6 -86.4h0M91.8 -73.5h0M126.3 -85.4h0"/><path stroke="#4870d0" stroke-width="2.3" stroke-linecap="round" d="M27.1 -89.0h0M60.0 -57.7h0M50.0 -52.1h0M42.8 -63.8h0M52.3 -52.8h0M25.6 -89.7h0M53.7 -48.6h0M61.1 -55.6h0M67.5 -54.2h0M49.3 -50.0h0M65.1 -56.8h0M25.5 -88.3h0M67.8 -57.1h0M33.1 -67.0h0M29.8 -70.8h0M53.8 -62.4h0M66.5 -53.5h0M18.5 -96.3h0M37.1 -67.7h0M51.7 -60.1h0M70.2 -54.6h0M47.5 -60.0h0M45.3 -64.6h0M60.2 -51.3h0M51.4 -54.8h0M45.4 -63.6h0M48.1 -58.5h0M59.5 -64.4h0M42.4 -65.5h0M59.1 -62.4h0M56.9 -57.8h0M20.2 -95.4h0M54.3 -58.4h0M46.5 -59.8h0M44.5 -62.9h0"/><path stroke="#e0a838" stroke-width="2.3" stroke-linecap="round" d="M151.0 -96.2h0"/><path stroke="#68d0c0" stroke-width="2.8" stroke-linecap="round" d="M78.0 -50.2h0M80.4 -45.3h0M112.7 -64.6h0"/><path stroke="#32164e" stroke-width="2.8" stroke-linecap="round" d="M75.5 -43.5h0M74.2 -38.6h0M65.5 -36.8h0M91.6 -39.1h0M89.9 -18.7h0"/><path stroke="#4870d0" stroke-width="2.8" stroke-linecap="round" d="M71.0 -35.4h0M70.0 -29.9h0M103.5 -53.5h0M85.4 -21.2h0M97.8 -22.9h0M64.3 -4.6h0"/></g><path d="M418.8,1235.5V1344.9H593.1" fill="none" stroke="#333" stroke-width="1.3"/><path d="M414.6,1252.8H418.8" stroke="#333" stroke-width="1.3"/><text x="410.8" y="1257.6" font-family="Liberation Sans, sans-serif" font-size="13.5" fill="#4d4d4d" text-anchor="end">10</text><path d="M414.6,1272.5H418.8" stroke="#333" stroke-width="1.3"/><text x="410.8" y="1277.3" font-family="Liberation Sans, sans-serif" font-size="13.5" fill="#4d4d4d" text-anchor="end">5</text><path d="M414.6,1292.3H418.8" stroke="#333" stroke-width="1.3"/><text x="410.8" y="1297.1" font-family="Liberation Sans, sans-serif" font-size="13.5" fill="#4d4d4d" text-anchor="end">0</text><path d="M414.6,1312.1H418.8" stroke="#333" stroke-width="1.3"/><text x="410.8" y="1316.9" font-family="Liberation Sans, sans-serif" font-size="13.5" fill="#4d4d4d" text-anchor="end">-5</text><path d="M414.6,1331.9H418.8" stroke="#333" stroke-width="1.3"/><text x="410.8" y="1336.7" font-family="Liberation Sans, sans-serif" font-size="13.5" fill="#4d4d4d" text-anchor="end">-10</text><path d="M446.0,1344.9V1349.1" stroke="#333" stroke-width="1.3"/><text x="446.0" y="1362.1" font-family="Liberation Sans, sans-serif" font-size="13.5" fill="#4d4d4d" text-anchor="middle">-5</text><path d="M495.5,1344.9V1349.1" stroke="#333" stroke-width="1.3"/><text x="495.5" y="1362.1" font-family="Liberation Sans, sans-serif" font-size="13.5" fill="#4d4d4d" text-anchor="middle">0</text><path d="M545.0,1344.9V1349.1" stroke="#333" stroke-width="1.3"/><text x="545.0" y="1362.1" font-family="Liberation Sans, sans-serif" font-size="13.5" fill="#4d4d4d" text-anchor="middle">5</text><text x="504.8" y="1380.9" font-family="Liberation Sans, sans-serif" font-size="16" fill="#000" text-anchor="middle">UMAP_1</text><text transform="translate(383.8,1291.4) rotate(-90)" font-family="Liberation Sans, sans-serif" font-size="16" fill="#000" text-anchor="middle">UMAP_2</text><text x="504.9" y="1224.0" font-family="Liberation Sans, sans-serif" font-size="18.2" font-weight="bold" fill="#000" text-anchor="middle">PKP4</text><rect x="608.3" y="1245.9" width="18" height="88.4" fill="url(#tg)"/><text x="634.5" y="1339.1" font-family="Liberation Sans, sans-serif" font-size="13.5" fill="#1a1a1a">0</text><path d="M608.3,1314.1h3.5M622.8,1314.1h3.5" stroke="#fff" stroke-width="0.8" opacity="0.7"/><text x="634.5" y="1318.9" font-family="Liberation Sans, sans-serif" font-size="13.5" fill="#1a1a1a">1</text><path d="M608.3,1293.8h3.5M622.8,1293.8h3.5" stroke="#fff" stroke-width="0.8" opacity="0.7"/><text x="634.5" y="1298.6" font-family="Liberation Sans, sans-serif" font-size="13.5" fill="#1a1a1a">2</text><path d="M608.3,1273.6h3.5M622.8,1273.6h3.5" stroke="#fff" stroke-width="0.8" opacity="0.7"/><text x="634.5" y="1278.4" font-family="Liberation Sans, sans-serif" font-size="13.5" fill="#1a1a1a">3</text><path d="M608.3,1253.4h3.5M622.8,1253.4h3.5" stroke="#fff" stroke-width="0.8" opacity="0.7"/><text x="634.5" y="1258.2" font-family="Liberation Sans, sans-serif" font-size="13.5" fill="#1a1a1a">4</text><g transform="translate(418.8,1344.9)"><use href="#sTL" fill="#32164e"/><g clip-path="url(#csTL)"><rect x="38" y="-103" width="30" height="18" fill="#3a4a9a"/></g><use href="#sSM" fill="#32164e"/><use href="#sMAIN" fill="#a8e068"/><g clip-path="url(#csMAIN)"><rect x="60" y="-100" width="22" height="35" fill="#90d890"/><rect x="82" y="-100" width="22" height="35" fill="#58b0a8"/><rect x="104" y="-100" width="23" height="35" fill="#58a8a8"/><rect x="127" y="-100" width="33" height="35" fill="#d8d048"/><rect x="140.0" y="-100" width="10.0" height="35" fill="#e8a030"/><rect x="150.0" y="-100" width="10.0" height="35" fill="#d85020"/></g><use href="#sSTR" fill="#3a50a8"/><g clip-path="url(#csSTR)"><rect x="20" y="-75" width="60" height="13" fill="#4a70c8"/></g><path stroke="#fdfdfd" stroke-width="2.2" stroke-linecap="round" d="M63.8 -53.4h0M53.7 -48.6h0M57.8 -64.4h0M72.5 -56.4h0M41.6 -65.6h0M49.6 -52.5h0M70.3 -57.7h0M58.4 -58.0h0M41.7 -64.1h0M48.1 -63.0h0M46.5 -59.8h0M46.8 -60.4h0"/><path stroke="#d0ec48" stroke-width="2.3" stroke-linecap="round" d="M96.3 -79.1h0M111.5 -89.4h0M106.5 -74.2h0M103.7 -76.3h0M84.0 -73.1h0M95.8 -81.7h0M96.6 -92.5h0M44.8 -71.7h0M50.7 -76.8h0M111.2 -69.7h0M94.9 -85.3h0M110.3 -90.3h0M92.9 -77.4h0M88.8 -84.9h0M89.4 -74.5h0M99.2 -89.1h0M77.5 -73.5h0M107.2 -73.9h0M60.2 -71.8h0M116.0 -88.0h0M80.0 -75.6h0M113.7 -81.0h0M120.5 -82.6h0M112.7 -79.0h0M79.2 -76.7h0M62.5 -76.9h0M91.9 -92.5h0M81.2 -83.1h0M119.2 -80.8h0M45.5 -74.3h0M83.0 -77.7h0M108.5 -89.4h0M126.2 -90.3h0M45.1 -72.5h0M53.1 -76.5h0M78.2 -74.6h0M122.2 -80.2h0M111.8 -71.6h0M111.5 -86.9h0M82.5 -84.6h0M126.3 -85.4h0"/><path stroke="#32164e" stroke-width="2.3" stroke-linecap="round" d="M95.0 -87.0h0M115.7 -77.9h0M112.8 -87.0h0M92.1 -80.9h0M93.8 -81.8h0M40.6 -92.6h0M40.8 -63.3h0M105.3 -77.0h0M119.1 -75.8h0M107.5 -74.9h0M31.5 -68.1h0M62.6 -54.3h0M116.4 -83.5h0M90.4 -84.0h0M40.2 -98.3h0M51.0 -76.3h0M111.8 -83.6h0M118.3 -77.6h0M99.8 -84.4h0M124.3 -83.4h0M94.9 -87.6h0M83.7 -85.2h0M84.7 -91.3h0M40.2 -65.3h0M124.4 -87.7h0M123.3 -85.1h0M103.1 -85.0h0M103.3 -89.0h0M100.6 -75.2h0M88.5 -88.4h0M89.2 -83.7h0M110.8 -88.2h0M109.7 -78.0h0M92.3 -82.3h0M111.2 -77.2h0M115.4 -81.7h0M49.1 -71.4h0M116.6 -91.0h0M84.2 -81.3h0M110.8 -85.5h0M108.8 -77.7h0M94.7 -73.1h0M92.5 -76.0h0M120.7 -78.7h0M105.7 -75.1h0M108.9 -82.0h0M113.7 -88.4h0M90.8 -85.2h0M114.8 -91.5h0M115.8 -74.3h0M64.4 -72.1h0M91.2 -89.2h0M64.1 -76.4h0M101.6 -79.7h0M118.6 -89.8h0M118.8 -88.6h0M49.5 -64.1h0M83.9 -89.4h0M33.1 -67.0h0M101.5 -73.4h0M125.4 -82.4h0M90.7 -87.2h0M109.4 -76.2h0M111.5 -70.5h0M123.0 -83.7h0M107.0 -81.8h0M111.2 -87.4h0M87.3 -84.5h0M53.9 -60.1h0M108.6 -75.9h0M118.7 -81.8h0M98.6 -73.7h0M109.8 -76.5h0M123.9 -86.0h0M83.2 -87.4h0M112.4 -89.6h0M125.1 -88.2h0M121.3 -91.5h0M91.8 -84.4h0M104.6 -92.0h0M117.5 -84.8h0M83.2 -82.3h0M83.5 -84.2h0M95.7 -74.7h0M120.0 -77.2h0M75.0 -77.6h0M109.3 -73.8h0M119.8 -74.5h0M99.1 -76.4h0M57.3 -57.7h0M64.6 -54.9h0M114.0 -74.7h0M121.9 -85.3h0M123.0 -91.1h0M85.3 -77.5h0M55.8 -70.0h0M122.6 -75.2h0M104.7 -80.9h0M121.1 -81.4h0M110.6 -84.2h0M117.7 -75.6h0M60.0 -54.4h0M76.4 -71.2h0M113.7 -85.1h0M118.0 -90.9h0M38.4 -63.6h0M117.8 -89.5h0M86.3 -75.2h0M87.7 -88.7h0M91.5 -85.5h0M120.2 -73.3h0M101.9 -88.8h0M68.3 -76.2h0M95.2 -80.8h0M115.4 -80.4h0M116.7 -84.1h0M114.0 -73.4h0M104.3 -75.0h0M96.7 -74.9h0M125.8 -86.7h0M103.8 -88.9h0M84.5 -77.5h0M113.1 -82.6h0M94.3 -85.3h0M118.9 -86.3h0M96.9 -86.7h0M105.3 -82.9h0M106.5 -91.9h0M88.7 -92.3h0M44.7 -95.0h0M98.6 -77.9h0M93.3 -84.0h0M91.3 -86.7h0M101.1 -76.4h0M99.7 -87.4h0M98.1 -74.3h0M104.2 -84.2h0M102.9 -78.9h0M116.6 -73.2h0M122.9 -76.4h0M44.1 -71.4h0M121.4 -76.1h0M67.7 -71.9h0M49.2 -76.7h0"/><path stroke="#78f0b0" stroke-width="2.3" stroke-linecap="round" d="M98.0 -92.1h0M113.2 -87.7h0M84.8 -90.2h0M56.4 -70.4h0M70.5 -74.5h0M99.8 -82.7h0M93.0 -87.5h0M49.8 -73.2h0M110.9 -79.1h0M102.6 -92.1h0M75.8 -70.9h0M120.4 -81.6h0M117.8 -81.0h0M101.8 -80.7h0M85.9 -87.5h0M123.6 -76.7h0M110.7 -68.5h0M75.6 -79.4h0M58.0 -74.2h0M102.5 -75.5h0M98.6 -83.0h0M84.7 -77.3h0M96.0 -82.1h0M112.9 -74.4h0M76.7 -74.2h0M125.4 -85.1h0M86.4 -82.2h0M94.6 -88.6h0M121.9 -83.5h0M109.4 -80.1h0M113.6 -82.3h0M106.1 -87.7h0M87.4 -79.7h0M109.8 -73.5h0M81.3 -76.6h0M62.8 -73.9h0M79.5 -79.0h0M121.1 -77.2h0M69.2 -70.7h0M98.6 -90.3h0M47.4 -74.1h0M123.8 -75.3h0M83.6 -74.5h0M109.7 -87.0h0M117.1 -72.3h0M85.9 -80.8h0M87.8 -77.2h0M107.6 -90.1h0M100.5 -77.4h0M99.5 -79.0h0M44.4 -73.5h0M92.9 -90.0h0M61.9 -75.4h0M110.6 -70.6h0M97.3 -81.0h0M92.0 -82.8h0M116.0 -75.0h0M97.3 -78.4h0M54.3 -77.1h0M109.9 -81.6h0M111.9 -90.3h0M102.0 -81.7h0M115.2 -73.3h0M119.4 -79.6h0M87.1 -90.4h0M100.7 -90.0h0M75.4 -72.6h0M117.4 -74.0h0M90.5 -88.5h0M101.9 -74.6h0M89.6 -86.4h0"/><path stroke="#58a0f8" stroke-width="2.3" stroke-linecap="round" d="M23.7 -98.1h0M37.3 -65.4h0M96.9 -85.2h0M82.7 -89.2h0M55.3 -63.3h0M65.2 -55.3h0M44.4 -62.3h0M49.2 -56.2h0M112.0 -83.8h0M68.6 -55.9h0M90.6 -79.6h0M92.2 -86.2h0M126.2 -92.4h0M98.8 -91.3h0M59.8 -61.4h0M106.8 -73.5h0M41.8 -97.1h0M35.2 -97.9h0M38.5 -93.9h0M46.6 -93.9h0M83.7 -75.6h0M33.1 -70.9h0M26.6 -95.9h0M36.4 -91.7h0M106.2 -71.2h0M89.3 -77.6h0M122.2 -77.6h0M126.1 -79.2h0M96.1 -73.0h0M108.8 -88.0h0M85.5 -86.8h0M19.8 -97.3h0M125.0 -79.0h0M101.3 -87.5h0M61.8 -57.8h0M98.9 -88.5h0M121.7 -74.3h0M47.9 -65.2h0M116.7 -77.2h0M104.9 -87.8h0M29.1 -94.5h0M125.7 -82.1h0M91.3 -87.5h0M96.6 -88.9h0M37.9 -96.4h0M59.1 -62.4h0M104.5 -80.4h0M88.5 -89.7h0M107.8 -88.5h0M112.5 -71.7h0M116.8 -79.4h0M19.9 -98.9h0M105.8 -77.4h0M103.7 -73.3h0M96.7 -88.6h0M34.8 -91.9h0M61.9 -63.7h0M56.6 -62.6h0M93.1 -92.0h0M82.8 -79.3h0M48.0 -55.3h0M64.2 -65.9h0M103.1 -90.2h0M95.9 -90.2h0M64.3 -61.7h0M102.2 -82.6h0"/><path stroke="#e8842c" stroke-width="2.3" stroke-linecap="round" d="M129.5 -91.6h0M134.0 -91.7h0M127.8 -90.6h0M135.8 -92.7h0M143.0 -95.8h0M153.0 -96.1h0M139.7 -93.8h0M146.8 -95.1h0M137.2 -95.3h0M138.5 -94.9h0M136.1 -93.2h0M150.1 -96.4h0M139.1 -92.6h0M144.3 -92.7h0"/><path stroke="#68d0c0" stroke-width="2.3" stroke-linecap="round" d="M87.7 -81.5h0M116.1 -80.9h0M81.0 -74.8h0M107.8 -89.4h0M63.3 -75.3h0M125.5 -84.8h0M83.7 -76.2h0M36.4 -94.1h0M115.6 -75.7h0M98.2 -88.9h0M106.6 -82.6h0M26.0 -98.3h0M106.3 -90.4h0M86.0 -77.5h0M82.5 -73.4h0M27.6 -91.1h0M82.9 -74.7h0M81.4 -72.7h0M95.2 -91.2h0M86.3 -85.9h0M110.1 -83.6h0M121.8 -89.2h0M37.7 -98.1h0M88.9 -90.9h0M109.1 -72.6h0M29.4 -95.8h0M118.8 -73.9h0M123.0 -87.4h0M97.6 -76.3h0M29.4 -90.2h0M125.3 -92.1h0M55.1 -75.3h0M114.7 -88.8h0M29.0 -93.6h0M106.6 -85.6h0M107.4 -78.4h0M115.0 -88.5h0M115.4 -83.4h0M96.7 -77.8h0M83.8 -88.6h0M95.6 -83.5h0M116.4 -85.8h0M121.6 -87.9h0M113.0 -73.3h0M28.2 -95.7h0M114.8 -90.7h0M93.7 -87.0h0M124.4 -84.4h0M95.8 -89.8h0M121.2 -84.7h0M102.0 -82.5h0M99.4 -81.2h0M83.1 -82.6h0M85.5 -85.9h0M85.6 -84.0h0M86.6 -91.2h0M90.3 -70.0h0M71.9 -74.6h0M100.0 -74.0h0M101.3 -77.4h0M115.0 -86.5h0M87.7 -86.6h0M117.5 -72.8h0M90.8 -91.3h0M123.2 -87.3h0M101.2 -92.1h0M97.8 -88.3h0M121.5 -80.2h0M104.0 -79.3h0M88.3 -74.3h0M125.6 -90.6h0M93.4 -78.5h0M100.8 -85.3h0M117.6 -87.9h0M118.9 -91.3h0M86.4 -83.9h0M124.4 -81.9h0M123.3 -89.4h0M49.2 -74.5h0M91.8 -73.5h0M25.5 -100.9h0M31.8 -89.7h0M21.6 -101.3h0M113.1 -80.2h0M99.2 -83.8h0"/><path stroke="#e0a838" stroke-width="2.3" stroke-linecap="round" d="M151.0 -96.2h0M147.1 -93.7h0M147.6 -96.2h0M142.7 -94.5h0M137.8 -92.0h0M153.1 -94.4h0M156.1 -94.3h0M149.5 -94.8h0M139.8 -95.1h0M151.2 -94.9h0M151.8 -92.6h0"/><path stroke="#e85a20" stroke-width="2.3" stroke-linecap="round" d="M152.3 -92.0h0M153.9 -93.1h0M141.7 -94.6h0M138.5 -93.7h0"/><path stroke="#4870d0" stroke-width="2.3" stroke-linecap="round" d="M63.8 -53.4h0M52.3 -54.4h0M62.8 -59.8h0M49.6 -60.0h0M59.4 -53.0h0M56.9 -61.1h0M45.7 -60.1h0M50.6 -58.8h0M61.9 -51.7h0M54.3 -58.4h0M56.4 -55.8h0"/><path stroke="#68d0c0" stroke-width="2.8" stroke-linecap="round" d="M78.0 -50.2h0M80.4 -45.3h0M112.7 -64.6h0"/><path stroke="#32164e" stroke-width="2.8" stroke-linecap="round" d="M75.5 -43.5h0M74.2 -38.6h0M65.5 -36.8h0M89.9 -18.7h0"/><path stroke="#58a0f8" stroke-width="2.8" stroke-linecap="round" d="M71.0 -35.4h0M70.0 -29.9h0M91.6 -39.1h0M97.8 -22.9h0M64.3 -4.6h0"/><path stroke="#4870d0" stroke-width="2.8" stroke-linecap="round" d="M103.5 -53.5h0M85.4 -21.2h0"/></g></svg></body></html>
